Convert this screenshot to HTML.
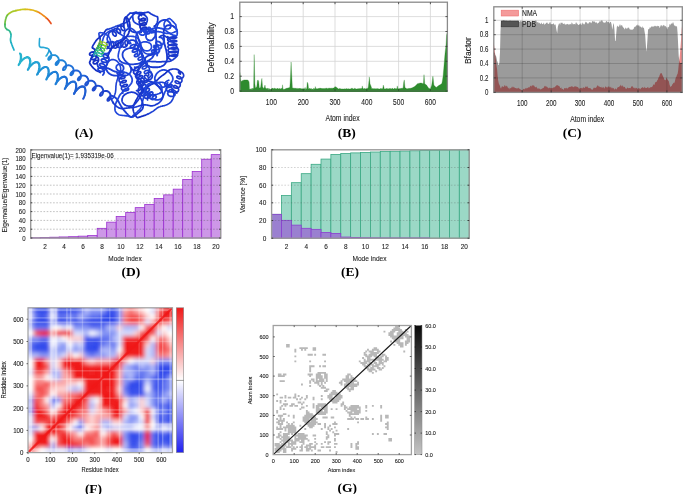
<!DOCTYPE html>
<html><head><meta charset="utf-8"><style>
html,body{margin:0;padding:0;background:#fff;width:685px;height:494px;overflow:hidden}
svg{position:absolute;left:0;top:0;display:block}
</style></head><body>
<svg width="685" height="494" viewBox="0 0 685 494">
<path d="M51.0 23.5 L50.7 23.1 L50.3 22.4 L49.8 21.7 L49.2 20.9 L48.6 20.2 L48.0 19.5 L47.4 18.9 L46.8 18.3 L46.2 17.8" fill="none" stroke="#e8501e" stroke-width="1.7" stroke-linecap="round" stroke-linejoin="round"/>
<path d="M46.2 17.8 L45.5 17.2 L44.8 16.6 L44.0 16.0 L43.1 15.3 L42.2 14.6 L41.2 13.9 L40.1 13.2 L39.1 12.6 L38.0 12.0 L36.9 11.5" fill="none" stroke="#ef8a1c" stroke-width="1.7" stroke-linecap="round" stroke-linejoin="round"/>
<path d="M36.9 11.5 L35.7 11.1 L34.6 10.7 L33.4 10.3 L32.2 10.0 L31.0 9.8 L29.8 9.6 L28.6 9.5 L27.4 9.4 L26.3 9.3 L25.1 9.3" fill="none" stroke="#e2b51a" stroke-width="1.7" stroke-linecap="round" stroke-linejoin="round"/>
<path d="M25.1 9.3 L24.0 9.3 L22.9 9.4 L21.9 9.5 L20.9 9.6 L20.0 9.8 L19.0 10.0 L18.0 10.2 L17.0 10.4 L15.9 10.6" fill="none" stroke="#c8c81e" stroke-width="1.7" stroke-linecap="round" stroke-linejoin="round"/>
<path d="M15.9 10.6 L14.9 10.9 L13.9 11.1 L12.9 11.4 L12.0 11.8 L11.1 12.2 L10.3 12.7 L9.5 13.2 L8.8 13.7 L8.1 14.3 L7.5 15.0" fill="none" stroke="#a8c828" stroke-width="1.7" stroke-linecap="round" stroke-linejoin="round"/>
<path d="M7.5 15.0 L7.0 15.7 L6.6 16.5 L6.2 17.3 L6.0 18.2 L5.7 19.1 L5.5 20.0 L5.3 21.0 L5.1 22.0 L5.0 23.1 L5.0 24.2" fill="none" stroke="#70c040" stroke-width="1.7" stroke-linecap="round" stroke-linejoin="round"/>
<path d="M5.0 24.2 L5.0 25.2 L5.0 26.0 L5.1 26.7 L5.3 27.3 L5.5 27.8 L5.8 28.2 L6.1 28.6 L6.5 29.0 L6.9 29.4" fill="none" stroke="#40b860" stroke-width="1.7" stroke-linecap="round" stroke-linejoin="round"/>
<path d="M6.9 29.4 L7.4 29.7 L8.0 29.9 L8.6 30.2 L9.1 30.6 L9.5 31.0 L9.9 31.5 L10.2 32.1 L10.5 32.8 L10.7 33.5 L10.9 34.3" fill="none" stroke="#30b890" stroke-width="1.7" stroke-linecap="round" stroke-linejoin="round"/>
<path d="M10.9 34.3 L11.0 35.0 L11.0 35.8 L10.9 36.6 L10.8 37.4 L10.6 38.3 L10.5 39.2 L10.5 40.0 L10.6 40.8 L10.8 41.7 L11.1 42.5" fill="none" stroke="#28b8b8" stroke-width="1.7" stroke-linecap="round" stroke-linejoin="round"/>
<path d="M11.1 42.5 L11.4 43.3 L11.7 44.2 L12.0 45.0 L12.3 45.9 L12.7 46.9 L13.1 47.8 L13.5 48.7 L13.8 49.5 L14.0 50.0" fill="none" stroke="#20b0c8" stroke-width="1.7" stroke-linecap="round" stroke-linejoin="round"/>
<path d="M20.0 53.5 L20.6 54.7 L20.8 56.2 L20.8 58.0 L20.6 59.8 L20.1 61.5 L19.6 63.1 L19.1 64.2 L18.8 64.9 L18.6 65.1 L18.6 64.9 L19.0 64.2 L19.7 63.1 L20.6 61.8 L21.8 60.5 L23.2 59.2 L24.6 58.2 L26.0 57.6 L27.3 57.3" fill="none" stroke="#22b0cc" stroke-width="2.0" stroke-linecap="round" stroke-linejoin="round"/>
<path d="M27.3 57.3 L28.4 57.6 L29.3 58.4 L29.8 59.6 L30.1 61.2 L30.0 62.9 L29.7 64.8 L29.3 66.5 L28.8 68.0 L28.3 69.1 L28.0 69.8 L27.8 69.9 L27.9 69.6 L28.3 68.9 L29.0 67.8 L29.9 66.5 L31.1 65.2 L32.5 63.9 L33.9 62.9 L35.3 62.3" fill="none" stroke="#22a2d2" stroke-width="2.0" stroke-linecap="round" stroke-linejoin="round"/>
<path d="M35.3 62.3 L36.6 62.2 L37.7 62.5 L38.5 63.3 L39.1 64.6 L39.3 66.1 L39.2 67.9 L38.9 69.7 L38.5 71.5 L38.0 72.9 L37.5 74.0 L37.2 74.6 L37.0 74.7 L37.1 74.4 L37.5 73.6 L38.3 72.5 L39.3 71.2 L40.5 69.9 L41.9 68.6 L43.3 67.7" fill="none" stroke="#2094d4" stroke-width="2.0" stroke-linecap="round" stroke-linejoin="round"/>
<path d="M43.3 67.7 L44.7 67.1 L46.0 67.0 L47.0 67.4 L47.8 68.2 L48.3 69.5 L48.5 71.1 L48.4 72.9 L48.1 74.7 L47.7 76.4 L47.2 77.8 L46.7 78.9 L46.4 79.5 L46.2 79.5 L46.4 79.1 L46.8 78.3 L47.6 77.2 L48.6 75.9 L49.8 74.6 L51.2 73.4" fill="none" stroke="#2088d8" stroke-width="2.0" stroke-linecap="round" stroke-linejoin="round"/>
<path d="M51.2 73.4 L52.6 72.4 L54.0 71.9 L55.3 71.8 L56.3 72.2 L57.1 73.1 L57.6 74.4 L57.7 76.1 L57.6 77.9 L57.3 79.7 L56.8 81.4 L56.3 82.8 L55.9 83.8 L55.6 84.3 L55.5 84.3 L55.6 83.9 L56.1 83.1 L56.9 81.9 L57.9 80.6" fill="none" stroke="#1f7ad8" stroke-width="2.0" stroke-linecap="round" stroke-linejoin="round"/>
<path d="M57.9 80.6 L59.2 79.3 L60.6 78.1 L62.0 77.2 L63.4 76.7 L64.6 76.6 L65.6 77.1 L66.4 78.0 L66.8 79.4 L67.0 81.0 L66.8 82.8 L66.5 84.7 L66.0 86.3 L65.5 87.7 L65.1 88.6 L64.8 89.1 L64.7 89.1 L64.9 88.7 L65.4 87.8 L66.2 86.6" fill="none" stroke="#1f6cd6" stroke-width="2.0" stroke-linecap="round" stroke-linejoin="round"/>
<path d="M66.2 86.6 L67.2 85.3 L68.5 84.0 L69.9 82.8 L71.3 81.9 L72.7 81.5 L73.9 81.5 L74.9 82.0 L75.6 83.0 L76.1 84.3 L76.2 86.0 L76.0 87.8 L75.7 89.6 L75.2 91.3 L74.7 92.6 L74.2 93.5 L74.0 94.0 L73.9 93.9 L74.1 93.4 L74.7 92.5" fill="none" stroke="#1f60d4" stroke-width="2.0" stroke-linecap="round" stroke-linejoin="round"/>
<path d="M74.7 92.5 L75.5 91.3 L76.6 90.0 L77.8 88.6 L79.2 87.5 L80.7 86.7 L82.0 86.2 L83.2 86.3 L84.2 86.9 L84.9 87.9 L85.3 89.3 L85.4 91.0 L85.2 92.8 L84.9 94.6 L84.4 96.2 L83.9 97.5 L83.4 98.4 L83.2 98.8 L83.1 98.7" fill="none" stroke="#1f55d0" stroke-width="2.0" stroke-linecap="round" stroke-linejoin="round"/>
<path d="M21.0 54.1 L21.3 55.5 L21.4 57.1 L21.2 58.8 L20.9 60.4 L20.4 61.9 L20.0 63.1 L19.6 63.8 L19.3 64.1 L19.3 64.0 L19.6 63.4 L20.2 62.5 L21.0 61.4 L22.1 60.2 L23.4 59.0 L24.7 58.0 L26.1 57.4 L27.4 57.1 L28.6 57.3 L29.5 58.0 L30.1 59.0 L30.5 60.4 L30.6 62.0 L30.4 63.7 L30.0 65.4" fill="none" stroke="#28b4d0" stroke-width="1.6" stroke-linecap="round" stroke-linejoin="round"/>
<path d="M30.0 65.4 L29.6 66.8 L29.1 68.0 L28.7 68.7 L28.5 69.0 L28.5 68.9 L28.8 68.3 L29.3 67.4 L30.2 66.3 L31.3 65.1 L32.6 63.9 L33.9 62.9 L35.3 62.3 L36.6 62.0 L37.8 62.2 L38.7 62.9 L39.3 64.0 L39.7 65.4 L39.7 67.0 L39.5 68.7 L39.2 70.3 L38.7 71.8 L38.3 72.9 L37.9 73.7 L37.7 74.0" fill="none" stroke="#24a4d4" stroke-width="1.6" stroke-linecap="round" stroke-linejoin="round"/>
<path d="M37.7 74.0 L37.7 73.8 L37.9 73.2 L38.5 72.3 L39.4 71.2 L40.5 70.0 L41.7 68.8 L43.1 67.8 L44.5 67.2 L45.8 67.0 L46.9 67.2 L47.8 67.8 L48.5 68.9 L48.8 70.3 L48.9 71.9 L48.7 73.6 L48.3 75.3 L47.9 76.7 L47.4 77.9 L47.0 78.6 L46.8 78.9 L46.8 78.7 L47.1 78.1 L47.7 77.2 L48.5 76.1" fill="none" stroke="#2092d6" stroke-width="1.6" stroke-linecap="round" stroke-linejoin="round"/>
<path d="M48.5 76.1 L49.6 74.9 L50.9 73.7 L52.3 72.8 L53.7 72.1 L55.0 71.9 L56.1 72.1 L57.0 72.8 L57.6 73.9 L58.0 75.3 L58.0 76.9 L57.9 78.6 L57.5 80.2 L57.0 81.7 L56.6 82.8 L56.2 83.5 L56.0 83.8 L56.0 83.6 L56.3 83.0 L56.9 82.1 L57.7 81.0 L58.8 79.8 L60.1 78.6 L61.5 77.7 L62.9 77.0" fill="none" stroke="#1f80d8" stroke-width="1.6" stroke-linecap="round" stroke-linejoin="round"/>
<path d="M62.9 77.0 L64.2 76.8 L65.3 77.0 L66.2 77.7 L66.8 78.8 L67.1 80.2 L67.2 81.8 L67.0 83.6 L66.6 85.2 L66.2 86.6 L65.7 87.8 L65.3 88.5 L65.1 88.7 L65.1 88.6 L65.4 88.0 L66.0 87.0 L66.9 85.9 L68.0 84.7 L69.3 83.5 L70.7 82.6 L72.0 82.0 L73.3 81.7 L74.5 82.0 L75.4 82.7 L76.0 83.7" fill="none" stroke="#1f70d6" stroke-width="1.6" stroke-linecap="round" stroke-linejoin="round"/>
<path d="M76.0 83.7 L76.3 85.2 L76.4 86.8 L76.2 88.5 L75.8 90.1 L75.3 91.6 L74.9 92.7 L74.5 93.4 L74.3 93.7 L74.3 93.5 L74.6 92.9 L75.2 91.9 L76.1 90.8 L77.2 89.6 L78.5 88.4 L79.8 87.5 L81.2 86.9 L82.5 86.7 L83.6 86.9 L84.5 87.6 L85.1 88.7 L85.5 90.1 L85.5 91.8 L85.3 93.5 L84.9 95.1" fill="none" stroke="#1f60d2" stroke-width="1.6" stroke-linecap="round" stroke-linejoin="round"/>
<path d="M39.6 38.5 L39.5 39.7 L39.4 41.5 L39.3 43.4 L39.3 45.2 L39.6 46.5 L40.2 47.1 L41.0 47.4 L42.0 47.4 L43.0 47.3 L44.0 47.5 L45.1 47.8 L46.3 48.1 L47.5 48.4 L48.4 48.9 L49.0 49.5 L49.0 50.4 L48.7 51.7 L48.1 53.0 L47.4 54.1 L47.0 55.0 L46.7 55.5 L46.5 55.8 L46.3 55.9 L46.1 55.9 L46.0 56.0" fill="none" stroke="#28a8d6" stroke-width="1.6" stroke-linecap="round" stroke-linejoin="round"/>
<path d="M49.2 50.8 L50.2 51.7 L50.9 52.9 L51.3 54.2 L51.4 55.6 L51.2 57.0 L50.8 58.1 L50.2 59.0 L49.5 59.6 L48.9 59.9 L48.5 59.8 L48.2 59.3 L48.3 58.7 L48.6 57.8 L49.3 57.0 L50.2 56.1 L51.4 55.5 L52.8 55.1 L54.2 55.1 L55.5 55.3 L56.7 56.0 L57.7 56.9 L58.4 58.1 L58.8 59.5 L58.8 60.9 L58.6 62.2" fill="none" stroke="#2290d8" stroke-width="1.9" stroke-linecap="round" stroke-linejoin="round"/>
<path d="M58.6 62.2 L58.1 63.3 L57.5 64.2 L56.9 64.8 L56.3 65.0 L55.8 64.9 L55.6 64.4 L55.7 63.7 L56.0 62.9 L56.7 62.0 L57.7 61.2 L58.9 60.6 L60.3 60.2 L61.7 60.2 L63.0 60.5 L64.2 61.2 L65.2 62.1 L65.8 63.3 L66.2 64.7 L66.2 66.1 L66.0 67.4 L65.5 68.5 L64.9 69.4 L64.2 69.9 L63.7 70.1 L63.2 70.0" fill="none" stroke="#1f80d8" stroke-width="1.9" stroke-linecap="round" stroke-linejoin="round"/>
<path d="M63.2 70.0 L63.0 69.5 L63.1 68.8 L63.5 67.9 L64.2 67.1 L65.2 66.3 L66.4 65.7 L67.8 65.3 L69.2 65.3 L70.5 65.7 L71.7 66.4 L72.6 67.3 L73.3 68.6 L73.6 69.9 L73.6 71.3 L73.3 72.6 L72.9 73.7 L72.2 74.6 L71.6 75.1 L71.0 75.2 L70.6 75.1 L70.4 74.6 L70.5 73.8 L70.9 73.0 L71.7 72.1 L72.7 71.3" fill="none" stroke="#1f70d8" stroke-width="1.9" stroke-linecap="round" stroke-linejoin="round"/>
<path d="M72.7 71.3 L73.9 70.8 L75.3 70.4 L76.7 70.5 L78.0 70.8 L79.2 71.5 L80.1 72.6 L80.7 73.8 L81.0 75.2 L81.0 76.5 L80.7 77.8 L80.2 78.9 L79.6 79.7 L78.9 80.2 L78.4 80.4 L78.0 80.1 L77.8 79.6 L77.9 78.9 L78.4 78.1 L79.1 77.2 L80.2 76.4 L81.4 75.8 L82.8 75.6 L84.2 75.6 L85.5 76.0 L86.6 76.7" fill="none" stroke="#1f62d6" stroke-width="1.9" stroke-linecap="round" stroke-linejoin="round"/>
<path d="M86.6 76.7 L87.5 77.8 L88.1 79.0 L88.4 80.4 L88.4 81.8 L88.1 83.0 L87.6 84.1 L86.9 84.9 L86.3 85.4 L85.7 85.5 L85.3 85.2 L85.2 84.7 L85.3 84.0 L85.8 83.1 L86.6 82.2 L87.7 81.5 L88.9 80.9 L90.3 80.7 L91.7 80.7 L93.0 81.2 L94.1 81.9 L95.0 83.0 L95.6 84.2 L95.8 85.6 L95.8 87.0 L95.4 88.3" fill="none" stroke="#1f55d2" stroke-width="1.9" stroke-linecap="round" stroke-linejoin="round"/>
<path d="M95.4 88.3 L94.9 89.3 L94.3 90.1 L93.6 90.5 L93.1 90.6 L92.7 90.3 L92.6 89.8 L92.8 89.0 L93.3 88.2 L94.1 87.3 L95.2 86.6 L96.4 86.0 L97.8 85.8 L99.2 85.9 L100.5 86.3 L101.6 87.1 L102.4 88.2 L103.0 89.5 L103.2 90.9 L103.2 92.2 L102.8 93.5 L102.3 94.5 L101.6 95.3 L101.0 95.7 L100.5 95.7 L100.1 95.4" fill="none" stroke="#1f4ace" stroke-width="1.9" stroke-linecap="round" stroke-linejoin="round"/>
<path d="M100.1 95.4 L100.0 94.9 L100.2 94.1 L100.7 93.2 L101.6 92.4 L102.6 91.6 L103.9 91.1 L105.3 90.9 L106.7 91.0 L108.0 91.5 L109.1 92.3 L109.9 93.4 L110.4 94.7 L110.6 96.1 L110.5 97.4 L110.2 98.7 L109.6 99.7 L109.0 100.4 L108.4 100.8 L107.8 100.8 L107.5 100.5 L107.4 99.9 L107.6 99.1 L108.2 98.3 L109.0 97.4 L110.1 96.7" fill="none" stroke="#1f42cc" stroke-width="1.9" stroke-linecap="round" stroke-linejoin="round"/>
<path d="M107.0 48.7 L107.9 48.0 L108.7 47.1 L109.2 46.0 L109.4 44.7 L109.3 43.6 L108.9 42.7 L108.4 42.1 L107.8 41.9 L107.3 42.1 L106.8 42.7 L106.6 43.7 L106.7 44.8 L107.0 45.9 L107.6 47.0 L108.5 47.8 L109.5 48.4 L110.6 48.5 L111.7 48.2 L112.6 47.5 L113.3 46.6 L113.8 45.4 L113.9 44.2 L113.8 43.1 L113.5 42.2 L112.9 41.7 L112.3 41.5 L111.8 41.8 L111.4 42.4 L111.2 43.3 L111.3 44.4 L111.6 45.6 L112.3 46.7 L113.2 47.5 L114.2 48.0 L115.3 48.1 L116.3 47.7 L117.3 47.1 L118.0 46.1 L118.4 44.9 L118.5 43.7 L118.4 42.6 L118.0 41.7 L117.5 41.2 L116.9 41.1 L116.3 41.4 L115.9 42.1 L115.8 43.0 L115.9 44.1 L116.3 45.3 L116.9 46.3 L117.8 47.1 L118.9 47.6 L120.0 47.6 L121.0 47.3 L121.9 46.6 L122.6 45.5 L123.0 44.4 L123.1 43.2 L122.9 42.1 L122.5 41.3 L122.0 40.8 L121.4 40.7 L120.9 41.0 L120.5 41.7 L120.3 42.7 L120.5 43.8 L120.9 45.0 L121.6 46.0 L122.5 46.8 L123.6 47.2 L124.7 47.2 L125.7 46.8 L126.6 46.1 L127.2 45.0 L127.6 43.8 L127.7 42.6 L127.5 41.6 L127.1 40.8 L126.5 40.3 L125.9 40.3 L125.4 40.7 L125.1 41.4 L124.9 42.4 L125.1 43.5 L125.5 44.7 L126.2 45.7" fill="none" stroke="#1a38cc" stroke-width="1.7" stroke-linecap="round" stroke-linejoin="round"/>
<path d="M167.6 36.7 L168.4 37.3 L169.6 37.9 L171.1 38.2 L172.7 38.4 L174.2 38.3 L175.5 38.1 L176.3 37.8 L176.7 37.5 L176.4 37.1 L175.7 36.9 L174.5 36.7 L173.0 36.8 L171.4 37.0 L169.9 37.5 L168.7 38.1 L167.9 38.8 L167.6 39.5 L167.8 40.3 L168.6 40.9 L169.8 41.5 L171.3 41.8 L172.9 42.0 L174.4 41.9 L175.7 41.7 L176.5 41.4 L176.8 41.1 L176.6 40.7 L175.8 40.5 L174.7 40.3 L173.2 40.4 L171.6 40.6 L170.1 41.1 L168.8 41.7 L168.0 42.4 L167.7 43.2 L168.0 43.9 L168.8 44.5 L170.0 45.1 L171.5 45.4 L173.1 45.6 L174.6 45.5 L175.8 45.3 L176.7 45.0 L177.0 44.6 L176.8 44.3 L176.0 44.0 L174.8 43.9 L173.3 44.0 L171.7 44.2 L170.2 44.7 L169.0 45.3 L168.2 46.0 L167.9 46.8 L168.2 47.5 L168.9 48.2 L170.2 48.7 L171.7 49.0 L173.3 49.2 L174.8 49.1 L176.0 48.9 L176.9 48.6 L177.2 48.2 L176.9 47.9 L176.1 47.6 L174.9 47.5 L173.4 47.6 L171.9 47.9 L170.4 48.3 L169.1 48.9 L168.3 49.6 L168.0 50.4 L168.3 51.1 L169.1 51.8 L170.3 52.3 L171.9 52.6 L173.5 52.7 L175.0 52.7 L176.2 52.5 L177.0 52.2 L177.3 51.8 L177.1 51.5 L176.3 51.2 L175.1 51.1 L173.6 51.2 L172.0 51.5 L170.5 51.9 L169.3 52.5 L168.5 53.2 L168.2 54.0 L168.5 54.7 L169.3 55.4 L170.5 55.9 L172.0 56.2 L173.7 56.3 L175.2 56.3 L176.4 56.1 L177.2 55.8 L177.5 55.4 L177.2 55.1 L176.4 54.8 L175.2 54.7 L173.7 54.8 L172.1 55.1 L170.6 55.5 L169.4 56.1 L168.6 56.8 L168.4 57.6 L168.7 58.3 L169.5 59.0 L170.7 59.5" fill="none" stroke="#1a38cc" stroke-width="1.7" stroke-linecap="round" stroke-linejoin="round"/>
<path d="M117.1 73.5 L117.8 74.2 L118.9 74.6 L120.1 74.8 L121.3 74.7 L122.4 74.4 L123.2 73.9 L123.7 73.4 L123.8 72.9 L123.5 72.5 L122.9 72.3 L122.0 72.3 L120.9 72.6 L119.8 73.2 L118.9 73.9 L118.2 74.8 L117.8 75.8 L117.9 76.8 L118.3 77.6 L119.1 78.2 L120.2 78.6 L121.4 78.8 L122.6 78.7 L123.7 78.3 L124.5 77.9 L124.9 77.4 L125.0 76.9 L124.7 76.5 L124.0 76.3 L123.1 76.4 L122.0 76.7 L120.9 77.3 L120.0 78.0 L119.3 79.0 L119.0 79.9 L119.1 80.9 L119.6 81.7 L120.4 82.3 L121.5 82.7 L122.7 82.8 L123.9 82.7 L125.0 82.3 L125.7 81.9 L126.2 81.3 L126.2 80.8 L125.8 80.5 L125.1 80.3 L124.2 80.4 L123.1 80.8 L122.0 81.4 L121.1 82.2 L120.5 83.1 L120.2 84.1 L120.4 85.0 L120.9 85.8 L121.7 86.4 L122.8 86.7 L124.0 86.8 L125.2 86.7 L126.3 86.3 L127.0 85.8 L127.4 85.3 L127.4 84.8 L127.0 84.5 L126.2 84.3 L125.3 84.5 L124.2 84.8 L123.1 85.4 L122.3 86.3 L121.7 87.2 L121.4 88.2 L121.6 89.1 L122.1 89.9 L123.0 90.5 L124.2 90.8 L125.4 90.8 L126.5 90.7 L127.6 90.3 L128.3 89.8 L128.6 89.3 L128.6 88.8 L128.1 88.5 L127.4 88.4 L126.4 88.5 L125.3 88.9 L124.3 89.5 L123.4 90.4 L122.8 91.3 L122.6 92.3 L122.8 93.2" fill="none" stroke="#1a38cc" stroke-width="1.7" stroke-linecap="round" stroke-linejoin="round"/>
<path d="M136.5 90.7 L137.5 90.9 L138.5 90.7 L139.6 90.2 L140.5 89.5 L141.2 88.7 L141.6 87.9 L141.7 87.2 L141.5 86.7 L141.0 86.6 L140.4 86.7 L139.7 87.2 L139.0 88.0 L138.4 88.9 L138.1 90.0 L138.0 91.1 L138.3 92.1 L138.8 92.9 L139.6 93.3 L140.6 93.4 L141.7 93.2 L142.7 92.7 L143.6 92.0 L144.3 91.2 L144.7 90.4 L144.7 89.7 L144.5 89.3 L144.0 89.1 L143.4 89.3 L142.7 89.8 L142.0 90.6 L141.5 91.6 L141.1 92.7 L141.1 93.8 L141.4 94.7 L142.0 95.5 L142.8 95.9 L143.8 96.0 L144.8 95.8 L145.9 95.2 L146.7 94.5 L147.4 93.7 L147.8 92.9 L147.8 92.2 L147.6 91.8 L147.1 91.7 L146.4 91.9 L145.7 92.4 L145.0 93.2 L144.5 94.2 L144.2 95.3 L144.2 96.4 L144.5 97.4 L145.1 98.1 L145.9 98.5 L146.9 98.5 L148.0 98.3 L149.0 97.8 L149.9 97.0 L150.5 96.2 L150.8 95.4 L150.9 94.8 L150.6 94.3 L150.1 94.2 L149.4 94.5 L148.7 95.0 L148.1 95.8 L147.5 96.9 L147.3 98.0 L147.3 99.0 L147.6 100.0" fill="none" stroke="#1a38cc" stroke-width="1.7" stroke-linecap="round" stroke-linejoin="round"/>
<path d="M112.0 99.0 L112.6 98.5 L113.1 97.9 L113.6 97.2 L114.0 96.5 L114.3 95.8 L114.6 95.0 L114.9 94.3 L115.1 93.5 L115.3 92.8 L115.5 92.0 L115.6 91.2 L115.7 90.4 L115.8 89.6 L115.8 88.8 L115.9 88.0 L115.9 87.2 L115.9 86.4 L116.0 85.6 L116.1 84.8 L116.2 84.0 L116.3 83.2 L116.5 82.4 L116.7 81.7 L116.9 80.9 L117.1 80.1 L117.4 79.4 L117.7 78.6 L118.0 77.9 L118.3 77.2 L118.7 76.4 L119.0 75.7 L119.3 75.0 L119.6 74.2 L119.9 73.5 L120.2 72.7 L120.4 72.0 L120.6 71.2 L120.7 70.4 L120.7 69.6 L120.7 68.8 L120.6 68.0 L120.5 67.2 L120.3 66.4 L120.1 65.7 L119.8 64.9 L119.5 64.2 L119.1 63.5 L118.6 62.9 L118.1 62.3 L117.5 61.7 L116.9 61.2 L116.3 60.7 L115.6 60.3 L114.8 60.0 L114.1 59.8 L113.3 59.6 L112.5 59.6 L111.7 59.6 L110.9 59.9 L110.2 60.2 L109.6 60.7 L109.0 61.3 L108.4 61.9 L107.9 62.5 L107.5 63.1 L107.0 63.8 L106.7 64.5 L106.4 65.2 L106.2 66.0 L106.2 66.8 L106.2 67.6 L106.2 68.4 L106.4 69.2 L106.6 70.0 L106.9 70.7 L107.3 71.4" fill="none" stroke="#1e42d6" stroke-width="1.6090541791316095" stroke-linecap="round" stroke-linejoin="round"/>
<path d="M107.3 71.4 L107.7 72.1 L108.3 72.7 L108.9 73.2 L109.5 73.7 L110.2 74.1 L110.8 74.6 L111.6 74.9 L112.3 75.2 L113.1 75.4 L113.9 75.5 L114.7 75.6 L115.5 75.6 L116.3 75.6 L117.1 75.6 L117.9 75.6 L118.7 75.6 L119.5 75.6 L120.3 75.5 L121.1 75.5 L121.9 75.5 L122.7 75.5 L123.5 75.5 L124.3 75.5 L125.1 75.5 L125.9 75.5 L126.6 75.3 L127.4 75.0 L128.1 74.7 L128.8 74.2 L129.4 73.7 L129.9 73.1 L130.4 72.5 L130.8 71.8 L131.0 71.0 L131.1 70.2 L131.1 69.4 L131.0 68.6 L130.8 67.8 L130.5 67.1 L130.2 66.4 L129.8 65.7 L129.4 65.0 L128.9 64.4 L128.3 63.8 L127.8 63.2 L127.2 62.7 L126.6 62.1 L126.0 61.6 L125.5 61.0 L124.9 60.4 L124.4 59.7 L124.0 59.1 L123.6 58.4 L123.2 57.7 L122.9 56.9 L122.7 56.2 L122.6 55.4 L122.5 54.6 L122.6 53.8 L122.7 53.0 L123.0 52.3 L123.4 51.6 L123.9 50.9 L124.5 50.4 L125.1 49.8 L125.8 49.4 L126.5 49.1 L127.2 48.8 L128.0 48.5 L128.8 48.3 L129.5 48.2 L130.3 48.1 L131.1 48.0 L131.9 47.9 L132.7 47.9 L133.5 47.9 L134.3 48.1 L135.1 48.2 L135.9 48.4 L136.6 48.7 L137.4 49.0 L138.0 49.4 L138.6 50.0 L139.2 50.5 L139.7 51.2 L140.2 51.8 L140.6 52.5 L141.0 53.2 L141.3 53.9 L141.6 54.6 L141.9 55.4 L142.2 56.1 L142.5 56.9 L142.6 57.7 L142.8 58.5 L142.8 59.3 L142.7 60.1 L142.5 60.8 L142.3 61.6 L142.0 62.3 L141.7 63.1 L141.3 63.8 L140.8 64.4 L140.3 65.0 L139.7 65.6 L139.1 66.1 L138.4 66.5 L137.7 66.9 L136.9 67.1 L136.2 67.3 L135.4 67.3 L134.6 67.2" fill="none" stroke="#1c40d4" stroke-width="1.8001167690603725" stroke-linecap="round" stroke-linejoin="round"/>
<path d="M131.4 67.8 L131.9 69.1 L132.9 70.1 L134.3 70.7 L135.8 70.7 L137.2 70.3 L138.3 69.5 L138.7 68.6 L138.6 67.9 L137.8 67.5 L136.7 67.6 L135.5 68.2 L134.3 69.2 L133.6 70.6 L133.5 72.1 L134.0 73.4 L135.1 74.4 L136.5 74.8 L138.1 74.8 L139.5 74.3 L140.4 73.5 L140.8 72.6 L140.6 71.9 L139.8 71.6 L138.6 71.7 L137.4 72.4 L136.3 73.5 L135.7 74.9 L135.6 76.4 L136.2 77.7 L137.3 78.6 L138.8 79.0 L140.3 78.9 L141.7 78.3 L142.6 77.5 L142.9 76.7 L142.5 76.0 L141.7 75.7 L140.5 75.9 L139.3 76.6 L138.2 77.8 L137.7 79.2 L137.7 80.7 L138.4 81.9 L139.5 82.8" fill="none" stroke="#1838d0" stroke-width="1.8133419444733785" stroke-linecap="round" stroke-linejoin="round"/>
<path d="M142.3 83.2 L142.6 82.2 L142.3 81.3 L141.6 80.9 L140.6 81.0 L139.5 81.6 L138.8 82.8 L138.5 84.3 L138.7 85.8 L139.5 87.2 L140.8 88.1 L142.3 88.5 L143.8 88.3 L145.0 87.7 L145.8 86.7 L146.0 85.7 L145.7 84.9 L144.9 84.5 L143.9 84.7 L142.9 85.4 L142.1 86.6 L141.9 88.1 L142.2 89.6 L143.1 90.9 L144.4 91.8 L145.9 92.2 L147.4 91.9 L148.6 91.3 L149.3 90.3 L149.4 89.3 L149.0 88.5 L148.2 88.2 L147.2 88.4 L146.2 89.2 L145.5 90.4 L145.3 91.9 L145.7 93.5 L146.6 94.7 L148.0 95.6 L149.5 95.8 L151.0 95.5 L152.1 94.8 L152.8 93.8 L152.8 92.8 L152.4 92.1 L151.5 91.8 L150.5 92.1 L149.5 93.0 L148.9 94.2 L148.8 95.8 L149.2 97.3 L150.2 98.5 L151.6 99.3 L153.1 99.5 L154.5 99.1 L155.6 98.4 L156.2 97.4 L156.2 96.4 L155.7 95.7 L154.8 95.5 L153.8 95.8 L152.9 96.7 L152.3 98.1" fill="none" stroke="#1c40d4" stroke-width="1.780728582502297" stroke-linecap="round" stroke-linejoin="round"/>
<path d="M152.3 98.1 L152.9 98.6 L153.5 99.0 L154.3 99.4 L155.0 99.6 L155.8 99.8 L156.6 99.9 L157.4 99.9 L158.2 99.8 L159.0 99.7 L159.7 99.4 L160.5 99.1 L161.1 98.7 L161.8 98.2 L162.3 97.6 L162.7 96.9 L163.1 96.2 L163.5 95.5 L163.8 94.7 L164.1 94.0 L164.4 93.3 L164.7 92.5 L165.0 91.8 L165.4 91.1 L165.7 90.4 L166.1 89.6 L166.4 88.9 L166.8 88.2 L167.2 87.5 L167.6 86.8 L168.1 86.2 L168.6 85.6 L169.1 85.0 L169.7 84.4 L170.2 83.8 L170.7 83.2 L171.3 82.6 L171.7 82.0 L172.2 81.3 L172.5 80.5 L172.7 79.8 L172.9 79.0 L172.8 78.2 L172.7 77.4 L172.5 76.6 L172.1 75.9 L171.7 75.2 L171.3 74.6 L170.8 73.9 L170.3 73.3 L169.7 72.7 L169.2 72.2 L168.6 71.6 L167.9 71.2 L167.2 70.8 L166.5 70.5 L165.7 70.2 L164.9 70.0 L164.1 69.9 L163.3 69.9 L162.5 70.0 L161.8 70.2 L161.0 70.5 L160.3 70.8 L159.6 71.1 L158.9 71.6 L158.2 72.1 L157.7 72.6 L157.1 73.2 L156.6 73.8 L156.2 74.5 L155.8 75.2 L155.5 75.9 L155.2 76.7 L154.9 77.4 L154.8 78.2 L154.8 79.0 L154.9 79.8 L155.1 80.6 L155.3 81.3 L155.7 82.1 L156.0 82.8 L156.3 83.5 L156.7 84.2 L157.2 84.9 L157.7 85.5 L158.3 86.0 L159.0 86.5 L159.7 86.8 L160.5 87.0 L161.2 87.2 L162.0 87.2 L162.8 87.2 L163.6 87.1 L164.4 86.8 L165.1 86.5 L165.8 86.0 L166.3 85.5 L166.8 84.8 L167.2 84.1 L167.5 83.4 L167.7 82.6" fill="none" stroke="#2248dc" stroke-width="1.7702449284441806" stroke-linecap="round" stroke-linejoin="round"/>
<path d="M168.8 80.2 L167.5 80.7 L166.2 81.6 L165.2 82.8 L164.8 84.2 L165.1 85.5 L165.9 86.6 L167.3 87.2 L168.9 87.4 L170.4 87.2 L171.6 86.6 L172.1 85.8 L172.1 85.1 L171.3 84.7 L170.2 84.8 L168.8 85.2 L167.5 86.2 L166.6 87.4 L166.2 88.8 L166.6 90.1 L167.5 91.2 L168.9 91.8 L170.5 91.9 L172.0 91.6 L173.1 91.0 L173.6 90.3 L173.5 89.6 L172.7 89.2 L171.5 89.3 L170.1 89.8 L168.8 90.8 L168.0 92.1 L167.7 93.5 L168.1 94.8 L169.1 95.8 L170.5 96.4 L172.1 96.4 L173.6 96.1 L174.6 95.5 L175.1 94.7 L174.9 94.1 L174.0 93.7" fill="none" stroke="#1c40d4" stroke-width="1.7096612848298942" stroke-linecap="round" stroke-linejoin="round"/>
<path d="M176.8 93.2 L176.1 91.9 L175.0 90.9 L173.8 90.4 L172.6 90.3 L171.9 90.6 L171.7 91.2 L172.2 92.0 L173.2 92.6 L174.5 92.9 L176.0 92.7 L177.3 92.1 L178.3 91.1 L178.7 89.8 L178.4 88.4 L177.7 87.1 L176.5 86.2 L175.3 85.6 L174.2 85.6 L173.6 86.0 L173.4 86.6 L173.9 87.3 L175.0 87.9 L176.3 88.2 L177.8 88.0 L179.1 87.3 L180.0 86.3 L180.3 84.9 L180.1 83.5 L179.3 82.3 L178.1 81.4 L176.9 80.9 L175.8 80.9 L175.2 81.3 L175.1 82.0 L175.7 82.7 L176.8 83.2 L178.2 83.5 L179.7 83.2 L180.9 82.5 L181.8 81.4 L182.0 80.1 L181.7 78.7 L180.8 77.5 L179.7 76.6 L178.4 76.2 L177.4 76.2 L176.8 76.7 L176.9 77.4 L177.5 78.1 L178.6 78.6 L180.0 78.8 L181.5 78.5 L182.7 77.7 L183.5 76.6 L183.7 75.2 L183.3 73.9 L182.4 72.7 L181.2 71.8 L180.0 71.5 L179.0 71.6 L178.5 72.0 L178.6 72.7 L179.3 73.4 L180.4 73.9" fill="none" stroke="#1a3acc" stroke-width="1.6702826637233765" stroke-linecap="round" stroke-linejoin="round"/>
<path d="M180.4 73.9 L180.5 73.1 L180.3 72.3 L180.0 71.6 L179.6 70.9 L179.0 70.4 L178.3 69.9 L177.6 69.6 L176.9 69.3 L176.1 69.1 L175.3 69.0 L174.5 69.0 L173.7 69.0 L172.9 69.0 L172.1 69.2 L171.3 69.3 L170.5 69.5 L169.8 69.8 L169.1 70.2 L168.4 70.6 L167.8 71.1 L167.2 71.6 L166.6 72.2 L166.0 72.7 L165.4 73.3 L164.8 73.8 L164.2 74.2 L163.5 74.7 L162.8 75.2 L162.2 75.6 L161.5 76.1 L160.9 76.6 L160.3 77.1 L159.7 77.6 L159.1 78.1 L158.5 78.7 L158.0 79.3 L157.4 79.8 L156.8 80.4 L156.2 80.9 L155.6 81.4 L154.9 81.9 L154.3 82.4 L153.6 82.8 L153.0 83.3 L152.3 83.8 L151.7 84.2 L151.0 84.6 L150.3 85.0 L149.6 85.5 L149.0 85.9 L148.3 86.3 L147.6 86.8 L147.0 87.2 L146.3 87.7 L145.7 88.2 L145.1 88.8 L144.6 89.4 L144.0 89.9 L143.4 90.5 L142.9 91.0 L142.3 91.6 L141.7 92.2 L141.2 92.8 L140.7 93.4 L140.1 94.0 L139.6 94.6 L139.1 95.2 L138.7 95.9 L138.2 96.5 L137.8 97.2 L137.4 97.9 L137.0 98.6 L136.6 99.3 L136.2 100.0 L135.8 100.7 L135.4 101.4 L135.1 102.1 L134.7 102.8 L134.4 103.5 L134.1 104.3 L133.8 105.0 L133.5 105.8 L133.3 106.5 L133.1 107.3 L133.0 108.1 L133.1 108.9 L133.1 109.7 L133.3 110.5 L133.5 111.3 L133.7 112.0 L134.0 112.8 L134.3 113.5 L134.7 114.2 L135.1 114.9 L135.5 115.6 L136.0 116.3 L136.5 116.9 L137.0 117.4 L137.8 117.6 L138.6 117.4 L139.4 117.2 L140.1 116.9 L140.9 116.6 L141.6 116.3 L142.4 116.1 L143.2 115.9 L143.9 115.6 L144.7 115.4 L145.4 115.1 L146.2 114.8 L146.9 114.5 L147.6 114.2" fill="none" stroke="#1530c4" stroke-width="1.7044389774528388" stroke-linecap="round" stroke-linejoin="round"/>
<path d="M147.6 114.2 L148.4 113.9 L149.1 113.5 L149.8 113.1 L150.5 112.7 L151.2 112.3 L151.9 111.9 L152.6 111.5 L153.2 111.1 L153.9 110.6 L154.5 110.1 L155.1 109.6 L155.8 109.1 L156.4 108.6 L157.0 108.1 L157.7 107.7 L158.4 107.3 L159.1 107.0 L159.9 106.7 L160.6 106.4 L161.4 106.2 L162.2 106.1 L163.0 105.9 L163.8 105.8 L164.5 105.6 L165.3 105.3 L166.1 105.0 L166.8 104.7 L167.5 104.4 L168.2 104.0 L168.9 103.6 L169.6 103.2 L170.2 102.6 L170.8 102.1 L171.3 101.5 L171.8 100.9 L172.2 100.2 L172.6 99.5 L172.9 98.8 L173.2 98.0 L173.5 97.3 L173.7 96.5 L173.8 95.7 L173.9 94.9 L173.9 94.1 L173.8 93.3 L173.7 92.5 L173.6 91.7 L173.4 90.9 L173.1 90.2 L172.8 89.4 L172.4 88.7 L172.0 88.1 L171.5 87.4 L170.9 86.9 L170.3 86.4 L169.7 85.9 L169.0 85.4 L168.3 85.0 L167.7 84.6 L167.0 84.1 L166.3 83.8 L165.6 83.4 L164.8 83.1 L164.1 82.8 L163.3 82.6 L162.5 82.4 L161.7 82.3 L160.9 82.2 L160.1 82.3 L159.4 82.4 L158.6 82.5 L157.8 82.6 L157.0 82.8 L156.2 82.9 L155.4 83.1 L154.6 83.2 L153.9 83.4 L153.1 83.7 L152.3 83.9 L151.6 84.1 L150.8 84.4 L150.1 84.7 L149.3 85.0 L148.6 85.3 L147.9 85.7 L147.3 86.2 L146.7 86.8 L146.3 87.4 L146.0 88.2 L145.8 88.9 L145.8 89.7 L146.0 90.5 L146.3 91.3 L146.7 91.9 L147.3 92.5 L147.9 93.1 L148.5 93.5 L149.2 93.9 L149.9 94.3 L150.7 94.5 L151.5 94.7 L152.3 94.9 L153.1 94.9 L153.9 94.9 L154.7 94.8 L155.4 94.6 L156.2 94.5 L157.0 94.3 L157.8 94.0 L158.5 93.8 L159.3 93.5 L160.0 93.2" fill="none" stroke="#1c40d4" stroke-width="1.6602220334339624" stroke-linecap="round" stroke-linejoin="round"/>
<path d="M160.0 93.2 L160.7 92.7 L161.2 92.1 L161.6 91.4 L161.9 90.7 L162.0 89.9 L162.0 89.1 L161.9 88.3 L161.8 87.5 L161.6 86.7 L161.3 86.0 L160.9 85.3 L160.5 84.6 L160.0 84.0 L159.4 83.5 L158.7 83.0 L158.0 82.7 L157.2 82.4 L156.4 82.2 L155.6 82.2 L154.8 82.1 L154.0 82.1 L153.3 82.2 L152.5 82.3 L151.7 82.5 L150.9 82.7 L150.2 83.0 L149.4 83.3 L148.7 83.7 L148.1 84.2 L147.5 84.7 L146.9 85.3 L146.5 86.0 L146.1 86.7 L145.7 87.4 L145.4 88.1 L145.2 88.9 L144.9 89.6 L144.7 90.4 L144.5 91.2 L144.3 91.9 L144.1 92.7 L144.0 93.5 L143.9 94.3 L143.8 95.1 L143.7 95.9 L143.6 96.7 L143.5 97.5 L143.4 98.3 L143.2 99.1 L143.0 99.8 L142.8 100.6 L142.5 101.4 L142.3 102.1 L142.1 102.9 L141.9 103.7 L141.7 104.5 L141.6 105.2 L141.4 106.0 L141.2 106.8 L140.9 107.5 L140.5 108.3 L140.1 108.9 L139.6 109.6 L139.1 110.2 L138.5 110.7 L137.9 111.2 L137.3 111.8 L136.7 112.3 L136.1 112.8 L135.5 113.4 L134.9 113.9 L134.3 114.5 L133.8 115.0 L133.2 115.5 L132.6 116.1 L132.0 116.6 L131.4 117.2 L130.6 117.1 L129.9 116.8 L129.1 116.5 L128.4 116.2 L127.6 116.0 L126.8 115.9 L126.0 115.8 L125.2 115.7 L124.4 115.6 L123.6 115.5 L122.8 115.5 L122.0 115.4 L121.3 115.3 L120.5 115.2 L119.7 115.0 L118.9 114.7 L118.2 114.3 L117.5 113.9 L116.9 113.4 L116.4 112.8 L115.9 112.2 L115.5 111.5 L115.2 110.8 L115.0 110.0 L114.9 109.2 L114.9 108.4 L114.9 107.6 L115.0 106.8 L115.1 106.0 L115.3 105.2 L115.4 104.4 L115.7 103.7 L116.0 102.9 L116.3 102.2 L116.7 101.5" fill="none" stroke="#2248dc" stroke-width="1.6666880440198832" stroke-linecap="round" stroke-linejoin="round"/>
<path d="M116.7 101.5 L117.0 100.8 L117.4 100.1 L117.7 99.3 L118.1 98.6 L118.4 97.9 L118.8 97.2 L119.1 96.5 L119.5 95.7 L119.9 95.1 L120.4 94.4 L120.9 93.8 L121.5 93.3 L122.1 92.7 L122.6 92.2 L123.2 91.6 L123.9 91.1 L124.5 90.6 L125.1 90.1 L125.7 89.6 L126.3 89.1 L126.9 88.6 L127.5 88.0 L128.0 87.4 L128.5 86.8 L129.0 86.2 L129.6 85.6 L130.1 84.9 L130.6 84.3 L131.1 83.7 L131.5 83.0 L131.8 82.3 L132.0 81.5 L132.2 80.7 L132.2 79.9 L132.1 79.1 L132.0 78.3 L131.7 77.6 L131.4 76.9 L131.0 76.2 L130.5 75.5 L130.0 74.9 L129.4 74.4 L128.7 73.9 L128.0 73.5 L127.3 73.2 L126.6 72.9 L125.8 72.6 L125.0 72.4 L124.3 72.2 L123.5 72.1 L122.7 71.9 L121.9 71.8 L121.1 71.6 L120.4 71.4 L119.6 71.1 L118.9 70.8 L118.1 70.5 L117.5 70.0 L116.9 69.5 L116.5 68.8 L116.2 68.0 L116.2 67.2 L116.4 66.4 L116.7 65.7 L117.2 65.1 L117.9 64.6 L118.6 64.3 L119.4 64.2 L120.2 64.2 L121.0 64.4 L121.7 64.7" fill="none" stroke="#2248dc" stroke-width="1.7552664543685825" stroke-linecap="round" stroke-linejoin="round"/>
<path d="M121.7 64.7 L122.3 65.2 L122.8 65.8 L123.3 66.5 L123.5 67.3 L123.6 68.1 L123.5 68.8 L123.2 69.6 L122.8 70.3 L122.3 70.8 L121.6 71.3 L120.9 71.7 L120.1 72.0 L119.4 72.1 L118.6 72.2 L117.8 72.2 L117.0 72.1 L116.2 71.9 L115.4 71.7 L114.6 71.5 L113.9 71.2 L113.2 70.9 L112.5 70.5 L111.8 70.1 L111.1 69.7 L110.4 69.3 L109.7 69.0 L108.9 68.7 L108.2 68.4 L107.4 68.2 L106.6 68.1 L105.8 68.0 L105.0 68.0 L104.2 68.0 L103.4 68.0 L102.6 68.1 L101.8 68.1 L101.0 68.1 L100.2 68.1 L99.4 68.0 L98.8 67.6 L98.3 66.9 L97.9 66.2 L97.7 65.4 L97.5 64.7 L97.2 63.9 L96.9 63.2" fill="none" stroke="#1c40d4" stroke-width="1.877812008418409" stroke-linecap="round" stroke-linejoin="round"/>
<path d="M97.4 60.4 L95.9 60.4 L94.5 60.9 L93.5 61.7 L93.2 62.6 L93.5 63.4 L94.4 63.9 L95.6 63.8 L96.9 63.2 L98.0 62.0 L98.6 60.6 L98.6 59.0 L98.0 57.6 L96.8 56.6 L95.3 56.2 L93.8 56.2 L92.4 56.8 L91.6 57.7 L91.4 58.6 L91.8 59.3 L92.7 59.7 L94.0 59.5 L95.3 58.8 L96.3 57.6 L96.8 56.1 L96.7 54.6 L96.0 53.2 L94.7 52.3 L93.2 51.9 L91.7 52.1 L90.4 52.7 L89.7 53.6 L89.6 54.5 L90.1 55.2 L91.1 55.5 L92.4 55.2 L93.6 54.4 L94.6 53.1 L95.0 51.6 L94.8 50.1 L94.0 48.8 L92.6 48.0" fill="none" stroke="#1530c4" stroke-width="1.7756216637653055" stroke-linecap="round" stroke-linejoin="round"/>
<path d="M92.6 48.0 L92.3 47.3 L92.5 46.5 L92.8 45.8 L93.2 45.1 L93.6 44.4 L94.1 43.7 L94.5 43.0 L94.9 42.3 L95.4 41.7 L95.8 41.0 L96.3 40.4 L96.8 39.8 L97.4 39.2 L98.0 38.7 L98.6 38.2 L99.2 37.7 L99.8 37.1 L100.4 36.6 L101.0 36.0 L101.6 35.5 L102.2 35.0 L102.8 34.4 L103.3 33.8 L103.8 33.2 L104.2 32.5 L104.7 31.9 L105.1 31.2 L105.6 30.5 L106.0 29.9 L106.7 29.5 L107.5 29.3" fill="none" stroke="#1530c4" stroke-width="1.7079438216712381" stroke-linecap="round" stroke-linejoin="round"/>
<path d="M107.5 29.3 L108.3 29.2 L109.1 29.0 L109.8 28.7 L110.6 28.5 L111.3 28.2 L112.1 27.9 L112.8 27.6 L113.6 27.3 L114.3 27.0 L115.0 26.7 L115.8 26.3 L116.5 26.0 L117.3 25.8 L118.0 25.5 L118.8 25.3 L119.5 25.0 L120.3 24.7 L121.0 24.4 L121.8 24.2 L122.5 23.8 L123.2 23.5 L124.0 23.3 L124.8 23.0 L125.5 22.7 L126.2 22.4 L126.9 22.0 L127.6 21.5 L128.2 21.0 L128.7 20.4 L129.2 19.8 L129.7 19.1 L130.2 18.5 L130.6 17.8 L131.1 17.2 L131.6 16.6 L132.2 16.0 L132.7 15.4 L133.3 14.8 L133.8 14.2 L134.3 13.6 L134.8 13.0 L135.3 12.4 L136.1 12.2 L136.9 12.4 L137.6 12.8 L138.3 13.1 L139.1 13.4 L139.9 13.6 L140.6 13.8 L141.4 14.0 L142.2 14.2 L143.0 14.4 L143.7 14.7 L144.4 15.1 L145.1 15.5 L145.7 16.0 L146.2 16.6 L146.7 17.3 L147.1 18.0 L147.3 18.7 L147.3 19.5 L147.3 20.3 L147.2 21.1 L146.9 21.9 L146.6 22.6 L146.2 23.3 L145.7 23.9 L145.1 24.5 L144.5 24.9 L143.7 25.2 L142.9 25.4 L142.1 25.5 L141.4 25.5 L140.6 25.3 L139.8 25.1 L139.1 24.8 L138.3 24.5 L137.6 24.1 L136.9 23.8 L136.2 23.4 L135.5 23.0 L134.8 22.6 L134.2 22.0 L133.7 21.4 L133.4 20.7 L133.1 19.9 L133.0 19.1 L132.9 18.3 L132.8 17.5 L132.7 16.7 L132.7 15.9 L132.7 15.1 L132.9 14.4 L133.1 13.6 L133.4 12.8 L134.2 12.7 L134.9 12.8 L135.7 13.0 L136.5 13.3 L137.3 13.5 L138.0 13.7 L138.8 14.0 L139.5 14.3 L140.2 14.7 L140.9 15.1 L141.5 15.6" fill="none" stroke="#1c40d4" stroke-width="1.744275986140123" stroke-linecap="round" stroke-linejoin="round"/>
<path d="M144.5 14.2 L143.5 13.9 L142.1 14.0 L140.7 14.5 L139.4 15.5 L138.6 16.7 L138.5 18.1 L139.1 19.3 L140.2 20.3 L141.7 20.8 L143.3 20.8 L144.6 20.5 L145.4 19.8 L145.5 19.1 L145.0 18.6 L143.9 18.3 L142.5 18.5 L141.0 19.2 L139.9 20.3 L139.3 21.6 L139.3 22.9 L140.1 24.1 L141.3 24.9 L142.9 25.3 L144.4 25.2 L145.6 24.7 L146.2 24.1 L146.2 23.4 L145.5 22.9 L144.2 22.8 L142.8 23.1 L141.4 23.9 L140.4 25.0 L140.0 26.4 L140.2 27.7 L141.1 28.8 L142.5 29.5 L144.0 29.7 L145.5 29.5 L146.6 29.0 L147.0 28.3 L146.8 27.7 L145.9 27.3 L144.6 27.3 L143.1 27.7 L141.8 28.6 L140.9 29.8 L140.7 31.2 L141.1 32.4" fill="none" stroke="#1530c4" stroke-width="1.8828686987112984" stroke-linecap="round" stroke-linejoin="round"/>
<path d="M138.7 32.3 L139.4 33.6 L140.5 34.6 L141.8 35.2 L143.3 35.1 L144.5 34.5 L145.5 33.3 L146.0 31.9 L146.0 30.5 L145.5 29.3 L144.9 28.6 L144.1 28.5 L143.5 29.0 L143.3 29.9 L143.5 31.2 L144.2 32.4 L145.3 33.4 L146.7 34.0 L148.1 33.9 L149.4 33.3 L150.3 32.1 L150.8 30.7 L150.7 29.3 L150.3 28.1 L149.6 27.4 L148.9 27.3 L148.3 27.8 L148.1 28.8 L148.3 30.0 L149.0 31.3 L150.1 32.3 L151.5 32.8 L152.9 32.7 L154.2 32.0 L155.1 30.9 L155.6 29.5 L155.5 28.0 L155.1 26.9 L154.4 26.2" fill="none" stroke="#2248dc" stroke-width="1.8391830292007245" stroke-linecap="round" stroke-linejoin="round"/>
<path d="M154.4 26.2 L155.1 25.8 L155.7 25.3 L156.2 24.6 L156.5 23.9 L156.9 23.2 L157.2 22.5 L157.4 21.7 L157.6 20.9 L157.7 20.1 L157.8 19.3 L157.8 18.5 L157.7 17.7 L157.6 16.9 L157.0 16.5 L156.2 16.3 L155.4 16.0 L154.7 15.7 L154.0 15.4 L153.2 15.1 L152.5 14.7 L151.8 14.3 L151.1 13.9 L150.5 13.5 L149.8 13.0 L149.1 12.6 L148.5 12.1 L147.7 12.1 L146.9 12.3 L146.1 12.5 L145.3 12.6 L144.5 12.7 L143.7 12.8 L142.9 12.8 L142.1 12.8 L141.3 12.7 L140.6 12.6 L139.8 12.5 L139.0 12.7 L138.2 12.9 L137.4 13.0 L136.6 13.2 L135.9 13.2 L135.1 13.3 L134.3 13.3 L133.5 13.3 L132.7 13.2 L131.9 13.2 L131.1 13.1 L130.3 13.0 L129.6 13.5 L129.1 14.1 L128.5 14.7 L128.0 15.2 L127.4 15.8 L126.8 16.3 L126.2 16.8 L126.0 17.6 L126.0 18.4 L126.2 19.2 L126.4 20.0 L126.6 20.7 L126.8 21.5 L127.1 22.2 L127.4 23.0 L127.6 23.8 L127.7 24.6 L127.9 25.3" fill="none" stroke="#1838d0" stroke-width="1.7510154742357031" stroke-linecap="round" stroke-linejoin="round"/>
<path d="M127.9 25.3 L128.0 26.1 L128.3 26.9 L128.6 27.6 L129.0 28.3 L129.4 29.0 L129.9 29.6 L130.4 30.2 L131.0 30.8 L131.7 31.3 L132.3 31.7 L133.1 32.0 L133.8 32.2 L134.6 32.4 L135.4 32.4 L136.2 32.4 L137.0 32.4 L137.8 32.2 L138.6 32.0 L139.3 31.8 L140.1 31.5 L140.8 31.1 L141.5 30.8 L142.2 30.4 L143.0 30.1 L143.7 29.9 L144.5 29.7 L145.3 29.5 L146.1 29.4 L146.9 29.3 L147.7 29.2 L148.5 29.2 L149.3 29.1 L150.1 29.2 L150.9 29.3 L151.6 29.5 L152.4 29.8 L153.1 30.2 L153.7 30.6 L154.3 31.2 L154.8 31.9 L155.1 32.6 L155.3 33.4 L155.4 34.2 L155.3 35.0 L155.1 35.7 L154.8 36.5 L154.5 37.2 L154.0 37.9 L153.6 38.5 L153.0 39.1 L152.5 39.7 L151.8 40.1 L151.0 40.4 L150.2 40.5 L149.4 40.5 L148.7 40.3 L148.0 39.9" fill="none" stroke="#1c40d4" stroke-width="1.8490602282878386" stroke-linecap="round" stroke-linejoin="round"/>
<path d="M148.0 39.9 L147.3 39.4 L146.8 38.8 L146.4 38.1 L146.1 37.4 L146.0 36.6 L146.0 35.8 L146.1 35.0 L146.3 34.2 L146.5 33.4 L146.9 32.7 L147.4 32.1 L148.0 31.6 L148.6 31.1 L149.3 30.6 L150.0 30.2 L150.6 29.8 L151.3 29.4 L152.1 29.0 L152.8 28.7 L153.5 28.4 L154.3 28.2 L155.1 28.0 L155.9 27.9 L156.7 27.8 L157.5 27.8 L158.3 27.9 L159.1 28.0 L159.9 28.1 L160.6 28.3 L161.4 28.5 L162.2 28.7 L162.9 29.0 L163.6 29.4 L164.4 29.7 L165.1 30.1 L165.7 30.5 L166.4 31.0 L167.1 31.4 L167.7 31.9 L168.4 32.4 L169.0 32.8 L169.7 33.3 L170.3 33.7 L171.0 34.1 L171.7 34.5 L172.5 34.8 L173.2 35.1 L174.0 35.3 L174.8 35.5 L175.6 35.7 L176.3 35.8 L176.9 35.2 L177.1 34.4 L177.2 33.6 L177.2 32.8 L177.2 32.0 L177.1 31.3 L176.8 30.5 L176.5 29.8 L176.1 29.1 L175.6 28.4 L175.1 27.8 L174.6 27.2 L174.0 26.7" fill="none" stroke="#2248dc" stroke-width="1.8233095202507181" stroke-linecap="round" stroke-linejoin="round"/>
<path d="M174.0 26.7 L173.3 26.2 L172.6 25.9 L171.9 25.6 L171.1 25.4 L170.3 25.2 L169.5 25.2 L168.7 25.2 L167.9 25.3 L167.1 25.5 L166.4 25.9 L165.8 26.4 L165.2 27.0 L164.8 27.6 L164.4 28.3 L164.1 29.1 L163.9 29.8 L163.8 30.6 L163.7 31.4 L163.7 32.2 L163.7 33.0 L163.6 33.8 L163.6 34.6 L163.7 35.4 L163.7 36.2 L163.8 37.0 L163.9 37.8 L164.0 38.6 L164.0 39.4 L164.1 40.2 L164.1 41.0 L164.2 41.8 L164.3 42.6 L164.4 43.4 L164.6 44.2 L164.7 44.9 L165.0 45.7 L165.2 46.5 L165.4 47.3 L165.6 48.0 L165.8 48.8 L166.1 49.6 L166.2 50.3 L166.4 51.1 L166.5 51.9 L166.7 52.7 L166.8 53.5 L166.9 54.3 L167.0 55.1 L167.0 55.9 L167.1 56.7 L167.1 57.5 L167.1 58.3 L167.1 59.1 L166.9 59.9 L166.7 60.6 L166.4 61.4 L166.1 62.1 L165.7 62.8 L165.3 63.5 L164.8 64.2 L164.3 64.7 L163.6 65.2 L163.0 65.6 L162.2 66.0 L161.5 66.4 L160.8 66.6 L160.0 66.8 L159.2 67.0 L158.4 67.1 L157.6 67.2 L156.8 67.2 L156.0 67.3 L155.2 67.3 L154.4 67.3 L153.6 67.3 L152.8 67.2 L152.0 67.1 L151.3 67.0 L150.5 66.8 L149.7 66.5 L149.0 66.2 L148.3 65.9 L147.6 65.5 L146.9 65.0 L146.3 64.5 L145.8 63.9 L145.3 63.3 L144.9 62.6 L144.6 61.8 L144.4 61.0 L144.4 60.2 L144.6 59.5 L144.9 58.7 L145.3 58.0 L145.8 57.4 L146.4 56.9 L147.0 56.4 L147.7 56.0 L148.4 55.7 L149.2 55.4 L150.0 55.2 L150.7 55.0 L151.5 54.8 L152.3 54.6 L153.1 54.5 L153.9 54.3" fill="none" stroke="#1838d0" stroke-width="1.8650079512587556" stroke-linecap="round" stroke-linejoin="round"/>
<path d="M157.1 55.6 L157.3 54.1 L156.9 52.5 L156.0 51.1 L154.7 50.2 L153.4 49.9 L152.3 50.1 L151.7 50.8 L151.8 51.8 L152.5 52.8 L153.8 53.5 L155.4 53.8 L157.1 53.5 L158.4 52.6 L159.3 51.3 L159.5 49.7 L159.0 48.1 L158.0 46.8 L156.7 45.9 L155.4 45.7 L154.4 46.0 L153.9 46.7 L154.0 47.7 L154.8 48.7 L156.2 49.4 L157.8 49.6 L159.4 49.2 L160.7 48.3 L161.5 46.9 L161.6 45.3 L161.1 43.7 L160.1 42.4 L158.7 41.7 L157.4 41.4 L156.4 41.8 L156.0 42.6 L156.2 43.6 L157.1 44.6 L158.5 45.2 L160.1 45.4 L161.7 44.9 L163.0 43.9 L163.7 42.5 L163.8 40.9 L163.2 39.4 L162.1 38.1 L160.8 37.4 L159.5 37.2" fill="none" stroke="#2248dc" stroke-width="1.8976763434697232" stroke-linecap="round" stroke-linejoin="round"/>
<path d="M159.5 37.2 L160.0 36.6 L160.6 36.1 L161.3 35.8 L162.1 35.5 L162.9 35.5 L163.7 35.6 L164.4 35.8 L165.1 36.2 L165.8 36.6 L166.5 37.1 L167.1 37.6 L167.8 38.0 L168.4 38.5 L169.1 38.9 L169.7 39.4 L170.4 39.9 L171.0 40.4 L171.6 40.9 L172.2 41.4 L172.8 41.9 L173.4 42.5 L174.0 43.0 L174.6 43.6 L175.1 44.2 L175.6 44.8 L176.0 45.5 L176.4 46.2 L176.8 46.9 L177.2 47.6 L177.6 48.3 L178.0 49.0 L178.4 49.7 L178.3 50.5 L178.2 51.3 L178.1 52.1 L178.0 52.8 L177.8 53.6 L177.6 54.4 L177.3 55.2 L177.0 55.9 L176.6 56.6 L176.0 57.2 L175.5 57.7 L174.9 58.2 L174.2 58.7 L173.6 59.2 L172.9 59.7 L172.3 60.1 L171.6 60.5 L170.8 60.9 L170.1 61.1 L169.3 61.3 L168.5 61.4 L167.7 61.6 L166.9 61.7 L166.1 61.7 L165.3 61.7 L164.5 61.7 L163.7 61.7 L162.9 61.7 L162.1 61.7 L161.3 61.8 L160.5 61.9 L159.7 61.9 L158.9 61.9 L158.1 61.9 L157.4 61.9 L156.6 61.8 L155.8 61.7 L155.0 61.7 L154.2 61.7 L153.4 61.6 L152.6 61.6 L151.8 61.6 L151.0 61.5 L150.2 61.5 L149.4 61.5 L148.6 61.5 L147.8 61.6 L147.0 61.8 L146.2 62.0 L145.5 62.4 L144.8 62.8 L144.1 63.2 L143.5 63.7 L142.9 64.3 L142.4 64.9 L141.9 65.4 L141.3 66.0 L140.8 66.6 L140.3 67.3 L139.8 67.9 L139.4 68.6 L138.9 69.2 L138.6 70.0 L138.3 70.7 L138.0 71.5 L137.8 72.2 L137.6 73.0 L137.4 73.8 L137.2 74.5 L137.0 75.3 L136.9 76.1 L137.0 76.9 L137.0 77.7 L137.2 78.5 L137.4 79.3 L137.7 80.0 L138.0 80.7 L138.5 81.4 L139.0 82.0 L139.6 82.5" fill="none" stroke="#1a3acc" stroke-width="1.7246593361863165" stroke-linecap="round" stroke-linejoin="round"/>
<path d="M139.6 82.5 L140.2 83.1 L140.6 83.8 L141.0 84.4 L141.4 85.2 L141.7 85.9 L141.9 86.7 L142.1 87.4 L142.2 88.2 L142.3 89.0 L142.3 89.8 L142.2 90.6 L142.2 91.4 L142.1 92.2 L141.9 93.0 L141.7 93.8 L141.5 94.6 L141.2 95.3 L140.9 96.0 L140.4 96.7 L140.0 97.4 L139.5 98.0 L139.1 98.7 L138.6 99.3 L138.2 100.0 L137.7 100.7 L137.2 101.3 L136.7 101.9 L136.2 102.5 L135.7 103.1 L135.2 103.7 L134.6 104.3 L134.0 104.9 L133.4 105.3 L132.7 105.7 L131.9 106.0 L131.1 106.1 L130.3 106.2 L129.5 106.1 L128.7 106.1 L128.0 106.0 L127.2 105.8 L126.4 105.6 L125.7 105.3 L124.9 104.9 L124.3 104.5 L123.7 103.9 L123.2 103.3 L122.7 102.7 L122.4 102.0 L122.1 101.2 L122.0 100.4 L122.0 99.6 L122.1 98.8 L122.4 98.0 L122.6 97.3 L123.0 96.6 L123.4 95.9 L124.0 95.3 L124.6 94.8 L125.2 94.3 L125.9 93.9 L126.6 93.5 L127.3 93.2 L128.1 92.9 L128.8 92.7 L129.6 92.5 L130.4 92.3 L131.2 92.2 L132.0 92.2 L132.8 92.3 L133.6 92.4 L134.3 92.6 L135.1 92.9 L135.8 93.3 L136.5 93.7 L137.1 94.2 L137.7 94.7 L138.3 95.3 L138.8 95.8 L139.4 96.5 L139.9 97.1 L140.3 97.7 L140.8 98.4 L141.2 99.1 L141.5 99.8 L141.8 100.5 L142.1 101.3 L142.4 102.0 L142.6 102.8 L142.8 103.6 L143.0 104.4 L143.1 105.2 L143.2 106.0 L143.1 106.8 L143.0 107.5 L142.8 108.3 L142.4 109.0 L141.9 109.7 L141.4 110.3 L140.8 110.8 L140.2 111.3 L139.6 111.9 L139.0 112.4 L138.4 112.9 L137.8 113.4 L137.2 113.9 L136.6 114.4 L135.9 114.9 L135.2 115.3 L134.6 115.8 L133.9 116.2 L133.2 116.6" fill="none" stroke="#1838d0" stroke-width="1.7626953920884394" stroke-linecap="round" stroke-linejoin="round"/>
<path d="M133.2 116.6 L132.4 116.9 L131.7 117.1 L130.9 116.8 L130.2 116.5 L129.5 116.1 L128.9 115.6 L128.3 115.1 L127.7 114.5 L127.2 113.9 L126.6 113.3 L126.1 112.7 L125.6 112.1 L125.0 111.5 L124.5 110.9 L124.0 110.3 L123.5 109.7 L123.0 109.0 L122.6 108.4 L122.1 107.7 L121.7 107.0 L121.3 106.4 L120.8 105.7 L120.4 105.0 L120.0 104.3 L119.6 103.6 L119.2 102.9 L118.9 102.2 L118.5 101.5 L118.1 100.8 L117.6 100.1 L117.2 99.5 L116.7 98.9 L116.1 98.3 L115.5 97.8 L114.9 97.3 L114.2 96.8 L113.5 96.4 L112.8 96.1 L112.1 95.8 L111.3 95.6 L110.5 95.5 L110.2 96.2 L110.3 97.0 L110.6 97.8 L111.0 98.5 L111.3 99.2 L111.7 99.9 L112.0 100.6 L112.4 101.3 L112.8 102.0 L113.2 102.7" fill="none" stroke="#1c40d4" stroke-width="1.8486919839063827" stroke-linecap="round" stroke-linejoin="round"/>
<path d="M113.2 102.7 L113.7 103.4 L114.1 104.0 L114.7 104.6 L115.2 105.2 L115.8 105.7 L116.4 106.2 L117.1 106.7 L117.7 107.1 L118.4 107.6 L119.1 107.9 L119.9 108.2 L120.7 108.4 L121.4 108.6 L122.2 108.6 L123.0 108.6 L123.8 108.5 L124.6 108.4 L125.4 108.3 L126.2 108.2 L127.0 108.1 L127.8 108.0 L128.6 107.9 L129.4 107.8 L130.2 107.7 L131.0 107.7 L131.8 107.6 L132.6 107.5 L133.4 107.5 L134.2 107.3 L134.9 107.2 L135.7 107.0 L136.5 106.8 L137.3 106.5 L138.0 106.3 L138.8 106.0 L139.5 105.8 L140.3 105.5 L141.1 105.3 L141.8 105.1 L142.6 104.9 L143.4 104.8 L144.2 104.8 L145.0 104.8 L145.8 104.9 L146.6 105.0 L147.4 105.1 L148.2 105.3 L148.9 105.5 L149.7 105.6 L150.5 105.8 L151.3 105.9 L152.1 105.8 L152.9 105.7 L153.7 105.5 L154.4 105.3 L155.2 105.0 L155.9 104.6 L156.6 104.2 L157.3 103.9 L158.0 103.5 L158.7 103.0 L159.3 102.6 L159.9 102.0 L160.4 101.4 L161.0 100.8 L161.4 100.2 L161.9 99.5 L162.2 98.8 L162.6 98.1 L162.8 97.3 L163.0 96.5 L163.1 95.7 L163.1 94.9 L162.9 94.1 L162.7 93.4 L162.4 92.6 L162.1 91.9 L161.8 91.2 L161.4 90.5 L160.9 89.8 L160.5 89.1 L160.0 88.5 L159.5 87.9 L159.0 87.2 L158.5 86.6 L157.9 86.1 L157.3 85.5 L156.7 85.0 L156.1 84.5 L155.5 84.1 L154.8 83.6 L154.1 83.2 L153.4 82.7 L152.7 82.4 L152.0 82.0 L151.3 81.7 L150.5 81.5 L149.7 81.2 L149.0 81.1 L148.2 80.9 L147.4 80.8 L146.6 80.8 L145.8 80.8 L145.0 80.9 L144.2 81.0 L143.4 81.1 L142.6 81.4 L141.9 81.6 L141.2 82.0 L140.5 82.4 L139.9 82.9 L139.3 83.5" fill="none" stroke="#1838d0" stroke-width="1.7191105346518705" stroke-linecap="round" stroke-linejoin="round"/>
<path d="M136.9 81.2 L136.7 82.2 L137.1 83.4 L138.0 84.5 L139.4 85.3 L140.9 85.5 L142.5 85.2 L143.7 84.2 L144.4 82.8 L144.6 81.3 L144.2 79.7 L143.4 78.6 L142.4 77.9 L141.4 77.9 L140.8 78.5 L140.6 79.4 L141.0 80.6 L142.0 81.7 L143.4 82.5 L145.0 82.7 L146.5 82.3 L147.7 81.3 L148.4 79.9 L148.5 78.3 L148.0 76.8 L147.2 75.7 L146.2 75.1 L145.3 75.1 L144.6 75.7 L144.5 76.7 L145.0 77.9 L146.0 78.9 L147.4 79.7 L149.0 79.8 L150.5 79.4 L151.6 78.4 L152.3 76.9 L152.4 75.3 L151.9 73.9 L151.0 72.8 L150.0 72.2 L149.1 72.3 L148.5 72.9 L148.4 73.9 L148.9 75.1" fill="none" stroke="#1a3acc" stroke-width="1.6456731256457784" stroke-linecap="round" stroke-linejoin="round"/>
<path d="M148.9 77.7 L150.1 76.9 L151.1 75.7 L151.6 74.2 L151.4 72.7 L150.6 71.4 L149.3 70.6 L147.8 70.3 L146.3 70.5 L145.0 71.1 L144.3 72.0 L144.3 72.8 L144.8 73.4 L145.9 73.5 L147.1 73.1 L148.3 72.2 L149.2 70.9 L149.5 69.4 L149.2 67.9 L148.3 66.7 L146.9 66.0 L145.3 65.8 L143.9 66.2 L142.8 66.9 L142.2 67.7 L142.3 68.5 L143.0 69.0 L144.1 69.0 L145.4 68.5 L146.5 67.5 L147.3 66.1 L147.5 64.5 L147.0 63.1 L145.9 62.0 L144.5 61.5 L142.9 61.4 L141.5 61.8 L140.5 62.6 L140.1 63.5 L140.3 64.2 L141.2 64.6 L142.3 64.5 L143.6 63.8 L144.7 62.7 L145.3 61.3 L145.3 59.7 L144.7 58.4 L143.6 57.4 L142.1 56.9 L140.5 57.0 L139.2 57.5 L138.3 58.4 L138.0 59.2 L138.4 59.9 L139.3 60.2 L140.6 59.9 L141.8 59.1 L142.8 57.9 L143.3 56.4" fill="none" stroke="#1c40d4" stroke-width="1.639278930492882" stroke-linecap="round" stroke-linejoin="round"/>
<path d="M143.3 56.4 L143.0 55.7 L142.7 55.0 L142.5 54.2 L142.2 53.4 L142.0 52.7 L141.8 51.9 L141.6 51.1 L141.3 50.4 L141.1 49.6 L140.8 48.9 L140.5 48.1 L140.1 47.4 L139.8 46.7 L139.4 46.0 L139.0 45.3 L138.5 44.6 L138.1 43.9 L137.7 43.3 L137.3 42.6 L136.9 41.9 L136.5 41.2 L136.2 40.4" fill="none" stroke="#1c40d4" stroke-width="1.736409612070383" stroke-linecap="round" stroke-linejoin="round"/>
<path d="M136.2 40.4 L136.0 39.7 L135.9 38.9 L135.9 38.1 L135.9 37.3 L135.9 36.5 L136.1 35.7 L136.3 34.9 L136.6 34.2 L137.0 33.5 L137.5 32.8 L138.1 32.3 L138.7 31.8 L139.4 31.4 L140.2 31.2 L140.9 31.0 L141.7 30.9 L142.5 30.9 L143.3 31.0 L144.1 31.1 L144.9 31.2 L145.7 31.3 L146.5 31.4 L147.3 31.5 L148.1 31.5 L148.9 31.6 L149.7 31.7 L150.5 31.7 L151.3 31.7 L152.1 31.8 L152.9 31.8 L153.7 31.8 L154.5 31.9 L155.3 31.8 L156.1 31.8 L156.9 31.7 L157.7 31.7 L158.5 31.7 L159.3 31.8 L160.1 31.9 L160.9 32.0 L161.7 32.2 L162.4 32.5 L163.2 32.7 L164.0 32.9 L164.7 33.1 L165.5 33.2 L166.3 33.4 L167.1 33.4 L167.9 33.4 L168.7 33.4 L169.5 33.4 L170.3 33.3 L171.1 33.2 L171.9 33.0 L172.6 32.8 L173.4 32.5 L174.1 32.2 L174.9 31.9 L175.6 31.5 L176.3 31.2 L177.0 30.8 L177.1 30.0 L176.8 29.2 L176.5 28.5 L176.3 27.7 L176.2 26.9 L176.0 26.1 L175.9 25.3 L175.8 24.6 L175.2 24.0 L174.6 23.4 L174.1 22.8 L173.6 22.2 L173.0 21.6 L172.5 21.1 L171.9 20.5 L171.4 19.9 L170.7 19.4 L170.1 18.9 L169.4 18.5 L168.7 18.8 L168.0 19.1 L167.3 19.5 L166.6 19.9 L166.0 20.4 L165.4 21.0 L164.9 21.6 L164.5 22.3 L164.3 23.1 L164.1 23.9 L164.0 24.7 L164.1 25.5 L164.2 26.2 L164.5 27.0 L164.9 27.7 L165.5 28.3 L166.1 28.7 L166.9 29.0 L167.7 29.0 L168.5 28.9 L169.2 28.6 L169.9 28.2" fill="none" stroke="#2248dc" stroke-width="1.6726911097417974" stroke-linecap="round" stroke-linejoin="round"/>
<path d="M169.9 28.2 L170.4 27.5 L170.7 26.8 L170.9 26.0 L170.9 25.2 L170.7 24.5 L170.4 23.7 L170.0 23.0 L169.5 22.4 L168.9 21.8 L168.3 21.3 L167.7 20.8 L167.0 20.4 L166.3 20.1 L165.5 19.9 L164.7 19.9 L163.9 20.0 L163.1 20.1 L162.3 20.4 L161.6 20.7 L160.9 21.0 L160.2 21.5 L159.6 22.0 L159.0 22.5 L158.5 23.1 L158.1 23.8 L157.7 24.5 L157.4 25.3 L157.1 26.0 L156.9 26.8 L156.6 27.5 L156.4 28.3 L156.2 29.1 L156.1 29.9 L156.0 30.7 L155.9 31.5 L155.9 32.3 L155.9 33.1 L155.9 33.9 L155.9 34.7 L155.9 35.5 L156.0 36.3 L156.0 37.1 L156.1 37.9 L156.1 38.6 L156.2 39.4 L156.2 40.2 L156.3 41.0 L156.3 41.8 L156.3 42.6 L156.3 43.4 L156.3 44.2 L156.3 45.0 L156.2 45.8 L156.1 46.6 L156.0 47.4 L155.9 48.2 L155.7 49.0 L155.6 49.8 L155.4 50.6 L155.2 51.3 L155.0 52.1 L154.7 52.9 L154.4 53.6 L154.1 54.3 L153.8 55.1 L153.4 55.8 L153.0 56.5 L152.6 57.2 L152.1 57.8 L151.5 58.4 L150.9 58.9 L150.3 59.4 L149.6 59.8 L149.0 60.3 L148.3 60.6 L147.5 61.0 L146.8 61.3 L146.0 61.5 L145.3 61.8 L144.5 62.0 L143.7 62.2 L143.0 62.4 L142.2 62.6 L141.4 62.9 L140.7 63.1 L139.9 63.3 L139.1 63.5 L138.3 63.6 L137.5 63.8 L136.7 63.9 L136.0 64.0 L135.2 64.1 L134.4 64.2 L133.6 64.3 L132.8 64.4 L132.0 64.4 L131.2 64.4 L130.4 64.3 L129.6 64.2 L128.8 64.1 L128.0 63.9 L127.2 63.8 L126.4 63.6 L125.7 63.5 L124.9 63.3 L124.1 63.1 L123.3 62.9 L122.6 62.6 L121.9 62.3 L121.2 61.8 L120.6 61.4 L120.0 60.8" fill="none" stroke="#1c40d4" stroke-width="1.8508529401224592" stroke-linecap="round" stroke-linejoin="round"/>
<path d="M120.0 60.8 L119.4 60.2 L119.0 59.5 L118.8 58.8 L118.5 58.0 L118.3 57.2 L118.2 56.4 L118.2 55.6 L118.3 54.8 L118.4 54.1 L118.6 53.3 L118.7 52.5 L118.9 51.7 L119.1 50.9 L119.3 50.2 L119.5 49.4 L119.7 48.6 L119.9 47.8 L120.1 47.1 L120.3 46.3 L120.5 45.5 L120.7 44.7 L121.0 44.0 L121.3 43.2 L121.6 42.5 L121.9 41.8 L122.3 41.1 L122.7 40.4 L123.1 39.7 L123.5 39.0 L124.0 38.4 L124.6 37.9 L125.3 37.4 L126.0 37.0 L126.7 36.7 L127.5 36.5 L128.3 36.4 L129.1 36.3 L129.9 36.3 L130.7 36.2 L131.5 36.3 L132.3 36.3 L133.1 36.4 L133.9 36.6 L134.6 36.8 L135.4 37.0 L136.1 37.3 L136.8 37.7 L137.5 38.2 L138.1 38.7 L138.6 39.3 L139.1 40.0 L139.5 40.7 L139.8 41.4 L140.1 42.1 L140.4 42.9 L140.6 43.7 L140.7 44.5 L140.9 45.2 L141.0 46.0 L141.3 46.8 L141.6 47.5 L142.0 48.2 L142.4 48.9 L143.0 49.4 L143.6 49.9 L144.3 50.3 L145.1 50.6 L145.8 50.8 L146.6 50.9 L147.4 50.9 L148.2 50.8 L149.0 50.6 L149.7 50.2 L150.3 49.7 L150.8 49.1 L151.2 48.4 L151.5 47.7 L151.6 46.9 L151.5 46.1 L151.3 45.3 L151.0 44.6 L150.6 43.9 L150.0 43.4 L149.3 42.9 L148.6 42.6 L147.8 42.3 L147.1 42.1 L146.3 41.9 L145.5 41.8 L144.7 41.8 L143.9 41.8 L143.1 42.0 L142.4 42.3 L141.7 42.6 L141.0 43.0 L140.4 43.5 L139.8 44.1 L139.3 44.8 L138.9 45.4 L138.6 46.2 L138.3 46.9 L138.1 47.7 L137.9 48.5 L137.8 49.3 L137.7 50.0 L137.6 50.8 L137.5 51.6 L137.5 52.4 L137.5 53.2 L137.6 54.0 L137.8 54.8 L138.2 55.5" fill="none" stroke="#2248dc" stroke-width="1.6556590865835195" stroke-linecap="round" stroke-linejoin="round"/>
<path d="M136.5 53.7 L135.2 54.4 L134.5 55.3 L134.5 56.1 L135.1 56.6 L136.2 56.6 L137.6 56.2 L138.9 55.1 L139.8 53.8 L140.2 52.3 L139.9 50.8 L139.0 49.7 L137.5 49.0 L135.8 48.9 L134.3 49.3 L133.0 50.1 L132.4 51.0 L132.5 51.8 L133.2 52.2 L134.3 52.2 L135.7 51.6 L137.0 50.6 L137.9 49.2 L138.2 47.7 L137.8 46.2 L136.8 45.2 L135.3 44.6 L133.6 44.6 L132.0 45.0 L130.9 45.8 L130.3 46.7 L130.5 47.5 L131.3 47.9 L132.5 47.8 L133.9 47.1 L135.1 46.0 L135.9 44.6 L136.1 43.1 L135.6 41.7 L134.5 40.7 L133.0 40.2 L131.3 40.2 L129.8 40.7 L128.7 41.5 L128.3 42.4 L128.5 43.2 L129.4 43.5 L130.6 43.3" fill="none" stroke="#1c40d4" stroke-width="1.7862115700255912" stroke-linecap="round" stroke-linejoin="round"/>
<path d="M130.6 43.3 L130.3 42.6 L129.8 42.0 L129.3 41.3 L128.8 40.7 L128.3 40.1 L127.7 39.5 L127.2 39.0 L126.6 38.4 L125.9 37.9 L125.3 37.4 L124.6 37.0 L124.0 36.5 L123.3 36.1 L122.7 35.6 L122.0 35.2 L121.4 34.7 L120.7 34.3 L120.0 33.8 L119.4 33.3 L118.8 32.8 L118.1 32.4 L117.5 31.9 L116.8 31.5 L116.1 31.0 L115.4 30.6 L114.7 30.3 L114.0 29.9 L113.3 29.6 L112.5 29.9 L111.8 30.1 L111.0 30.5 L110.3 30.8 L109.6 31.1 L108.8 31.5 L108.2 31.9 L107.5 32.4 L106.9 32.9 L106.3 33.4 L105.7 34.0 L105.2 34.6 L104.7 35.2 L104.3 35.9 L103.9 36.6 L103.6 37.3 L103.3 38.1 L103.1 38.8 L102.9 39.6 L102.7 40.4 L102.4 41.1 L102.2 41.9 L102.0 42.7 L101.8 43.5 L101.6 44.2 L101.4 45.0 L101.2 45.8 L101.0 46.5 L100.9 47.3 L100.8 48.1 L100.9 48.9 L101.1 49.7 L101.4 50.5 L101.7 51.2 L102.2 51.8 L102.8 52.4 L103.4 52.9 L104.1 53.2 L104.9 53.5 L105.7 53.6 L106.5 53.5 L107.3 53.4 L108.0 53.1 L108.7 52.7 L109.4 52.2 L109.9 51.7 L110.5 51.0 L110.9 50.4 L111.2 49.6 L111.4 48.9 L111.5 48.1 L111.5 47.3 L111.5 46.5 L111.4 45.7 L111.3 44.9 L111.2 44.1 L111.1 43.3 L110.9 42.5 L110.8 41.7 L110.6 40.9 L110.3 40.2 L110.1 39.4 L109.8 38.7 L109.5 38.0 L109.1 37.2 L108.6 36.6 L108.1 36.0 L107.5 35.5 L106.9 35.0 L106.2 34.6 L105.5 34.2 L104.8 33.8 L104.0 33.5 L103.3 33.2 L102.5 32.9 L101.7 32.8 L101.0 32.7 L100.2 32.6 L99.4 32.7 L98.9 33.4 L98.9 34.2 L99.0 35.0 L99.2 35.7 L99.5 36.5" fill="none" stroke="#2248dc" stroke-width="1.630418226431753" stroke-linecap="round" stroke-linejoin="round"/>
<path d="M99.5 36.5 L99.8 37.2 L100.0 38.0 L100.1 38.8 L100.2 39.6 L100.2 40.4 L100.1 41.2 L100.0 42.0 L99.8 42.7 L99.6 43.5 L99.3 44.2 L99.0 45.0 L98.6 45.7 L98.2 46.4 L97.8 47.1 L97.4 47.7 L96.9 48.4 L96.5 49.1 L96.0 49.7 L95.6 50.4 L95.3 51.1 L94.8 51.8 L94.4 52.5 L94.0 53.2 L93.6 53.9 L93.2 54.6 L92.8 55.3 L92.5 56.0 L92.1 56.7 L91.7 57.4 L91.4 58.1 L91.0 58.8 L90.7 59.6 L90.4 60.3 L90.1 61.1 L89.8 61.8 L89.6 62.6 L89.8 63.3 L90.2 64.0 L90.6 64.7 L91.1 65.3 L91.6 66.0 L92.1 66.6 L92.6 67.2 L93.2 67.8 L93.7 68.4 L94.3 68.9 L94.9 69.4 L95.5 69.9 L96.2 70.4 L96.9 70.8 L97.6 71.1 L98.3 71.4 L99.1 71.8 L99.8 72.2 L100.4 72.6" fill="none" stroke="#1530c4" stroke-width="1.8205231181786743" stroke-linecap="round" stroke-linejoin="round"/>
<path d="M102.9 75.0 L103.8 73.7 L104.2 72.2 L103.8 70.7 L102.8 69.3 L101.4 68.3 L100.0 67.9 L98.8 68.0 L98.1 68.6 L98.0 69.5 L98.7 70.4 L99.9 71.1 L101.5 71.4 L103.2 71.1 L104.6 70.3 L105.5 69.1 L105.8 67.6 L105.3 66.0 L104.3 64.7 L102.9 63.8 L101.4 63.4 L100.3 63.6 L99.6 64.2 L99.7 65.1 L100.4 66.0 L101.7 66.7 L103.4 66.9 L105.0 66.6 L106.4 65.7 L107.2 64.4 L107.4 62.9 L106.9 61.3 L105.8 60.1 L104.3 59.2 L102.9 58.9 L101.8 59.2 L101.3 59.8 L101.4 60.7 L102.2 61.6 L103.6 62.2 L105.2 62.4 L106.9 62.0 L108.2 61.1 L108.9 59.8 L109.0 58.2 L108.4 56.7 L107.2 55.4 L105.8 54.7 L104.4 54.4 L103.3 54.7 L102.9 55.5 L103.1 56.4 L104.0 57.2 L105.4 57.8 L107.1 57.9" fill="none" stroke="#1c40d4" stroke-width="1.7775537160521047" stroke-linecap="round" stroke-linejoin="round"/>
<path d="M107.1 57.9 L107.4 57.2 L107.7 56.4 L108.0 55.7 L108.3 54.9 L108.6 54.2 L108.9 53.5 L109.1 52.7 L109.4 51.9 L109.7 51.2 L110.0 50.5 L110.4 49.8 L110.8 49.1 L111.3 48.4 L111.8 47.9 L112.4 47.3 L113.0 46.8 L113.7 46.4 L114.4 46.0 L115.1 45.5 L115.8 45.1 L116.4 44.7 L117.1 44.3 L117.7 43.8 L118.4 43.3 L119.1 42.9 L119.7 42.4 L120.4 42.0 L121.0 41.5 L121.7 41.1 L122.4 40.6 L123.0 40.1 L123.6 39.6 L124.2 39.1 L124.8 38.5 L125.3 37.9 L125.8 37.3 L126.3 36.7 L126.9 36.1 L127.3 35.4 L127.8 34.8 L128.2 34.1 L128.5 33.3 L128.8 32.6 L129.0 31.8 L129.3 31.1 L129.5 30.3 L129.7 29.5 L129.8 28.7 L129.8 27.9 L129.9 27.1 L129.9 26.3 L129.9 25.5 L129.8 24.7 L129.8 23.9 L129.6 23.2 L129.5 22.4 L129.2 21.6 L128.9 20.9 L128.6 20.1 L128.2 19.4 L127.8 18.7 L127.3 18.1 L126.8 17.6 L126.1 17.1 L125.4 17.4 L124.9 18.1 L124.6 18.8 L124.4 19.6 L124.2 20.4 L124.0 21.1 L123.9 21.9 L123.8 22.7 L123.8 23.5 L123.8 24.3 L123.8 25.1 L123.8 25.9 L123.8 26.7" fill="none" stroke="#1530c4" stroke-width="1.879695353886801" stroke-linecap="round" stroke-linejoin="round"/>
<path d="M120.9 26.2 L121.0 27.9 L121.5 29.3 L122.4 30.2 L123.4 30.6 L124.3 30.4 L124.7 29.5 L124.6 28.4 L123.8 27.2 L122.6 26.2 L121.1 25.8 L119.5 25.9 L118.1 26.6 L117.1 27.9 L116.7 29.5 L116.9 31.1 L117.6 32.4 L118.5 33.2 L119.5 33.4 L120.3 32.9 L120.5 32.0 L120.2 30.8 L119.4 29.6 L118.0 28.8 L116.4 28.5 L114.9 28.8 L113.6 29.7 L112.8 31.1 L112.5 32.7 L112.9 34.2 L113.7 35.4 L114.7 36.1 L115.6 36.1 L116.2 35.4 L116.3 34.4 L115.9 33.2 L114.8 32.1 L113.4 31.4 L111.8 31.3 L110.3 31.8 L109.1 32.8 L108.5 34.3 L108.4 35.9" fill="none" stroke="#1a3acc" stroke-width="1.7153102019281743" stroke-linecap="round" stroke-linejoin="round"/>
<path d="M108.4 35.9 L107.9 36.5 L107.5 37.2 L107.2 38.0 L107.2 38.8 L107.2 39.6 L107.5 40.3 L107.9 41.0 L108.5 41.6 L109.2 42.0 L109.9 42.3 L110.7 42.5 L111.5 42.6 L112.3 42.6 L113.1 42.5 L113.9 42.4 L114.7 42.3 L115.4 42.1 L116.2 41.9 L117.0 41.6 L117.7 41.3 L118.4 41.0 L119.2 40.6 L119.9 40.3 L120.6 39.9 L121.3 39.5 L121.9 39.1 L122.5 38.5 L123.0 37.9 L123.5 37.2 L123.8 36.5 L124.0 35.7 L124.2 34.9 L124.3 34.1 L124.4 33.3" fill="none" stroke="#1e42d6" stroke-width="1.659552680190792" stroke-linecap="round" stroke-linejoin="round"/>
<path d="M124.4 33.3 L124.6 32.6 L124.9 31.8 L125.3 31.2 L125.8 30.5 L126.4 30.0 L127.0 29.5 L127.7 29.0 L128.4 28.7 L129.2 28.5 L130.0 28.4 L130.8 28.4 L131.6 28.6 L132.3 28.9 L133.0 29.4 L133.6 29.9 L134.2 30.4 L134.8 31.0 L135.3 31.6 L135.8 32.2 L136.2 32.9 L136.6 33.5 L137.0 34.2 L137.4 35.0 L137.7 35.7 L138.0 36.5 L138.2 37.2 L138.3 38.0 L138.5 38.8 L138.6 39.6 L138.9 40.3 L139.1 41.1 L139.4 41.9 L139.6 42.6 L139.9 43.4 L140.2 44.1 L140.5 44.9 L140.8 45.6 L141.2 46.3 L141.5 47.0 L141.8 47.8 L142.1 48.5 L142.4 49.3 L142.7 50.0 L143.0 50.7 L143.5 51.4 L143.9 52.0 L144.5 52.6 L145.2 53.1 L145.9 53.5 L146.6 53.8 L147.4 54.0 L148.2 54.1 L149.0 54.1 L149.8 54.1 L150.6 54.0 L151.3 53.7 L152.1 53.4 L152.8 53.0 L153.4 52.5 L153.9 51.9 L154.4 51.2 L154.7 50.5 L155.0 49.8 L155.2 49.0 L155.2 48.2 L155.1 47.4 L154.9 46.6 L154.5 45.9 L154.0 45.3" fill="none" stroke="#1c40d4" stroke-width="1.6609378043459606" stroke-linecap="round" stroke-linejoin="round"/>
<path d="M100.2 40.2 L100.1 41.1 L100.4 42.1 L101.2 43.2 L102.3 44.1 L103.5 44.9 L104.8 45.4 L105.9 45.6 L106.8 45.5 L107.2 45.1 L107.1 44.5 L106.6 43.8 L105.7 43.1 L104.5 42.4 L103.1 42.0 L101.6 41.8" fill="none" stroke="#a8d020" stroke-width="1.2" stroke-linecap="round" stroke-linejoin="round"/>
<path d="M101.6 41.8 L100.4 41.9 L99.4 42.3 L98.9 43.0 L98.8 44.0 L99.2 45.0 L100.0 46.0 L101.1 46.9 L102.4 47.7 L103.7 48.1 L104.8 48.3 L105.6 48.2 L105.9 47.8 L105.8 47.2 L105.3 46.4 L104.3 45.7 L103.0 45.1" fill="none" stroke="#80cc28" stroke-width="1.2" stroke-linecap="round" stroke-linejoin="round"/>
<path d="M103.0 45.1 L101.6 44.7 L100.2 44.5 L99.0 44.7 L98.1 45.1 L97.6 45.9 L97.6 46.8 L98.0 47.8 L98.9 48.8 L100.0 49.8 L101.3 50.5 L102.6 50.9 L103.6 51.0 L104.4 50.9 L104.7 50.4 L104.5 49.8" fill="none" stroke="#50c438" stroke-width="1.2" stroke-linecap="round" stroke-linejoin="round"/>
<path d="M104.5 49.8 L103.9 49.1 L102.9 48.4 L101.6 47.8 L100.2 47.4 L98.8 47.2 L97.6 47.4 L96.7 47.9 L96.3 48.7 L96.3 49.6 L96.8 50.7 L97.7 51.7 L98.9 52.6 L100.2 53.2 L101.4 53.6 L102.5 53.7 L103.2 53.5" fill="none" stroke="#38c050" stroke-width="1.2" stroke-linecap="round" stroke-linejoin="round"/>
<path d="M103.2 53.5 L103.4 53.1 L103.2 52.4 L102.6 51.7 L101.5 51.0 L100.2 50.4 L98.7 50.1 L97.4 50.0 L96.2 50.2 L95.4 50.7 L95.0 51.5 L95.1 52.5 L95.7 53.5 L96.6 54.5 L97.8 55.4 L99.1 56.0" fill="none" stroke="#30bc80" stroke-width="1.2" stroke-linecap="round" stroke-linejoin="round"/>
<path d="M99.1 56.0 L100.3 56.4 L101.3 56.5 L102.0 56.2 L102.2 55.7 L101.9 55.1 L101.2 54.3 L100.1 53.6 L98.7 53.1 L97.3 52.8 L96.0 52.7 L94.8 53.0 L94.1 53.5 L93.7 54.3 L93.9 55.3 L94.5 56.4" fill="none" stroke="#28b4b0" stroke-width="1.2" stroke-linecap="round" stroke-linejoin="round"/>
<text transform="translate(84.00,137.30)" font-family='"Liberation Serif", serif' font-size="13.5" text-anchor="middle" font-weight="bold" fill="#000">(A)</text>
<path d="M271.4 2.2V91.1 M303.2 2.2V91.1 M335.0 2.2V91.1 M366.8 2.2V91.1 M398.6 2.2V91.1 M430.4 2.2V91.1 M239.8 76.2H447.4 M239.8 61.3H447.4 M239.8 46.4H447.4 M239.8 31.5H447.4 M239.8 16.6H447.4" stroke="#d4d4d4" stroke-width="0.8" fill="none"/>
<path d="M239.9 91.1L239.9 72.5L240.2 75.8L240.6 79.2L240.9 80.3L241.2 81.4L241.5 81.2L241.8 80.9L242.1 80.7L242.5 80.6L242.8 80.5L243.1 80.4L243.4 80.2L243.7 80.1L244.1 80.0L244.4 79.9L244.7 79.9L245.0 79.9L245.3 79.9L245.6 79.9L246.0 79.9L246.3 79.9L246.6 79.9L246.9 79.9L247.2 79.9L247.5 80.1L247.9 80.3L248.2 80.5L248.5 80.7L248.8 81.4L249.1 82.2L249.5 89.6L249.8 89.0L250.1 89.4L250.4 88.9L250.7 88.8L251.0 89.6L251.4 89.6L251.7 88.3L252.0 89.6L252.3 89.6L252.6 88.0L253.0 89.2L253.3 88.3L253.6 89.1L253.9 68.8L254.2 54.6L254.5 68.8L254.9 83.6L255.2 85.9L255.5 88.1L255.8 87.7L256.1 87.4L256.5 87.0L256.8 86.6L257.1 83.6L257.4 80.7L257.7 80.3L258.0 79.9L258.4 80.7L258.7 81.4L259.0 84.8L259.3 88.1L259.6 87.9L260.0 87.7L260.3 87.6L260.6 87.4L260.9 85.1L261.2 82.9L261.5 80.7L261.9 78.4L262.2 82.5L262.5 86.6L262.8 87.2L263.1 87.7L263.4 88.3L263.8 88.3L264.1 87.9L264.4 87.0L264.7 86.1L265.0 85.1L265.4 87.4L265.7 88.6L266.0 88.1L266.3 89.3L266.6 88.4L266.9 89.2L267.3 88.1L267.6 88.2L267.9 89.5L268.2 89.5L268.5 89.5L268.9 88.0L269.2 89.2L269.5 88.8L269.8 89.4L270.1 89.1L270.4 89.3L270.8 89.4L271.1 88.9L271.4 88.9L271.7 88.2L272.0 88.7L272.4 88.1L272.7 88.3L273.0 88.0L273.3 88.7L273.6 89.3L273.9 88.3L274.3 88.1L274.6 88.2L274.9 88.9L275.2 88.6L275.5 89.2L275.9 88.3L276.2 88.9L276.5 89.1L276.8 89.1L277.1 88.3L277.4 88.0L277.8 89.1L278.1 88.4L278.4 89.0L278.7 89.0L279.0 89.0L279.4 88.5L279.7 88.3L280.0 89.0L280.3 88.8L280.6 88.9L280.9 88.6L281.3 88.9L281.6 88.2L281.9 88.0L282.2 88.9L282.5 84.8L282.8 87.2L283.2 89.5L283.5 89.5L283.8 88.9L284.1 89.3L284.4 89.2L284.8 89.1L285.1 88.8L285.4 88.9L285.7 88.8L286.0 88.3L286.3 88.5L286.7 88.1L287.0 88.2L287.3 88.2L287.6 88.1L287.9 88.0L288.3 87.9L288.6 87.8L288.9 87.7L289.2 87.6L289.5 87.5L289.8 87.4L290.2 81.8L290.5 76.2L290.8 69.1L291.1 62.0L291.4 69.1L291.8 76.2L292.1 82.2L292.4 88.1L292.7 88.1L293.0 88.2L293.3 88.2L293.7 88.0L294.0 88.2L294.3 88.2L294.6 88.3L294.9 88.3L295.2 88.3L295.6 88.3L295.9 88.3L296.2 88.3L296.5 88.4L296.8 88.4L297.2 88.4L297.5 88.4L297.8 88.4L298.1 88.5L298.4 88.5L298.7 88.5L299.1 88.5L299.4 88.5L299.7 88.1L300.0 88.6L300.3 88.6L300.7 88.6L301.0 88.6L301.3 88.7L301.6 88.7L301.9 88.7L302.2 88.7L302.6 88.7L302.9 88.8L303.2 88.5L303.5 88.8L303.8 88.8L304.2 88.6L304.5 88.8L304.8 88.9L305.1 87.4L305.4 88.5L305.7 89.6L306.1 89.2L306.4 88.6L306.7 88.9L307.0 85.5L307.3 82.2L307.7 82.9L308.0 83.6L308.3 86.3L308.6 88.9L308.9 88.9L309.2 88.3L309.6 89.0L309.9 88.3L310.2 89.1L310.5 89.1L310.8 88.8L311.1 88.2L311.5 89.2L311.8 89.2L312.1 89.3L312.4 89.0L312.7 89.3L313.1 88.4L313.4 88.3L313.7 89.5L314.0 89.5L314.3 88.4L314.6 88.8L315.0 88.4L315.3 86.6L315.6 87.7L315.9 88.9L316.2 88.9L316.6 88.4L316.9 88.8L317.2 88.8L317.5 88.8L317.8 88.8L318.1 88.8L318.5 88.1L318.8 88.7L319.1 88.7L319.4 88.1L319.7 88.2L320.1 88.0L320.4 88.7L320.7 88.1L321.0 88.1L321.3 88.6L321.6 88.5L322.0 88.3L322.3 88.6L322.6 88.6L322.9 88.6L323.2 88.6L323.6 88.5L323.9 88.5L324.2 88.5L324.5 88.5L324.8 88.4L325.1 88.5L325.5 88.2L325.8 88.5L326.1 88.1L326.4 88.2L326.7 88.2L327.1 88.4L327.4 88.4L327.7 88.4L328.0 88.4L328.3 88.3L328.6 88.3L329.0 88.3L329.3 88.3L329.6 88.1L329.9 88.3L330.2 88.3L330.5 88.3L330.9 88.2L331.2 88.2L331.5 88.2L331.8 88.2L332.1 88.2L332.5 88.2L332.8 88.2L333.1 88.1L333.4 88.1L333.7 88.1L334.0 87.7L334.4 87.4L334.7 87.0L335.0 86.6L335.3 86.8L335.6 86.9L336.0 87.1L336.3 87.2L336.6 87.4L336.9 87.6L337.2 87.9L337.5 88.1L337.9 88.4L338.2 88.6L338.5 88.9L338.8 88.9L339.1 88.9L339.5 88.9L339.8 88.0L340.1 88.3L340.4 88.9L340.7 88.9L341.0 88.9L341.4 88.9L341.7 88.9L342.0 88.8L342.3 88.9L342.6 88.9L342.9 88.9L343.3 88.9L343.6 88.9L343.9 88.9L344.2 88.6L344.5 88.9L344.9 88.9L345.2 88.9L345.5 88.9L345.8 88.9L346.1 88.5L346.4 88.9L346.8 88.4L347.1 88.8L347.4 88.9L347.7 88.9L348.0 88.9L348.4 88.6L348.7 88.9L349.0 88.7L349.3 88.9L349.6 88.9L349.9 88.9L350.3 88.7L350.6 88.9L350.9 88.9L351.2 88.9L351.5 88.2L351.9 88.1L352.2 88.9L352.5 88.2L352.8 88.4L353.1 88.9L353.4 88.9L353.8 88.9L354.1 88.4L354.4 88.7L354.7 88.2L355.0 88.4L355.4 88.7L355.7 88.6L356.0 88.9L356.3 88.9L356.6 88.9L356.9 88.9L357.3 88.9L357.6 88.5L357.9 88.9L358.2 88.9L358.5 88.9L358.9 88.2L359.2 88.9L359.5 88.9L359.8 88.3L360.1 88.9L360.4 88.3L360.8 88.7L361.1 88.3L361.4 88.1L361.7 88.9L362.0 88.4L362.3 85.9L362.7 87.7L363.0 88.5L363.3 89.1L363.6 88.6L363.9 89.3L364.3 88.5L364.6 88.1L364.9 89.1L365.2 89.0L365.5 88.9L365.8 88.4L366.2 88.7L366.5 88.6L366.8 88.5L367.1 88.4L367.4 88.3L367.8 88.2L368.1 88.1L368.4 85.9L368.7 83.6L369.0 80.3L369.3 76.9L369.7 80.3L370.0 83.6L370.3 84.4L370.6 85.1L370.9 85.9L371.3 86.9L371.6 87.9L371.9 88.9L372.2 88.9L372.5 88.9L372.8 88.0L373.2 88.9L373.5 88.5L373.8 88.9L374.1 88.7L374.4 88.5L374.8 88.7L375.1 88.9L375.4 88.9L375.7 88.8L376.0 88.2L376.3 88.9L376.7 88.9L377.0 88.5L377.3 88.2L377.6 88.9L377.9 88.9L378.2 88.6L378.6 88.9L378.9 88.9L379.2 88.9L379.5 88.9L379.8 88.9L380.2 88.9L380.5 88.7L380.8 88.1L381.1 88.9L381.4 88.6L381.7 88.9L382.1 88.3L382.4 88.9L382.7 88.9L383.0 87.0L383.3 85.1L383.7 86.4L384.0 87.6L384.3 88.9L384.6 88.9L384.9 88.9L385.2 88.9L385.6 88.9L385.9 88.5L386.2 88.9L386.5 88.0L386.8 88.9L387.2 88.9L387.5 88.9L387.8 88.3L388.1 88.4L388.4 88.9L388.7 88.9L389.1 88.6L389.4 88.3L389.7 88.9L390.0 88.6L390.3 88.1L390.6 88.9L391.0 88.9L391.3 88.9L391.6 88.6L391.9 88.7L392.2 88.1L392.6 88.3L392.9 88.9L393.2 88.9L393.5 88.9L393.8 88.9L394.1 88.6L394.5 88.3L394.8 88.2L395.1 88.9L395.4 88.3L395.7 88.9L396.1 88.9L396.4 88.6L396.7 88.9L397.0 87.4L397.3 85.9L397.6 87.4L398.0 88.9L398.3 88.8L398.6 88.8L398.9 88.7L399.2 88.7L399.6 88.6L399.9 88.6L400.2 88.5L400.5 88.5L400.8 88.4L401.1 88.1L401.5 88.4L401.8 88.3L402.1 88.3L402.4 88.2L402.7 88.2L403.1 88.1L403.4 85.1L403.7 82.2L404.0 81.0L404.3 79.9L404.6 83.6L405.0 87.4L405.3 87.7L405.6 88.1L405.9 88.1L406.2 88.9L406.5 88.5L406.9 88.5L407.2 88.7L407.5 88.7L407.8 88.6L408.1 88.4L408.5 88.5L408.8 88.5L409.1 88.1L409.4 88.4L409.7 88.4L410.0 88.3L410.4 88.3L410.7 88.2L411.0 88.2L411.3 88.1L411.6 88.0L412.0 87.8L412.3 87.7L412.6 87.5L412.9 87.4L413.2 87.2L413.5 87.1L413.9 86.9L414.2 86.8L414.5 86.6L414.8 86.3L415.1 86.0L415.5 85.7L415.8 85.4L416.1 85.1L416.4 84.8L416.7 84.5L417.0 84.2L417.4 83.9L417.7 83.6L418.0 83.6L418.3 83.5L418.6 83.4L419.0 83.4L419.3 83.3L419.6 83.2L419.9 83.1L420.2 83.1L420.5 83.0L420.9 82.9L421.2 83.0L421.5 83.1L421.8 83.2L422.1 83.3L422.4 83.4L422.8 83.5L423.1 83.6L423.4 83.6L423.7 79.2L424.0 74.7L424.4 79.2L424.7 83.6L425.0 83.9L425.3 84.1L425.6 84.4L425.9 84.6L426.3 84.9L426.6 85.1L426.9 85.6L427.2 86.1L427.5 86.6L427.9 87.1L428.2 87.6L428.5 88.1L428.8 88.2L429.1 88.4L429.4 88.5L429.8 88.6L430.1 88.7L430.4 88.9L430.7 87.9L431.0 87.0L431.4 86.1L431.7 85.1L432.0 82.9L432.3 80.7L432.6 78.4L432.9 76.2L433.3 79.2L433.6 82.2L433.9 85.1L434.2 85.5L434.5 85.8L434.9 86.1L435.2 86.4L435.5 86.7L435.8 87.1L436.1 87.4L436.4 87.2L436.8 86.9L437.1 86.7L437.4 86.5L437.7 86.3L438.0 86.0L438.4 85.8L438.7 85.6L439.0 85.4L439.3 85.1L439.6 85.0L439.9 84.8L440.3 84.6L440.6 84.4L440.9 84.2L441.2 84.0L441.5 83.8L441.8 83.6L442.2 81.8L442.5 79.9L442.8 78.1L443.1 76.2L443.4 72.2L443.8 68.3L444.1 64.3L444.4 60.8L444.7 57.3L445.0 53.8L445.3 50.9L445.7 47.9L446.0 44.9L446.3 40.1L446.6 35.2L446.9 34.1L447.3 33.0L447.3 91.1Z" fill="#2e8b2e" stroke="#2e8b2e" stroke-width="0.3"/>
<rect x="239.8" y="2.2" width="207.6" height="88.9" fill="none" stroke="#8a8a8a" stroke-width="1.3"/>
<path d="M271.4 91.1v-2M271.4 2.2v2M303.2 91.1v-2M303.2 2.2v2M335.0 91.1v-2M335.0 2.2v2M366.8 91.1v-2M366.8 2.2v2M398.6 91.1v-2M398.6 2.2v2M430.4 91.1v-2M430.4 2.2v2M239.8 91.1h2M447.4 91.1h-2M239.8 76.2h2M447.4 76.2h-2M239.8 61.3h2M447.4 61.3h-2M239.8 46.4h2M447.4 46.4h-2M239.8 31.5h2M447.4 31.5h-2M239.8 16.6h2M447.4 16.6h-2" stroke="#333" stroke-width="0.8"/>
<path d="M239.8 91.1H447.4" stroke="#1f6a1f" stroke-width="1.3"/>
<text transform="translate(234.00,93.70) scale(0.7,1)" font-family='"Liberation Sans", sans-serif' font-size="9.8" text-anchor="end" font-weight="normal" fill="#222" stroke="#222" stroke-width="0.1">0</text>
<text transform="translate(234.00,78.80) scale(0.7,1)" font-family='"Liberation Sans", sans-serif' font-size="9.8" text-anchor="end" font-weight="normal" fill="#222" stroke="#222" stroke-width="0.1">0.2</text>
<text transform="translate(234.00,63.90) scale(0.7,1)" font-family='"Liberation Sans", sans-serif' font-size="9.8" text-anchor="end" font-weight="normal" fill="#222" stroke="#222" stroke-width="0.1">0.4</text>
<text transform="translate(234.00,49.00) scale(0.7,1)" font-family='"Liberation Sans", sans-serif' font-size="9.8" text-anchor="end" font-weight="normal" fill="#222" stroke="#222" stroke-width="0.1">0.6</text>
<text transform="translate(234.00,34.10) scale(0.7,1)" font-family='"Liberation Sans", sans-serif' font-size="9.8" text-anchor="end" font-weight="normal" fill="#222" stroke="#222" stroke-width="0.1">0.8</text>
<text transform="translate(234.00,19.20) scale(0.7,1)" font-family='"Liberation Sans", sans-serif' font-size="9.8" text-anchor="end" font-weight="normal" fill="#222" stroke="#222" stroke-width="0.1">1</text>
<text transform="translate(271.40,105.20) scale(0.68,1)" font-family='"Liberation Sans", sans-serif' font-size="9.8" text-anchor="middle" font-weight="normal" fill="#222" stroke="#222" stroke-width="0.1">100</text>
<text transform="translate(303.20,105.20) scale(0.68,1)" font-family='"Liberation Sans", sans-serif' font-size="9.8" text-anchor="middle" font-weight="normal" fill="#222" stroke="#222" stroke-width="0.1">200</text>
<text transform="translate(335.00,105.20) scale(0.68,1)" font-family='"Liberation Sans", sans-serif' font-size="9.8" text-anchor="middle" font-weight="normal" fill="#222" stroke="#222" stroke-width="0.1">300</text>
<text transform="translate(366.80,105.20) scale(0.68,1)" font-family='"Liberation Sans", sans-serif' font-size="9.8" text-anchor="middle" font-weight="normal" fill="#222" stroke="#222" stroke-width="0.1">400</text>
<text transform="translate(398.60,105.20) scale(0.68,1)" font-family='"Liberation Sans", sans-serif' font-size="9.8" text-anchor="middle" font-weight="normal" fill="#222" stroke="#222" stroke-width="0.1">500</text>
<text transform="translate(430.40,105.20) scale(0.68,1)" font-family='"Liberation Sans", sans-serif' font-size="9.8" text-anchor="middle" font-weight="normal" fill="#222" stroke="#222" stroke-width="0.1">600</text>
<text transform="translate(342.70,121.40) scale(0.76,1)" font-family='"Liberation Sans", sans-serif' font-size="9" text-anchor="middle" font-weight="normal" fill="#222" stroke="#222" stroke-width="0.1">Atom index</text>
<text transform="translate(213.80,47.50) rotate(-90) scale(0.96,1)" font-family='"Liberation Sans", sans-serif' font-size="9" text-anchor="middle" font-weight="normal" fill="#222" stroke="#222" stroke-width="0.1">Deformability</text>
<text transform="translate(346.80,137.20)" font-family='"Liberation Serif", serif' font-size="13.5" text-anchor="middle" font-weight="bold" fill="#000">(B)</text>
<path d="M493.6 92.4L493.6 51.8L494.2 53.0L494.7 52.3L495.3 55.4L495.9 55.5L496.5 57.8L497.1 61.0L497.6 62.0L498.2 64.8L498.8 65.1L499.4 62.8L500.0 52.1L500.5 32.0L501.1 20.4L501.7 21.7L502.3 21.1L502.8 20.3L503.4 20.3L504.0 20.3L504.6 20.8L505.2 20.3L505.7 21.9L506.3 20.3L506.9 21.3L507.5 21.8L508.1 21.9L508.6 21.4L509.2 20.3L509.8 21.9L510.4 20.8L510.9 20.6L511.5 21.4L512.1 21.0L512.7 22.4L513.3 22.5L513.8 22.1L514.4 20.7L515.0 21.5L515.6 21.9L516.2 21.1L516.7 21.5L517.3 22.0L517.9 20.6L518.5 20.9L519.0 22.3L519.6 21.4L520.2 21.5L520.8 20.6L521.4 21.0L521.9 22.3L522.5 20.4L523.1 22.9L523.7 22.1L524.3 21.2L524.8 23.0L525.4 22.0L526.0 23.4L526.6 21.6L527.1 21.4L527.7 22.0L528.3 21.2L528.9 22.8L529.5 21.8L530.0 22.1L530.6 22.2L531.2 22.4L531.8 21.0L532.4 20.5L532.9 21.5L533.5 20.7L534.1 22.4L534.7 20.7L535.2 21.0L535.8 20.3L536.4 20.7L537.0 22.4L537.6 22.3L538.1 21.6L538.7 23.6L539.3 22.5L539.9 23.5L540.5 23.8L541.0 24.1L541.6 22.2L542.2 24.2L542.8 24.0L543.3 23.7L543.9 22.5L544.5 24.9L545.1 24.0L545.7 23.7L546.2 22.7L546.8 22.8L547.4 22.6L548.0 24.2L548.6 23.7L549.1 23.8L549.7 22.3L550.3 22.0L550.9 24.2L551.4 24.2L552.0 24.1L552.6 24.2L553.2 23.6L553.8 23.4L554.3 24.4L554.9 25.2L555.5 24.1L556.1 27.9L556.7 30.9L557.2 33.4L557.8 27.0L558.4 25.1L559.0 23.5L559.5 23.3L560.1 25.1L560.7 22.6L561.3 22.9L561.9 22.6L562.4 22.8L563.0 23.9L563.6 23.8L564.2 24.6L564.8 23.1L565.3 24.7L565.9 24.6L566.5 24.2L567.1 24.3L567.7 23.7L568.2 24.5L568.8 24.6L569.4 24.2L570.0 24.4L570.5 23.7L571.1 24.7L571.7 22.3L572.3 23.1L572.9 24.5L573.4 24.2L574.0 24.0L574.6 23.9L575.2 24.7L575.8 22.6L576.3 22.2L576.9 23.8L577.5 23.8L578.1 25.0L578.6 25.0L579.2 24.3L579.8 24.6L580.4 22.9L581.0 24.8L581.5 25.1L582.1 22.3L582.7 23.5L583.3 24.5L583.9 23.3L584.4 24.7L585.0 23.2L585.6 21.8L586.2 22.1L586.7 22.5L587.3 23.7L587.9 23.3L588.5 23.8L589.1 22.0L589.6 22.6L590.2 21.8L590.8 23.1L591.4 23.3L592.0 21.5L592.5 21.0L593.1 21.4L593.7 21.5L594.3 21.4L594.8 21.6L595.4 23.0L596.0 22.1L596.6 22.6L597.2 23.5L597.7 23.4L598.3 22.7L598.9 22.7L599.5 21.4L600.1 20.6L600.6 22.1L601.2 20.6L601.8 20.4L602.4 20.5L602.9 22.1L603.5 22.6L604.1 22.6L604.7 22.8L605.3 22.8L605.8 21.7L606.4 21.0L607.0 21.2L607.6 22.3L608.2 21.9L608.7 21.6L609.3 23.7L609.9 22.3L610.5 21.7L611.0 22.3L611.6 24.6L612.2 29.7L612.8 26.7L613.4 23.1L613.9 24.4L614.5 30.2L615.1 40.9L615.7 40.8L616.3 32.8L616.8 26.9L617.4 25.4L618.0 26.8L618.6 26.8L619.1 26.6L619.7 24.4L620.3 24.5L620.9 26.6L621.5 25.0L622.0 25.0L622.6 26.4L623.2 27.7L623.8 27.5L624.4 29.0L624.9 29.6L625.5 27.2L626.1 28.4L626.7 28.8L627.2 27.5L627.8 28.8L628.4 27.4L629.0 27.4L629.6 29.2L630.1 29.4L630.7 29.5L631.3 30.0L631.9 29.3L632.5 30.1L633.0 29.0L633.6 29.3L634.2 26.5L634.8 27.5L635.3 26.8L635.9 26.1L636.5 24.9L637.1 26.0L637.7 24.3L638.2 25.4L638.8 25.5L639.4 25.6L640.0 27.2L640.6 26.2L641.1 27.1L641.7 27.9L642.3 25.9L642.9 28.0L643.4 27.4L644.0 28.3L644.6 31.7L645.2 35.2L645.8 44.2L646.3 51.8L646.9 47.6L647.5 38.7L648.1 28.8L648.7 29.4L649.2 29.0L649.8 27.3L650.4 27.8L651.0 27.3L651.5 26.6L652.1 25.9L652.7 27.1L653.3 26.4L653.9 26.5L654.4 26.3L655.0 25.6L655.6 26.3L656.2 26.3L656.8 26.6L657.3 25.5L657.9 26.4L658.5 26.0L659.1 26.0L659.6 28.2L660.2 26.8L660.8 25.3L661.4 25.1L662.0 26.6L662.5 26.2L663.1 24.8L663.7 25.4L664.3 25.2L664.9 26.6L665.4 25.9L666.0 26.6L666.6 27.3L667.2 29.6L667.7 27.2L668.3 26.7L668.9 27.4L669.5 24.6L670.1 23.8L670.6 25.5L671.2 23.0L671.8 24.1L672.4 23.4L673.0 22.1L673.5 23.1L674.1 25.6L674.7 25.4L675.3 25.7L675.8 26.4L676.4 26.5L677.0 25.9L677.6 33.3L678.2 45.7L678.7 56.1L679.3 60.3L679.9 63.6L680.5 63.0L681.1 62.5L681.6 63.1L682.2 64.8L682.2 63.5L682.2 92.4Z" fill="#9b9b9b"/>
<path d="M493.6 92.4L493.6 41.6L494.2 46.3L494.7 49.9L495.3 55.4L495.9 59.5L496.5 65.4L497.1 69.2L497.6 75.7L498.2 80.5L498.8 83.5L499.4 84.7L500.0 85.9L500.5 88.0L501.1 88.5L501.7 86.5L502.3 86.8L502.8 86.1L503.4 87.0L504.0 86.7L504.6 84.9L505.2 85.5L505.7 86.7L506.3 85.4L506.9 86.5L507.5 86.6L508.1 88.6L508.6 87.5L509.2 89.6L509.8 87.6L510.4 88.2L510.9 88.2L511.5 87.4L512.1 86.3L512.7 87.5L513.3 87.5L513.8 86.6L514.4 87.4L515.0 87.9L515.6 87.9L516.2 88.4L516.7 88.2L517.3 88.2L517.9 88.4L518.5 87.6L519.0 88.8L519.6 88.6L520.2 89.4L520.8 89.3L521.4 90.2L521.9 89.9L522.5 90.4L523.1 88.7L523.7 88.9L524.3 89.6L524.8 88.8L525.4 87.7L526.0 89.3L526.6 87.7L527.1 88.3L527.7 88.1L528.3 87.1L528.9 87.8L529.5 87.2L530.0 86.6L530.6 85.6L531.2 86.7L531.8 85.4L532.4 85.4L532.9 85.2L533.5 85.4L534.1 85.6L534.7 86.7L535.2 87.0L535.8 87.5L536.4 86.5L537.0 88.0L537.6 88.6L538.1 89.2L538.7 88.0L539.3 88.4L539.9 88.9L540.5 89.5L541.0 89.3L541.6 88.9L542.2 88.2L542.8 88.6L543.3 87.7L543.9 87.8L544.5 86.0L545.1 85.7L545.7 86.5L546.2 87.3L546.8 85.9L547.4 87.5L548.0 87.5L548.6 88.4L549.1 87.7L549.7 87.7L550.3 87.8L550.9 88.6L551.4 87.8L552.0 88.6L552.6 87.8L553.2 87.9L553.8 86.9L554.3 87.4L554.9 87.1L555.5 86.2L556.1 86.1L556.7 85.1L557.2 85.3L557.8 85.2L558.4 85.8L559.0 86.1L559.5 86.2L560.1 87.7L560.7 88.3L561.3 87.3L561.9 89.5L562.4 88.7L563.0 89.0L563.6 90.2L564.2 88.3L564.8 88.1L565.3 88.5L565.9 88.1L566.5 87.8L567.1 89.1L567.7 88.1L568.2 88.0L568.8 87.1L569.4 87.0L570.0 86.7L570.5 87.0L571.1 86.2L571.7 86.4L572.3 86.2L572.9 86.9L573.4 87.2L574.0 86.7L574.6 86.3L575.2 87.1L575.8 85.8L576.3 86.7L576.9 86.8L577.5 87.1L578.1 87.3L578.6 88.0L579.2 89.3L579.8 87.9L580.4 88.1L581.0 88.4L581.5 88.1L582.1 87.6L582.7 88.7L583.3 87.0L583.9 87.8L584.4 88.0L585.0 87.4L585.6 86.2L586.2 87.3L586.7 86.5L587.3 86.2L587.9 87.6L588.5 88.1L589.1 88.2L589.6 88.0L590.2 88.1L590.8 88.7L591.4 89.0L592.0 90.2L592.5 89.6L593.1 89.1L593.7 87.6L594.3 88.2L594.8 87.3L595.4 88.1L596.0 87.7L596.6 86.9L597.2 85.6L597.7 85.5L598.3 85.8L598.9 86.8L599.5 86.5L600.1 86.9L600.6 87.1L601.2 88.0L601.8 86.6L602.4 88.3L602.9 86.8L603.5 87.0L604.1 88.8L604.7 87.7L605.3 86.8L605.8 86.3L606.4 87.3L607.0 87.5L607.6 87.5L608.2 85.8L608.7 87.2L609.3 86.5L609.9 87.7L610.5 87.2L611.0 86.6L611.6 88.6L612.2 87.4L612.8 88.4L613.4 87.9L613.9 88.5L614.5 89.9L615.1 88.3L615.7 88.8L616.3 89.4L616.8 89.0L617.4 87.5L618.0 87.2L618.6 87.0L619.1 87.0L619.7 86.1L620.3 85.7L620.9 84.5L621.5 86.7L622.0 85.5L622.6 85.6L623.2 87.5L623.8 86.2L624.4 87.0L624.9 86.9L625.5 88.6L626.1 88.8L626.7 88.8L627.2 87.3L627.8 88.0L628.4 88.2L629.0 87.9L629.6 88.0L630.1 88.3L630.7 87.9L631.3 86.1L631.9 87.1L632.5 85.7L633.0 87.5L633.6 87.8L634.2 87.5L634.8 88.5L635.3 88.4L635.9 87.4L636.5 87.9L637.1 88.3L637.7 89.0L638.2 88.4L638.8 88.1L639.4 88.8L640.0 88.2L640.6 89.4L641.1 87.7L641.7 88.1L642.3 87.3L642.9 87.3L643.4 87.8L644.0 88.3L644.6 86.4L645.2 88.2L645.8 87.6L646.3 87.9L646.9 88.1L647.5 87.2L648.1 86.8L648.7 88.4L649.2 87.6L649.8 88.2L650.4 87.2L651.0 87.1L651.5 87.2L652.1 86.8L652.7 86.2L653.3 84.3L653.9 84.7L654.4 84.9L655.0 83.0L655.6 82.0L656.2 82.0L656.8 81.6L657.3 80.3L657.9 79.4L658.5 77.6L659.1 76.9L659.6 75.3L660.2 74.0L660.8 73.0L661.4 72.9L662.0 73.9L662.5 75.2L663.1 76.6L663.7 77.8L664.3 79.6L664.9 80.1L665.4 80.2L666.0 79.2L666.6 77.2L667.2 79.3L667.7 79.7L668.3 80.6L668.9 81.6L669.5 84.6L670.1 86.2L670.6 86.9L671.2 86.2L671.8 85.8L672.4 84.3L673.0 83.8L673.5 82.6L674.1 83.3L674.7 82.1L675.3 79.5L675.8 77.6L676.4 76.7L677.0 74.7L677.6 74.1L678.2 70.2L678.7 64.7L679.3 60.1L679.9 54.6L680.5 46.9L681.1 38.8L681.6 29.8L682.2 24.6L682.2 23.9L682.2 92.4Z" fill="#f28a8a" style="mix-blend-mode:multiply"/>
<path d="M522.2 6.8V92.4 M551.2 6.8V92.4 M580.1 6.8V92.4 M609.0 6.8V92.4 M638.0 6.8V92.4 M666.9 6.8V92.4 M493.8 77.9H682.3 M493.8 63.5H682.3 M493.8 49.1H682.3 M493.8 34.7H682.3 M493.8 20.3H682.3" stroke="#000" stroke-opacity="0.2" stroke-width="0.8" fill="none"/>
<rect x="493.8" y="6.8" width="188.5" height="85.6" fill="none" stroke="#8a8a8a" stroke-width="1.3"/>
<path d="M522.2 92.4v-2M522.2 6.8v2M551.2 92.4v-2M551.2 6.8v2M580.1 92.4v-2M580.1 6.8v2M609.0 92.4v-2M609.0 6.8v2M638.0 92.4v-2M638.0 6.8v2M666.9 92.4v-2M666.9 6.8v2M493.8 92.3h2M682.3 92.3h-2M493.8 77.9h2M682.3 77.9h-2M493.8 63.5h2M682.3 63.5h-2M493.8 49.1h2M682.3 49.1h-2M493.8 34.7h2M682.3 34.7h-2M493.8 20.3h2M682.3 20.3h-2" stroke="#333" stroke-width="0.8"/>
<rect x="501.2" y="10.2" width="17.4" height="5.8" fill="#f49a9a" stroke="#ee7070" stroke-width="0.6"/>
<rect x="501.2" y="21" width="17.4" height="5.8" fill="#555" stroke="#333" stroke-width="0.6"/>
<text transform="translate(522.00,16.20) scale(0.8,1)" font-family='"Liberation Sans", sans-serif' font-size="8.5" text-anchor="start" font-weight="normal" fill="#222" stroke="#222" stroke-width="0.1">NMA</text>
<text transform="translate(522.00,27.00) scale(0.8,1)" font-family='"Liberation Sans", sans-serif' font-size="8.5" text-anchor="start" font-weight="normal" fill="#222" stroke="#222" stroke-width="0.1">PDB</text>
<text transform="translate(488.30,94.90) scale(0.64,1)" font-family='"Liberation Sans", sans-serif' font-size="9.6" text-anchor="end" font-weight="normal" fill="#222" stroke="#222" stroke-width="0.1">0</text>
<text transform="translate(488.30,80.50) scale(0.64,1)" font-family='"Liberation Sans", sans-serif' font-size="9.6" text-anchor="end" font-weight="normal" fill="#222" stroke="#222" stroke-width="0.1">0.2</text>
<text transform="translate(488.30,66.10) scale(0.64,1)" font-family='"Liberation Sans", sans-serif' font-size="9.6" text-anchor="end" font-weight="normal" fill="#222" stroke="#222" stroke-width="0.1">0.4</text>
<text transform="translate(488.30,51.70) scale(0.64,1)" font-family='"Liberation Sans", sans-serif' font-size="9.6" text-anchor="end" font-weight="normal" fill="#222" stroke="#222" stroke-width="0.1">0.6</text>
<text transform="translate(488.30,37.30) scale(0.64,1)" font-family='"Liberation Sans", sans-serif' font-size="9.6" text-anchor="end" font-weight="normal" fill="#222" stroke="#222" stroke-width="0.1">0.8</text>
<text transform="translate(488.30,22.90) scale(0.64,1)" font-family='"Liberation Sans", sans-serif' font-size="9.6" text-anchor="end" font-weight="normal" fill="#222" stroke="#222" stroke-width="0.1">1</text>
<text transform="translate(522.23,105.60) scale(0.73,1)" font-family='"Liberation Sans", sans-serif' font-size="8.6" text-anchor="middle" font-weight="normal" fill="#222" stroke="#222" stroke-width="0.1">100</text>
<text transform="translate(551.16,105.60) scale(0.73,1)" font-family='"Liberation Sans", sans-serif' font-size="8.6" text-anchor="middle" font-weight="normal" fill="#222" stroke="#222" stroke-width="0.1">200</text>
<text transform="translate(580.09,105.60) scale(0.73,1)" font-family='"Liberation Sans", sans-serif' font-size="8.6" text-anchor="middle" font-weight="normal" fill="#222" stroke="#222" stroke-width="0.1">300</text>
<text transform="translate(609.02,105.60) scale(0.73,1)" font-family='"Liberation Sans", sans-serif' font-size="8.6" text-anchor="middle" font-weight="normal" fill="#222" stroke="#222" stroke-width="0.1">400</text>
<text transform="translate(637.95,105.60) scale(0.73,1)" font-family='"Liberation Sans", sans-serif' font-size="8.6" text-anchor="middle" font-weight="normal" fill="#222" stroke="#222" stroke-width="0.1">500</text>
<text transform="translate(666.88,105.60) scale(0.73,1)" font-family='"Liberation Sans", sans-serif' font-size="8.6" text-anchor="middle" font-weight="normal" fill="#222" stroke="#222" stroke-width="0.1">600</text>
<text transform="translate(587.20,121.60) scale(0.8,1)" font-family='"Liberation Sans", sans-serif' font-size="8.5" text-anchor="middle" font-weight="normal" fill="#222" stroke="#222" stroke-width="0.1">Atom index</text>
<text transform="translate(470.80,50.60) rotate(-90)" font-family='"Liberation Sans", sans-serif' font-size="8.5" text-anchor="middle" font-weight="normal" fill="#222" stroke="#222" stroke-width="0.1">Bfactor</text>
<text transform="translate(572.10,137.00)" font-family='"Liberation Serif", serif' font-size="13.5" text-anchor="middle" font-weight="bold" fill="#000">(C)</text>
<g fill="#c98ee6" fill-opacity="0.92" stroke="#9b30d0" stroke-width="0.8"><rect x="30.70" y="237.74" width="9.50" height="0.26"/><rect x="40.20" y="237.56" width="9.50" height="0.44"/><rect x="49.70" y="237.21" width="9.50" height="0.79"/><rect x="59.20" y="236.94" width="9.50" height="1.06"/><rect x="68.70" y="236.68" width="9.50" height="1.32"/><rect x="78.20" y="236.15" width="9.50" height="1.85"/><rect x="87.70" y="235.58" width="9.50" height="2.42"/><rect x="97.20" y="228.32" width="9.50" height="9.68"/><rect x="106.70" y="222.16" width="9.50" height="15.84"/><rect x="116.20" y="216.44" width="9.50" height="21.56"/><rect x="125.70" y="212.48" width="9.50" height="25.52"/><rect x="135.20" y="207.64" width="9.50" height="30.36"/><rect x="144.70" y="204.56" width="9.50" height="33.44"/><rect x="154.20" y="198.40" width="9.50" height="39.60"/><rect x="163.70" y="194.88" width="9.50" height="43.12"/><rect x="173.20" y="189.16" width="9.50" height="48.84"/><rect x="182.70" y="179.48" width="9.50" height="58.52"/><rect x="192.20" y="171.56" width="9.50" height="66.44"/><rect x="201.70" y="159.24" width="9.50" height="78.76"/><rect x="211.20" y="154.62" width="9.50" height="83.38"/></g>
<path d="M30.7 229.2H220.7M30.7 220.4H220.7M30.7 211.6H220.7M30.7 202.8H220.7M30.7 194.0H220.7M30.7 185.2H220.7M30.7 176.4H220.7M30.7 167.6H220.7M30.7 158.8H220.7" stroke="#444" stroke-opacity="0.55" stroke-width="0.6" stroke-dasharray="1.6,1.6" fill="none"/>
<rect x="30.7" y="149.8" width="190.0" height="88.2" fill="none" stroke="#9a9a9a" stroke-width="1.4"/>
<path d="M30.7 238.0h1.6M220.7 238.0h-1.6M30.7 229.2h1.6M220.7 229.2h-1.6M30.7 220.4h1.6M220.7 220.4h-1.6M30.7 211.6h1.6M220.7 211.6h-1.6M30.7 202.8h1.6M220.7 202.8h-1.6M30.7 194.0h1.6M220.7 194.0h-1.6M30.7 185.2h1.6M220.7 185.2h-1.6M30.7 176.4h1.6M220.7 176.4h-1.6M30.7 167.6h1.6M220.7 167.6h-1.6M30.7 158.8h1.6M220.7 158.8h-1.6M30.7 150.0h1.6M220.7 150.0h-1.6" stroke="#222" stroke-width="0.8"/>
<text transform="translate(25.60,240.50) scale(0.8,1)" font-family='"Liberation Sans", sans-serif' font-size="7.6" text-anchor="end" font-weight="normal" fill="#222" stroke="#222" stroke-width="0.1">0</text>
<text transform="translate(25.60,231.70) scale(0.8,1)" font-family='"Liberation Sans", sans-serif' font-size="7.6" text-anchor="end" font-weight="normal" fill="#222" stroke="#222" stroke-width="0.1">20</text>
<text transform="translate(25.60,222.90) scale(0.8,1)" font-family='"Liberation Sans", sans-serif' font-size="7.6" text-anchor="end" font-weight="normal" fill="#222" stroke="#222" stroke-width="0.1">40</text>
<text transform="translate(25.60,214.10) scale(0.8,1)" font-family='"Liberation Sans", sans-serif' font-size="7.6" text-anchor="end" font-weight="normal" fill="#222" stroke="#222" stroke-width="0.1">60</text>
<text transform="translate(25.60,205.30) scale(0.8,1)" font-family='"Liberation Sans", sans-serif' font-size="7.6" text-anchor="end" font-weight="normal" fill="#222" stroke="#222" stroke-width="0.1">80</text>
<text transform="translate(25.60,196.50) scale(0.8,1)" font-family='"Liberation Sans", sans-serif' font-size="7.6" text-anchor="end" font-weight="normal" fill="#222" stroke="#222" stroke-width="0.1">100</text>
<text transform="translate(25.60,187.70) scale(0.8,1)" font-family='"Liberation Sans", sans-serif' font-size="7.6" text-anchor="end" font-weight="normal" fill="#222" stroke="#222" stroke-width="0.1">120</text>
<text transform="translate(25.60,178.90) scale(0.8,1)" font-family='"Liberation Sans", sans-serif' font-size="7.6" text-anchor="end" font-weight="normal" fill="#222" stroke="#222" stroke-width="0.1">140</text>
<text transform="translate(25.60,170.10) scale(0.8,1)" font-family='"Liberation Sans", sans-serif' font-size="7.6" text-anchor="end" font-weight="normal" fill="#222" stroke="#222" stroke-width="0.1">160</text>
<text transform="translate(25.60,161.30) scale(0.8,1)" font-family='"Liberation Sans", sans-serif' font-size="7.6" text-anchor="end" font-weight="normal" fill="#222" stroke="#222" stroke-width="0.1">180</text>
<text transform="translate(25.60,152.50) scale(0.8,1)" font-family='"Liberation Sans", sans-serif' font-size="7.6" text-anchor="end" font-weight="normal" fill="#222" stroke="#222" stroke-width="0.1">200</text>
<text transform="translate(44.95,249.30) scale(0.85,1)" font-family='"Liberation Sans", sans-serif' font-size="7.6" text-anchor="middle" font-weight="normal" fill="#222" stroke="#222" stroke-width="0.1">2</text>
<text transform="translate(63.95,249.30) scale(0.85,1)" font-family='"Liberation Sans", sans-serif' font-size="7.6" text-anchor="middle" font-weight="normal" fill="#222" stroke="#222" stroke-width="0.1">4</text>
<text transform="translate(82.95,249.30) scale(0.85,1)" font-family='"Liberation Sans", sans-serif' font-size="7.6" text-anchor="middle" font-weight="normal" fill="#222" stroke="#222" stroke-width="0.1">6</text>
<text transform="translate(101.95,249.30) scale(0.85,1)" font-family='"Liberation Sans", sans-serif' font-size="7.6" text-anchor="middle" font-weight="normal" fill="#222" stroke="#222" stroke-width="0.1">8</text>
<text transform="translate(120.95,249.30) scale(0.85,1)" font-family='"Liberation Sans", sans-serif' font-size="7.6" text-anchor="middle" font-weight="normal" fill="#222" stroke="#222" stroke-width="0.1">10</text>
<text transform="translate(139.95,249.30) scale(0.85,1)" font-family='"Liberation Sans", sans-serif' font-size="7.6" text-anchor="middle" font-weight="normal" fill="#222" stroke="#222" stroke-width="0.1">12</text>
<text transform="translate(158.95,249.30) scale(0.85,1)" font-family='"Liberation Sans", sans-serif' font-size="7.6" text-anchor="middle" font-weight="normal" fill="#222" stroke="#222" stroke-width="0.1">14</text>
<text transform="translate(177.95,249.30) scale(0.85,1)" font-family='"Liberation Sans", sans-serif' font-size="7.6" text-anchor="middle" font-weight="normal" fill="#222" stroke="#222" stroke-width="0.1">16</text>
<text transform="translate(196.95,249.30) scale(0.85,1)" font-family='"Liberation Sans", sans-serif' font-size="7.6" text-anchor="middle" font-weight="normal" fill="#222" stroke="#222" stroke-width="0.1">18</text>
<text transform="translate(215.95,249.30) scale(0.85,1)" font-family='"Liberation Sans", sans-serif' font-size="7.6" text-anchor="middle" font-weight="normal" fill="#222" stroke="#222" stroke-width="0.1">20</text>
<text transform="translate(125.00,261.20) scale(0.85,1)" font-family='"Liberation Sans", sans-serif' font-size="7.6" text-anchor="middle" font-weight="normal" fill="#222" stroke="#222" stroke-width="0.1">Mode index</text>
<text transform="translate(6.60,195.00) rotate(-90) scale(0.93,1)" font-family='"Liberation Sans", sans-serif' font-size="7.1" text-anchor="middle" font-weight="normal" fill="#222" stroke="#222" stroke-width="0.1">Eigenvalue/Eigenvalue(1)</text>
<text transform="translate(31.50,158.20) scale(0.79,1)" font-family='"Liberation Sans", sans-serif' font-size="7.9" text-anchor="start" font-weight="normal" fill="#222" stroke="#222" stroke-width="0.1">Eigenvalue(1)= 1.935319e-06</text>
<text transform="translate(130.80,275.60)" font-family='"Liberation Serif", serif' font-size="13.5" text-anchor="middle" font-weight="bold" fill="#000">(D)</text>
<g fill="#9bd8c6" stroke="#3aa883" stroke-width="0.8"><rect x="271.60" y="214.33" width="9.88" height="23.87"/><rect x="281.48" y="195.59" width="9.88" height="42.61"/><rect x="291.36" y="182.68" width="9.88" height="55.52"/><rect x="301.24" y="173.67" width="9.88" height="64.53"/><rect x="311.12" y="164.30" width="9.88" height="73.90"/><rect x="321.00" y="159.08" width="9.88" height="79.12"/><rect x="330.88" y="154.40" width="9.88" height="83.80"/><rect x="340.76" y="153.51" width="9.88" height="84.69"/><rect x="350.64" y="152.89" width="9.88" height="85.31"/><rect x="360.52" y="152.45" width="9.88" height="85.75"/><rect x="370.40" y="152.01" width="9.88" height="86.19"/><rect x="380.28" y="151.57" width="9.88" height="86.63"/><rect x="390.16" y="151.30" width="9.88" height="86.90"/><rect x="400.04" y="151.04" width="9.88" height="87.16"/><rect x="409.92" y="150.77" width="9.88" height="87.43"/><rect x="419.80" y="150.51" width="9.88" height="87.69"/><rect x="429.68" y="150.33" width="9.88" height="87.87"/><rect x="439.56" y="150.15" width="9.88" height="88.05"/><rect x="449.44" y="149.98" width="9.88" height="88.22"/><rect x="459.32" y="149.80" width="9.88" height="88.40"/></g>
<g fill="#9a80d0" stroke="#8a3ed0" stroke-width="0.8"><rect x="271.60" y="214.33" width="9.88" height="23.87"/><rect x="281.48" y="220.34" width="9.88" height="17.86"/><rect x="291.36" y="225.12" width="9.88" height="13.08"/><rect x="301.24" y="228.30" width="9.88" height="9.90"/><rect x="311.12" y="229.36" width="9.88" height="8.84"/><rect x="321.00" y="232.45" width="9.88" height="5.75"/><rect x="330.88" y="233.43" width="9.88" height="4.77"/><rect x="340.76" y="237.05" width="9.88" height="1.15"/><rect x="350.64" y="237.49" width="9.88" height="0.71"/><rect x="360.52" y="237.76" width="9.88" height="0.44"/><rect x="370.40" y="237.85" width="9.88" height="0.35"/><rect x="380.28" y="237.93" width="9.88" height="0.27"/><rect x="390.16" y="237.93" width="9.88" height="0.27"/><rect x="400.04" y="237.93" width="9.88" height="0.27"/><rect x="409.92" y="237.93" width="9.88" height="0.27"/><rect x="419.80" y="237.93" width="9.88" height="0.27"/></g>
<path d="M271.6 220.5H469.2M271.6 202.8H469.2M271.6 185.2H469.2M271.6 167.5H469.2" stroke="#444" stroke-opacity="0.4" stroke-width="0.6" stroke-dasharray="1.6,1.6" fill="none"/>
<rect x="271.6" y="149.8" width="197.6" height="88.4" fill="none" stroke="#9a9a9a" stroke-width="1.4"/>
<path d="M271.6 238.2h1.6M469.2 238.2h-1.6M271.6 220.5h1.6M469.2 220.5h-1.6M271.6 202.8h1.6M469.2 202.8h-1.6M271.6 185.2h1.6M469.2 185.2h-1.6M271.6 167.5h1.6M469.2 167.5h-1.6M271.6 149.8h1.6M469.2 149.8h-1.6" stroke="#222" stroke-width="0.8"/>
<text transform="translate(266.30,240.80) scale(0.85,1)" font-family='"Liberation Sans", sans-serif' font-size="7.6" text-anchor="end" font-weight="normal" fill="#222" stroke="#222" stroke-width="0.1">0</text>
<text transform="translate(266.30,223.12) scale(0.85,1)" font-family='"Liberation Sans", sans-serif' font-size="7.6" text-anchor="end" font-weight="normal" fill="#222" stroke="#222" stroke-width="0.1">20</text>
<text transform="translate(266.30,205.44) scale(0.85,1)" font-family='"Liberation Sans", sans-serif' font-size="7.6" text-anchor="end" font-weight="normal" fill="#222" stroke="#222" stroke-width="0.1">40</text>
<text transform="translate(266.30,187.76) scale(0.85,1)" font-family='"Liberation Sans", sans-serif' font-size="7.6" text-anchor="end" font-weight="normal" fill="#222" stroke="#222" stroke-width="0.1">60</text>
<text transform="translate(266.30,170.08) scale(0.85,1)" font-family='"Liberation Sans", sans-serif' font-size="7.6" text-anchor="end" font-weight="normal" fill="#222" stroke="#222" stroke-width="0.1">80</text>
<text transform="translate(266.30,152.40) scale(0.85,1)" font-family='"Liberation Sans", sans-serif' font-size="7.6" text-anchor="end" font-weight="normal" fill="#222" stroke="#222" stroke-width="0.1">100</text>
<text transform="translate(286.42,249.20) scale(0.85,1)" font-family='"Liberation Sans", sans-serif' font-size="7.6" text-anchor="middle" font-weight="normal" fill="#222" stroke="#222" stroke-width="0.1">2</text>
<text transform="translate(306.18,249.20) scale(0.85,1)" font-family='"Liberation Sans", sans-serif' font-size="7.6" text-anchor="middle" font-weight="normal" fill="#222" stroke="#222" stroke-width="0.1">4</text>
<text transform="translate(325.94,249.20) scale(0.85,1)" font-family='"Liberation Sans", sans-serif' font-size="7.6" text-anchor="middle" font-weight="normal" fill="#222" stroke="#222" stroke-width="0.1">6</text>
<text transform="translate(345.70,249.20) scale(0.85,1)" font-family='"Liberation Sans", sans-serif' font-size="7.6" text-anchor="middle" font-weight="normal" fill="#222" stroke="#222" stroke-width="0.1">8</text>
<text transform="translate(365.46,249.20) scale(0.85,1)" font-family='"Liberation Sans", sans-serif' font-size="7.6" text-anchor="middle" font-weight="normal" fill="#222" stroke="#222" stroke-width="0.1">10</text>
<text transform="translate(385.22,249.20) scale(0.85,1)" font-family='"Liberation Sans", sans-serif' font-size="7.6" text-anchor="middle" font-weight="normal" fill="#222" stroke="#222" stroke-width="0.1">12</text>
<text transform="translate(404.98,249.20) scale(0.85,1)" font-family='"Liberation Sans", sans-serif' font-size="7.6" text-anchor="middle" font-weight="normal" fill="#222" stroke="#222" stroke-width="0.1">14</text>
<text transform="translate(424.74,249.20) scale(0.85,1)" font-family='"Liberation Sans", sans-serif' font-size="7.6" text-anchor="middle" font-weight="normal" fill="#222" stroke="#222" stroke-width="0.1">16</text>
<text transform="translate(444.50,249.20) scale(0.85,1)" font-family='"Liberation Sans", sans-serif' font-size="7.6" text-anchor="middle" font-weight="normal" fill="#222" stroke="#222" stroke-width="0.1">18</text>
<text transform="translate(464.26,249.20) scale(0.85,1)" font-family='"Liberation Sans", sans-serif' font-size="7.6" text-anchor="middle" font-weight="normal" fill="#222" stroke="#222" stroke-width="0.1">20</text>
<text transform="translate(369.50,261.20) scale(0.87,1)" font-family='"Liberation Sans", sans-serif' font-size="7.6" text-anchor="middle" font-weight="normal" fill="#222" stroke="#222" stroke-width="0.1">Mode index</text>
<text transform="translate(245.30,194.50) rotate(-90) scale(0.87,1)" font-family='"Liberation Sans", sans-serif' font-size="7.6" text-anchor="middle" font-weight="normal" fill="#222" stroke="#222" stroke-width="0.1">Variance [%]</text>
<text transform="translate(350.00,276.00)" font-family='"Liberation Serif", serif' font-size="13.5" text-anchor="middle" font-weight="bold" fill="#000">(E)</text>
<defs><clipPath id="fclip"><rect x="28.0" y="307.8" width="144.5" height="144.8"/></clipPath><filter id="fblur" x="-10%" y="-10%" width="120%" height="120%"><feGaussianBlur stdDeviation="2.0"/></filter><filter id="fblur2"><feGaussianBlur stdDeviation="0.6"/></filter></defs>
<g clip-path="url(#fclip)"><g filter="url(#fblur)"><rect x="22.00" y="447.03" width="11.86" height="11.87" fill="#f01616"/><rect x="33.56" y="447.03" width="5.86" height="11.87" fill="#faa5a5"/><rect x="39.12" y="447.03" width="5.86" height="11.87" fill="#ffffff"/><rect x="44.67" y="447.03" width="5.86" height="11.87" fill="#d6dbfc"/><rect x="50.23" y="447.03" width="5.86" height="11.87" fill="#aeb7f8"/><rect x="55.79" y="447.03" width="5.86" height="11.87" fill="#d6dbfc"/><rect x="61.35" y="447.03" width="5.86" height="11.87" fill="#d6dbfc"/><rect x="66.90" y="447.03" width="5.86" height="11.87" fill="#5d70f0"/><rect x="72.46" y="447.03" width="5.86" height="11.87" fill="#aeb7f8"/><rect x="78.02" y="447.03" width="5.86" height="11.87" fill="#8594f4"/><rect x="83.58" y="447.03" width="5.86" height="11.87" fill="#d6dbfc"/><rect x="89.13" y="447.03" width="5.86" height="11.87" fill="#ffffff"/><rect x="94.69" y="447.03" width="5.86" height="11.87" fill="#ffffff"/><rect x="100.25" y="447.03" width="5.86" height="11.87" fill="#ffffff"/><rect x="105.81" y="447.03" width="5.86" height="11.87" fill="#d6dbfc"/><rect x="111.37" y="447.03" width="5.86" height="11.87" fill="#ffffff"/><rect x="116.92" y="447.03" width="5.86" height="11.87" fill="#ffffff"/><rect x="122.48" y="447.03" width="5.86" height="11.87" fill="#aeb7f8"/><rect x="128.04" y="447.03" width="5.86" height="11.87" fill="#5d70f0"/><rect x="133.60" y="447.03" width="5.86" height="11.87" fill="#5d70f0"/><rect x="139.15" y="447.03" width="5.86" height="11.87" fill="#8594f4"/><rect x="144.71" y="447.03" width="5.86" height="11.87" fill="#ffffff"/><rect x="150.27" y="447.03" width="5.86" height="11.87" fill="#aeb7f8"/><rect x="155.83" y="447.03" width="5.86" height="11.87" fill="#8594f4"/><rect x="161.38" y="447.03" width="5.86" height="11.87" fill="#d6dbfc"/><rect x="166.94" y="447.03" width="11.86" height="11.87" fill="#aeb7f8"/><rect x="22.00" y="441.46" width="11.86" height="5.87" fill="#faa5a5"/><rect x="33.56" y="441.46" width="5.86" height="5.87" fill="#f01616"/><rect x="39.12" y="441.46" width="5.86" height="5.87" fill="#f01616"/><rect x="44.67" y="441.46" width="5.86" height="5.87" fill="#f01616"/><rect x="50.23" y="441.46" width="5.86" height="5.87" fill="#aeb7f8"/><rect x="55.79" y="441.46" width="5.86" height="5.87" fill="#f44b4b"/><rect x="61.35" y="441.46" width="5.86" height="5.87" fill="#f01616"/><rect x="66.90" y="441.46" width="5.86" height="5.87" fill="#f11e1e"/><rect x="72.46" y="441.46" width="5.86" height="5.87" fill="#f11e1e"/><rect x="78.02" y="441.46" width="5.86" height="5.87" fill="#f44b4b"/><rect x="83.58" y="441.46" width="5.86" height="5.87" fill="#f77878"/><rect x="89.13" y="441.46" width="5.86" height="5.87" fill="#f44b4b"/><rect x="94.69" y="441.46" width="5.86" height="5.87" fill="#f77878"/><rect x="100.25" y="441.46" width="5.86" height="5.87" fill="#faa5a5"/><rect x="105.81" y="441.46" width="5.86" height="5.87" fill="#f44b4b"/><rect x="111.37" y="441.46" width="5.86" height="5.87" fill="#f01616"/><rect x="116.92" y="441.46" width="5.86" height="5.87" fill="#f01616"/><rect x="122.48" y="441.46" width="5.86" height="5.87" fill="#aeb7f8"/><rect x="128.04" y="441.46" width="5.86" height="5.87" fill="#354dec"/><rect x="133.60" y="441.46" width="5.86" height="5.87" fill="#354dec"/><rect x="139.15" y="441.46" width="5.86" height="5.87" fill="#8594f4"/><rect x="144.71" y="441.46" width="5.86" height="5.87" fill="#f44b4b"/><rect x="150.27" y="441.46" width="5.86" height="5.87" fill="#5d70f0"/><rect x="155.83" y="441.46" width="5.86" height="5.87" fill="#2d46eb"/><rect x="161.38" y="441.46" width="5.86" height="5.87" fill="#5d70f0"/><rect x="166.94" y="441.46" width="11.86" height="5.87" fill="#354dec"/><rect x="22.00" y="435.89" width="11.86" height="5.87" fill="#ffffff"/><rect x="33.56" y="435.89" width="5.86" height="5.87" fill="#f01616"/><rect x="39.12" y="435.89" width="5.86" height="5.87" fill="#f01616"/><rect x="44.67" y="435.89" width="5.86" height="5.87" fill="#f01616"/><rect x="50.23" y="435.89" width="5.86" height="5.87" fill="#ffffff"/><rect x="55.79" y="435.89" width="5.86" height="5.87" fill="#f44b4b"/><rect x="61.35" y="435.89" width="5.86" height="5.87" fill="#f01616"/><rect x="66.90" y="435.89" width="5.86" height="5.87" fill="#f11e1e"/><rect x="72.46" y="435.89" width="5.86" height="5.87" fill="#f77878"/><rect x="78.02" y="435.89" width="5.86" height="5.87" fill="#f77878"/><rect x="83.58" y="435.89" width="5.86" height="5.87" fill="#f44b4b"/><rect x="89.13" y="435.89" width="5.86" height="5.87" fill="#f44b4b"/><rect x="94.69" y="435.89" width="5.86" height="5.87" fill="#f77878"/><rect x="100.25" y="435.89" width="5.86" height="5.87" fill="#faa5a5"/><rect x="105.81" y="435.89" width="5.86" height="5.87" fill="#f44b4b"/><rect x="111.37" y="435.89" width="5.86" height="5.87" fill="#f01616"/><rect x="116.92" y="435.89" width="5.86" height="5.87" fill="#f01616"/><rect x="122.48" y="435.89" width="5.86" height="5.87" fill="#8594f4"/><rect x="128.04" y="435.89" width="5.86" height="5.87" fill="#354dec"/><rect x="133.60" y="435.89" width="5.86" height="5.87" fill="#2d46eb"/><rect x="139.15" y="435.89" width="5.86" height="5.87" fill="#5d70f0"/><rect x="144.71" y="435.89" width="5.86" height="5.87" fill="#f11e1e"/><rect x="150.27" y="435.89" width="5.86" height="5.87" fill="#5d70f0"/><rect x="155.83" y="435.89" width="5.86" height="5.87" fill="#2d46eb"/><rect x="161.38" y="435.89" width="5.86" height="5.87" fill="#354dec"/><rect x="166.94" y="435.89" width="11.86" height="5.87" fill="#2d46eb"/><rect x="22.00" y="430.32" width="11.86" height="5.87" fill="#d6dbfc"/><rect x="33.56" y="430.32" width="5.86" height="5.87" fill="#f01616"/><rect x="39.12" y="430.32" width="5.86" height="5.87" fill="#f01616"/><rect x="44.67" y="430.32" width="5.86" height="5.87" fill="#f01616"/><rect x="50.23" y="430.32" width="5.86" height="5.87" fill="#f11e1e"/><rect x="55.79" y="430.32" width="5.86" height="5.87" fill="#f44b4b"/><rect x="61.35" y="430.32" width="5.86" height="5.87" fill="#f11e1e"/><rect x="66.90" y="430.32" width="5.86" height="5.87" fill="#f77878"/><rect x="72.46" y="430.32" width="5.86" height="5.87" fill="#faa5a5"/><rect x="78.02" y="430.32" width="5.86" height="5.87" fill="#ffffff"/><rect x="83.58" y="430.32" width="5.86" height="5.87" fill="#f77878"/><rect x="89.13" y="430.32" width="5.86" height="5.87" fill="#f77878"/><rect x="94.69" y="430.32" width="5.86" height="5.87" fill="#f44b4b"/><rect x="100.25" y="430.32" width="5.86" height="5.87" fill="#ffffff"/><rect x="105.81" y="430.32" width="5.86" height="5.87" fill="#faa5a5"/><rect x="111.37" y="430.32" width="5.86" height="5.87" fill="#f44b4b"/><rect x="116.92" y="430.32" width="5.86" height="5.87" fill="#faa5a5"/><rect x="122.48" y="430.32" width="5.86" height="5.87" fill="#8594f4"/><rect x="128.04" y="430.32" width="5.86" height="5.87" fill="#354dec"/><rect x="133.60" y="430.32" width="5.86" height="5.87" fill="#354dec"/><rect x="139.15" y="430.32" width="5.86" height="5.87" fill="#5d70f0"/><rect x="144.71" y="430.32" width="5.86" height="5.87" fill="#f11e1e"/><rect x="150.27" y="430.32" width="5.86" height="5.87" fill="#5d70f0"/><rect x="155.83" y="430.32" width="5.86" height="5.87" fill="#2d46eb"/><rect x="161.38" y="430.32" width="5.86" height="5.87" fill="#5d70f0"/><rect x="166.94" y="430.32" width="11.86" height="5.87" fill="#2d46eb"/><rect x="22.00" y="424.75" width="11.86" height="5.87" fill="#aeb7f8"/><rect x="33.56" y="424.75" width="5.86" height="5.87" fill="#aeb7f8"/><rect x="39.12" y="424.75" width="5.86" height="5.87" fill="#ffffff"/><rect x="44.67" y="424.75" width="5.86" height="5.87" fill="#f11e1e"/><rect x="50.23" y="424.75" width="5.86" height="5.87" fill="#f01616"/><rect x="55.79" y="424.75" width="5.86" height="5.87" fill="#f11e1e"/><rect x="61.35" y="424.75" width="5.86" height="5.87" fill="#f77878"/><rect x="66.90" y="424.75" width="5.86" height="5.87" fill="#ffffff"/><rect x="72.46" y="424.75" width="5.86" height="5.87" fill="#aeb7f8"/><rect x="78.02" y="424.75" width="5.86" height="5.87" fill="#5d70f0"/><rect x="83.58" y="424.75" width="5.86" height="5.87" fill="#ffffff"/><rect x="89.13" y="424.75" width="5.86" height="5.87" fill="#fdd2d2"/><rect x="94.69" y="424.75" width="5.86" height="5.87" fill="#faa5a5"/><rect x="100.25" y="424.75" width="5.86" height="5.87" fill="#d6dbfc"/><rect x="105.81" y="424.75" width="5.86" height="5.87" fill="#aeb7f8"/><rect x="111.37" y="424.75" width="5.86" height="5.87" fill="#d6dbfc"/><rect x="116.92" y="424.75" width="5.86" height="5.87" fill="#d6dbfc"/><rect x="122.48" y="424.75" width="5.86" height="5.87" fill="#d6dbfc"/><rect x="128.04" y="424.75" width="5.86" height="5.87" fill="#d6dbfc"/><rect x="133.60" y="424.75" width="5.86" height="5.87" fill="#ffffff"/><rect x="139.15" y="424.75" width="5.86" height="5.87" fill="#ffffff"/><rect x="144.71" y="424.75" width="5.86" height="5.87" fill="#faa5a5"/><rect x="150.27" y="424.75" width="5.86" height="5.87" fill="#ffffff"/><rect x="155.83" y="424.75" width="5.86" height="5.87" fill="#aeb7f8"/><rect x="161.38" y="424.75" width="5.86" height="5.87" fill="#ffffff"/><rect x="166.94" y="424.75" width="11.86" height="5.87" fill="#d6dbfc"/><rect x="22.00" y="419.18" width="11.86" height="5.87" fill="#d6dbfc"/><rect x="33.56" y="419.18" width="5.86" height="5.87" fill="#f44b4b"/><rect x="39.12" y="419.18" width="5.86" height="5.87" fill="#f44b4b"/><rect x="44.67" y="419.18" width="5.86" height="5.87" fill="#f44b4b"/><rect x="50.23" y="419.18" width="5.86" height="5.87" fill="#f11e1e"/><rect x="55.79" y="419.18" width="5.86" height="5.87" fill="#f01616"/><rect x="61.35" y="419.18" width="5.86" height="5.87" fill="#f11e1e"/><rect x="66.90" y="419.18" width="5.86" height="5.87" fill="#f77878"/><rect x="72.46" y="419.18" width="5.86" height="5.87" fill="#ffffff"/><rect x="78.02" y="419.18" width="5.86" height="5.87" fill="#8594f4"/><rect x="83.58" y="419.18" width="5.86" height="5.87" fill="#faa5a5"/><rect x="89.13" y="419.18" width="5.86" height="5.87" fill="#fdd2d2"/><rect x="94.69" y="419.18" width="5.86" height="5.87" fill="#faa5a5"/><rect x="100.25" y="419.18" width="5.86" height="5.87" fill="#aeb7f8"/><rect x="105.81" y="419.18" width="5.86" height="5.87" fill="#aeb7f8"/><rect x="111.37" y="419.18" width="5.86" height="5.87" fill="#fdd2d2"/><rect x="116.92" y="419.18" width="5.86" height="5.87" fill="#fdd2d2"/><rect x="122.48" y="419.18" width="5.86" height="5.87" fill="#aeb7f8"/><rect x="128.04" y="419.18" width="5.86" height="5.87" fill="#8594f4"/><rect x="133.60" y="419.18" width="5.86" height="5.87" fill="#aeb7f8"/><rect x="139.15" y="419.18" width="5.86" height="5.87" fill="#d6dbfc"/><rect x="144.71" y="419.18" width="5.86" height="5.87" fill="#f01616"/><rect x="150.27" y="419.18" width="5.86" height="5.87" fill="#ffffff"/><rect x="155.83" y="419.18" width="5.86" height="5.87" fill="#2d46eb"/><rect x="161.38" y="419.18" width="5.86" height="5.87" fill="#5d70f0"/><rect x="166.94" y="419.18" width="11.86" height="5.87" fill="#2d46eb"/><rect x="22.00" y="413.62" width="11.86" height="5.87" fill="#d6dbfc"/><rect x="33.56" y="413.62" width="5.86" height="5.87" fill="#f01616"/><rect x="39.12" y="413.62" width="5.86" height="5.87" fill="#f01616"/><rect x="44.67" y="413.62" width="5.86" height="5.87" fill="#f11e1e"/><rect x="50.23" y="413.62" width="5.86" height="5.87" fill="#f77878"/><rect x="55.79" y="413.62" width="5.86" height="5.87" fill="#f11e1e"/><rect x="61.35" y="413.62" width="5.86" height="5.87" fill="#f01616"/><rect x="66.90" y="413.62" width="5.86" height="5.87" fill="#f01616"/><rect x="72.46" y="413.62" width="5.86" height="5.87" fill="#f44b4b"/><rect x="78.02" y="413.62" width="5.86" height="5.87" fill="#f77878"/><rect x="83.58" y="413.62" width="5.86" height="5.87" fill="#faa5a5"/><rect x="89.13" y="413.62" width="5.86" height="5.87" fill="#fdd2d2"/><rect x="94.69" y="413.62" width="5.86" height="5.87" fill="#faa5a5"/><rect x="100.25" y="413.62" width="5.86" height="5.87" fill="#faa5a5"/><rect x="105.81" y="413.62" width="5.86" height="5.87" fill="#faa5a5"/><rect x="111.37" y="413.62" width="5.86" height="5.87" fill="#f11e1e"/><rect x="116.92" y="413.62" width="5.86" height="5.87" fill="#f11e1e"/><rect x="122.48" y="413.62" width="5.86" height="5.87" fill="#d6dbfc"/><rect x="128.04" y="413.62" width="5.86" height="5.87" fill="#8594f4"/><rect x="133.60" y="413.62" width="5.86" height="5.87" fill="#8594f4"/><rect x="139.15" y="413.62" width="5.86" height="5.87" fill="#ffffff"/><rect x="144.71" y="413.62" width="5.86" height="5.87" fill="#f01616"/><rect x="150.27" y="413.62" width="5.86" height="5.87" fill="#d6dbfc"/><rect x="155.83" y="413.62" width="5.86" height="5.87" fill="#2d46eb"/><rect x="161.38" y="413.62" width="5.86" height="5.87" fill="#5d70f0"/><rect x="166.94" y="413.62" width="11.86" height="5.87" fill="#354dec"/><rect x="22.00" y="408.05" width="11.86" height="5.87" fill="#5d70f0"/><rect x="33.56" y="408.05" width="5.86" height="5.87" fill="#f11e1e"/><rect x="39.12" y="408.05" width="5.86" height="5.87" fill="#f11e1e"/><rect x="44.67" y="408.05" width="5.86" height="5.87" fill="#f77878"/><rect x="50.23" y="408.05" width="5.86" height="5.87" fill="#ffffff"/><rect x="55.79" y="408.05" width="5.86" height="5.87" fill="#f77878"/><rect x="61.35" y="408.05" width="5.86" height="5.87" fill="#f01616"/><rect x="66.90" y="408.05" width="5.86" height="5.87" fill="#f01616"/><rect x="72.46" y="408.05" width="5.86" height="5.87" fill="#f11e1e"/><rect x="78.02" y="408.05" width="5.86" height="5.87" fill="#f77878"/><rect x="83.58" y="408.05" width="5.86" height="5.87" fill="#f77878"/><rect x="89.13" y="408.05" width="5.86" height="5.87" fill="#d6dbfc"/><rect x="94.69" y="408.05" width="5.86" height="5.87" fill="#fdd2d2"/><rect x="100.25" y="408.05" width="5.86" height="5.87" fill="#faa5a5"/><rect x="105.81" y="408.05" width="5.86" height="5.87" fill="#f77878"/><rect x="111.37" y="408.05" width="5.86" height="5.87" fill="#f11e1e"/><rect x="116.92" y="408.05" width="5.86" height="5.87" fill="#f01616"/><rect x="122.48" y="408.05" width="5.86" height="5.87" fill="#faa5a5"/><rect x="128.04" y="408.05" width="5.86" height="5.87" fill="#d6dbfc"/><rect x="133.60" y="408.05" width="5.86" height="5.87" fill="#ffffff"/><rect x="139.15" y="408.05" width="5.86" height="5.87" fill="#fdd2d2"/><rect x="144.71" y="408.05" width="5.86" height="5.87" fill="#f01616"/><rect x="150.27" y="408.05" width="5.86" height="5.87" fill="#ffffff"/><rect x="155.83" y="408.05" width="5.86" height="5.87" fill="#5d70f0"/><rect x="161.38" y="408.05" width="5.86" height="5.87" fill="#8594f4"/><rect x="166.94" y="408.05" width="11.86" height="5.87" fill="#354dec"/><rect x="22.00" y="402.48" width="11.86" height="5.87" fill="#aeb7f8"/><rect x="33.56" y="402.48" width="5.86" height="5.87" fill="#f11e1e"/><rect x="39.12" y="402.48" width="5.86" height="5.87" fill="#f77878"/><rect x="44.67" y="402.48" width="5.86" height="5.87" fill="#faa5a5"/><rect x="50.23" y="402.48" width="5.86" height="5.87" fill="#aeb7f8"/><rect x="55.79" y="402.48" width="5.86" height="5.87" fill="#ffffff"/><rect x="61.35" y="402.48" width="5.86" height="5.87" fill="#f44b4b"/><rect x="66.90" y="402.48" width="5.86" height="5.87" fill="#f11e1e"/><rect x="72.46" y="402.48" width="5.86" height="5.87" fill="#f01616"/><rect x="78.02" y="402.48" width="5.86" height="5.87" fill="#f01616"/><rect x="83.58" y="402.48" width="5.86" height="5.87" fill="#f77878"/><rect x="89.13" y="402.48" width="5.86" height="5.87" fill="#aeb7f8"/><rect x="94.69" y="402.48" width="5.86" height="5.87" fill="#fdd2d2"/><rect x="100.25" y="402.48" width="5.86" height="5.87" fill="#f01616"/><rect x="105.81" y="402.48" width="5.86" height="5.87" fill="#f01616"/><rect x="111.37" y="402.48" width="5.86" height="5.87" fill="#f01616"/><rect x="116.92" y="402.48" width="5.86" height="5.87" fill="#f01616"/><rect x="122.48" y="402.48" width="5.86" height="5.87" fill="#ffffff"/><rect x="128.04" y="402.48" width="5.86" height="5.87" fill="#8594f4"/><rect x="133.60" y="402.48" width="5.86" height="5.87" fill="#aeb7f8"/><rect x="139.15" y="402.48" width="5.86" height="5.87" fill="#fdd2d2"/><rect x="144.71" y="402.48" width="5.86" height="5.87" fill="#d6dbfc"/><rect x="150.27" y="402.48" width="5.86" height="5.87" fill="#8594f4"/><rect x="155.83" y="402.48" width="5.86" height="5.87" fill="#354dec"/><rect x="161.38" y="402.48" width="5.86" height="5.87" fill="#5d70f0"/><rect x="166.94" y="402.48" width="11.86" height="5.87" fill="#354dec"/><rect x="22.00" y="396.91" width="11.86" height="5.87" fill="#8594f4"/><rect x="33.56" y="396.91" width="5.86" height="5.87" fill="#f44b4b"/><rect x="39.12" y="396.91" width="5.86" height="5.87" fill="#f77878"/><rect x="44.67" y="396.91" width="5.86" height="5.87" fill="#ffffff"/><rect x="50.23" y="396.91" width="5.86" height="5.87" fill="#5d70f0"/><rect x="55.79" y="396.91" width="5.86" height="5.87" fill="#8594f4"/><rect x="61.35" y="396.91" width="5.86" height="5.87" fill="#f77878"/><rect x="66.90" y="396.91" width="5.86" height="5.87" fill="#f77878"/><rect x="72.46" y="396.91" width="5.86" height="5.87" fill="#f01616"/><rect x="78.02" y="396.91" width="5.86" height="5.87" fill="#f01616"/><rect x="83.58" y="396.91" width="5.86" height="5.87" fill="#f44b4b"/><rect x="89.13" y="396.91" width="5.86" height="5.87" fill="#d6dbfc"/><rect x="94.69" y="396.91" width="5.86" height="5.87" fill="#ffffff"/><rect x="100.25" y="396.91" width="5.86" height="5.87" fill="#f01616"/><rect x="105.81" y="396.91" width="5.86" height="5.87" fill="#f01616"/><rect x="111.37" y="396.91" width="5.86" height="5.87" fill="#f01616"/><rect x="116.92" y="396.91" width="5.86" height="5.87" fill="#f01616"/><rect x="122.48" y="396.91" width="5.86" height="5.87" fill="#fdd2d2"/><rect x="128.04" y="396.91" width="5.86" height="5.87" fill="#aeb7f8"/><rect x="133.60" y="396.91" width="5.86" height="5.87" fill="#d6dbfc"/><rect x="139.15" y="396.91" width="5.86" height="5.87" fill="#fdd2d2"/><rect x="144.71" y="396.91" width="5.86" height="5.87" fill="#d6dbfc"/><rect x="150.27" y="396.91" width="5.86" height="5.87" fill="#8594f4"/><rect x="155.83" y="396.91" width="5.86" height="5.87" fill="#5d70f0"/><rect x="161.38" y="396.91" width="5.86" height="5.87" fill="#aeb7f8"/><rect x="166.94" y="396.91" width="11.86" height="5.87" fill="#5d70f0"/><rect x="22.00" y="391.34" width="11.86" height="5.87" fill="#d6dbfc"/><rect x="33.56" y="391.34" width="5.86" height="5.87" fill="#f77878"/><rect x="39.12" y="391.34" width="5.86" height="5.87" fill="#f44b4b"/><rect x="44.67" y="391.34" width="5.86" height="5.87" fill="#f77878"/><rect x="50.23" y="391.34" width="5.86" height="5.87" fill="#ffffff"/><rect x="55.79" y="391.34" width="5.86" height="5.87" fill="#faa5a5"/><rect x="61.35" y="391.34" width="5.86" height="5.87" fill="#faa5a5"/><rect x="66.90" y="391.34" width="5.86" height="5.87" fill="#f77878"/><rect x="72.46" y="391.34" width="5.86" height="5.87" fill="#f77878"/><rect x="78.02" y="391.34" width="5.86" height="5.87" fill="#f44b4b"/><rect x="83.58" y="391.34" width="5.86" height="5.87" fill="#f01616"/><rect x="89.13" y="391.34" width="5.86" height="5.87" fill="#f01616"/><rect x="94.69" y="391.34" width="5.86" height="5.87" fill="#f01616"/><rect x="100.25" y="391.34" width="5.86" height="5.87" fill="#f01616"/><rect x="105.81" y="391.34" width="5.86" height="5.87" fill="#f01616"/><rect x="111.37" y="391.34" width="5.86" height="5.87" fill="#f01616"/><rect x="116.92" y="391.34" width="5.86" height="5.87" fill="#faa5a5"/><rect x="122.48" y="391.34" width="5.86" height="5.87" fill="#8594f4"/><rect x="128.04" y="391.34" width="5.86" height="5.87" fill="#354dec"/><rect x="133.60" y="391.34" width="5.86" height="5.87" fill="#354dec"/><rect x="139.15" y="391.34" width="5.86" height="5.87" fill="#354dec"/><rect x="144.71" y="391.34" width="5.86" height="5.87" fill="#aeb7f8"/><rect x="150.27" y="391.34" width="5.86" height="5.87" fill="#8594f4"/><rect x="155.83" y="391.34" width="5.86" height="5.87" fill="#354dec"/><rect x="161.38" y="391.34" width="5.86" height="5.87" fill="#8594f4"/><rect x="166.94" y="391.34" width="11.86" height="5.87" fill="#aeb7f8"/><rect x="22.00" y="385.77" width="11.86" height="5.87" fill="#ffffff"/><rect x="33.56" y="385.77" width="5.86" height="5.87" fill="#f44b4b"/><rect x="39.12" y="385.77" width="5.86" height="5.87" fill="#f44b4b"/><rect x="44.67" y="385.77" width="5.86" height="5.87" fill="#f77878"/><rect x="50.23" y="385.77" width="5.86" height="5.87" fill="#fdd2d2"/><rect x="55.79" y="385.77" width="5.86" height="5.87" fill="#fdd2d2"/><rect x="61.35" y="385.77" width="5.86" height="5.87" fill="#fdd2d2"/><rect x="66.90" y="385.77" width="5.86" height="5.87" fill="#d6dbfc"/><rect x="72.46" y="385.77" width="5.86" height="5.87" fill="#aeb7f8"/><rect x="78.02" y="385.77" width="5.86" height="5.87" fill="#d6dbfc"/><rect x="83.58" y="385.77" width="5.86" height="5.87" fill="#f01616"/><rect x="89.13" y="385.77" width="5.86" height="5.87" fill="#f01616"/><rect x="94.69" y="385.77" width="5.86" height="5.87" fill="#f01616"/><rect x="100.25" y="385.77" width="5.86" height="5.87" fill="#f01616"/><rect x="105.81" y="385.77" width="5.86" height="5.87" fill="#f11e1e"/><rect x="111.37" y="385.77" width="5.86" height="5.87" fill="#f11e1e"/><rect x="116.92" y="385.77" width="5.86" height="5.87" fill="#fdd2d2"/><rect x="122.48" y="385.77" width="5.86" height="5.87" fill="#5d70f0"/><rect x="128.04" y="385.77" width="5.86" height="5.87" fill="#2d46eb"/><rect x="133.60" y="385.77" width="5.86" height="5.87" fill="#354dec"/><rect x="139.15" y="385.77" width="5.86" height="5.87" fill="#354dec"/><rect x="144.71" y="385.77" width="5.86" height="5.87" fill="#ffffff"/><rect x="150.27" y="385.77" width="5.86" height="5.87" fill="#5d70f0"/><rect x="155.83" y="385.77" width="5.86" height="5.87" fill="#2d46eb"/><rect x="161.38" y="385.77" width="5.86" height="5.87" fill="#5d70f0"/><rect x="166.94" y="385.77" width="11.86" height="5.87" fill="#8594f4"/><rect x="22.00" y="380.20" width="11.86" height="5.87" fill="#ffffff"/><rect x="33.56" y="380.20" width="5.86" height="5.87" fill="#f77878"/><rect x="39.12" y="380.20" width="5.86" height="5.87" fill="#f77878"/><rect x="44.67" y="380.20" width="5.86" height="5.87" fill="#f44b4b"/><rect x="50.23" y="380.20" width="5.86" height="5.87" fill="#faa5a5"/><rect x="55.79" y="380.20" width="5.86" height="5.87" fill="#faa5a5"/><rect x="61.35" y="380.20" width="5.86" height="5.87" fill="#faa5a5"/><rect x="66.90" y="380.20" width="5.86" height="5.87" fill="#fdd2d2"/><rect x="72.46" y="380.20" width="5.86" height="5.87" fill="#fdd2d2"/><rect x="78.02" y="380.20" width="5.86" height="5.87" fill="#ffffff"/><rect x="83.58" y="380.20" width="5.86" height="5.87" fill="#f01616"/><rect x="89.13" y="380.20" width="5.86" height="5.87" fill="#f01616"/><rect x="94.69" y="380.20" width="5.86" height="5.87" fill="#f01616"/><rect x="100.25" y="380.20" width="5.86" height="5.87" fill="#f01616"/><rect x="105.81" y="380.20" width="5.86" height="5.87" fill="#f01616"/><rect x="111.37" y="380.20" width="5.86" height="5.87" fill="#f11e1e"/><rect x="116.92" y="380.20" width="5.86" height="5.87" fill="#faa5a5"/><rect x="122.48" y="380.20" width="5.86" height="5.87" fill="#8594f4"/><rect x="128.04" y="380.20" width="5.86" height="5.87" fill="#2d46eb"/><rect x="133.60" y="380.20" width="5.86" height="5.87" fill="#2d46eb"/><rect x="139.15" y="380.20" width="5.86" height="5.87" fill="#354dec"/><rect x="144.71" y="380.20" width="5.86" height="5.87" fill="#d6dbfc"/><rect x="150.27" y="380.20" width="5.86" height="5.87" fill="#5d70f0"/><rect x="155.83" y="380.20" width="5.86" height="5.87" fill="#2d46eb"/><rect x="161.38" y="380.20" width="5.86" height="5.87" fill="#5d70f0"/><rect x="166.94" y="380.20" width="11.86" height="5.87" fill="#8594f4"/><rect x="22.00" y="374.63" width="11.86" height="5.87" fill="#ffffff"/><rect x="33.56" y="374.63" width="5.86" height="5.87" fill="#faa5a5"/><rect x="39.12" y="374.63" width="5.86" height="5.87" fill="#faa5a5"/><rect x="44.67" y="374.63" width="5.86" height="5.87" fill="#ffffff"/><rect x="50.23" y="374.63" width="5.86" height="5.87" fill="#d6dbfc"/><rect x="55.79" y="374.63" width="5.86" height="5.87" fill="#aeb7f8"/><rect x="61.35" y="374.63" width="5.86" height="5.87" fill="#faa5a5"/><rect x="66.90" y="374.63" width="5.86" height="5.87" fill="#faa5a5"/><rect x="72.46" y="374.63" width="5.86" height="5.87" fill="#f01616"/><rect x="78.02" y="374.63" width="5.86" height="5.87" fill="#f01616"/><rect x="83.58" y="374.63" width="5.86" height="5.87" fill="#f01616"/><rect x="89.13" y="374.63" width="5.86" height="5.87" fill="#f01616"/><rect x="94.69" y="374.63" width="5.86" height="5.87" fill="#f01616"/><rect x="100.25" y="374.63" width="5.86" height="5.87" fill="#f01616"/><rect x="105.81" y="374.63" width="5.86" height="5.87" fill="#f01616"/><rect x="111.37" y="374.63" width="5.86" height="5.87" fill="#f11e1e"/><rect x="116.92" y="374.63" width="5.86" height="5.87" fill="#faa5a5"/><rect x="122.48" y="374.63" width="5.86" height="5.87" fill="#8594f4"/><rect x="128.04" y="374.63" width="5.86" height="5.87" fill="#aeb7f8"/><rect x="133.60" y="374.63" width="5.86" height="5.87" fill="#5d70f0"/><rect x="139.15" y="374.63" width="5.86" height="5.87" fill="#5d70f0"/><rect x="144.71" y="374.63" width="5.86" height="5.87" fill="#8594f4"/><rect x="150.27" y="374.63" width="5.86" height="5.87" fill="#5d70f0"/><rect x="155.83" y="374.63" width="5.86" height="5.87" fill="#354dec"/><rect x="161.38" y="374.63" width="5.86" height="5.87" fill="#354dec"/><rect x="166.94" y="374.63" width="11.86" height="5.87" fill="#8594f4"/><rect x="22.00" y="369.06" width="11.86" height="5.87" fill="#d6dbfc"/><rect x="33.56" y="369.06" width="5.86" height="5.87" fill="#f44b4b"/><rect x="39.12" y="369.06" width="5.86" height="5.87" fill="#f44b4b"/><rect x="44.67" y="369.06" width="5.86" height="5.87" fill="#faa5a5"/><rect x="50.23" y="369.06" width="5.86" height="5.87" fill="#aeb7f8"/><rect x="55.79" y="369.06" width="5.86" height="5.87" fill="#aeb7f8"/><rect x="61.35" y="369.06" width="5.86" height="5.87" fill="#faa5a5"/><rect x="66.90" y="369.06" width="5.86" height="5.87" fill="#f77878"/><rect x="72.46" y="369.06" width="5.86" height="5.87" fill="#f01616"/><rect x="78.02" y="369.06" width="5.86" height="5.87" fill="#f01616"/><rect x="83.58" y="369.06" width="5.86" height="5.87" fill="#f01616"/><rect x="89.13" y="369.06" width="5.86" height="5.87" fill="#f11e1e"/><rect x="94.69" y="369.06" width="5.86" height="5.87" fill="#f01616"/><rect x="100.25" y="369.06" width="5.86" height="5.87" fill="#f01616"/><rect x="105.81" y="369.06" width="5.86" height="5.87" fill="#f01616"/><rect x="111.37" y="369.06" width="5.86" height="5.87" fill="#f01616"/><rect x="116.92" y="369.06" width="5.86" height="5.87" fill="#faa5a5"/><rect x="122.48" y="369.06" width="5.86" height="5.87" fill="#aeb7f8"/><rect x="128.04" y="369.06" width="5.86" height="5.87" fill="#aeb7f8"/><rect x="133.60" y="369.06" width="5.86" height="5.87" fill="#8594f4"/><rect x="139.15" y="369.06" width="5.86" height="5.87" fill="#5d70f0"/><rect x="144.71" y="369.06" width="5.86" height="5.87" fill="#8594f4"/><rect x="150.27" y="369.06" width="5.86" height="5.87" fill="#aeb7f8"/><rect x="155.83" y="369.06" width="5.86" height="5.87" fill="#2d46eb"/><rect x="161.38" y="369.06" width="5.86" height="5.87" fill="#2d46eb"/><rect x="166.94" y="369.06" width="11.86" height="5.87" fill="#354dec"/><rect x="22.00" y="363.49" width="11.86" height="5.87" fill="#ffffff"/><rect x="33.56" y="363.49" width="5.86" height="5.87" fill="#f01616"/><rect x="39.12" y="363.49" width="5.86" height="5.87" fill="#f01616"/><rect x="44.67" y="363.49" width="5.86" height="5.87" fill="#f44b4b"/><rect x="50.23" y="363.49" width="5.86" height="5.87" fill="#d6dbfc"/><rect x="55.79" y="363.49" width="5.86" height="5.87" fill="#fdd2d2"/><rect x="61.35" y="363.49" width="5.86" height="5.87" fill="#f11e1e"/><rect x="66.90" y="363.49" width="5.86" height="5.87" fill="#f11e1e"/><rect x="72.46" y="363.49" width="5.86" height="5.87" fill="#f01616"/><rect x="78.02" y="363.49" width="5.86" height="5.87" fill="#f01616"/><rect x="83.58" y="363.49" width="5.86" height="5.87" fill="#f01616"/><rect x="89.13" y="363.49" width="5.86" height="5.87" fill="#f11e1e"/><rect x="94.69" y="363.49" width="5.86" height="5.87" fill="#f11e1e"/><rect x="100.25" y="363.49" width="5.86" height="5.87" fill="#f11e1e"/><rect x="105.81" y="363.49" width="5.86" height="5.87" fill="#f01616"/><rect x="111.37" y="363.49" width="5.86" height="5.87" fill="#f01616"/><rect x="116.92" y="363.49" width="5.86" height="5.87" fill="#f44b4b"/><rect x="122.48" y="363.49" width="5.86" height="5.87" fill="#aeb7f8"/><rect x="128.04" y="363.49" width="5.86" height="5.87" fill="#8594f4"/><rect x="133.60" y="363.49" width="5.86" height="5.87" fill="#5d70f0"/><rect x="139.15" y="363.49" width="5.86" height="5.87" fill="#aeb7f8"/><rect x="144.71" y="363.49" width="5.86" height="5.87" fill="#8594f4"/><rect x="150.27" y="363.49" width="5.86" height="5.87" fill="#aeb7f8"/><rect x="155.83" y="363.49" width="5.86" height="5.87" fill="#2d46eb"/><rect x="161.38" y="363.49" width="5.86" height="5.87" fill="#2d46eb"/><rect x="166.94" y="363.49" width="11.86" height="5.87" fill="#354dec"/><rect x="22.00" y="357.92" width="11.86" height="5.87" fill="#ffffff"/><rect x="33.56" y="357.92" width="5.86" height="5.87" fill="#f01616"/><rect x="39.12" y="357.92" width="5.86" height="5.87" fill="#f01616"/><rect x="44.67" y="357.92" width="5.86" height="5.87" fill="#faa5a5"/><rect x="50.23" y="357.92" width="5.86" height="5.87" fill="#d6dbfc"/><rect x="55.79" y="357.92" width="5.86" height="5.87" fill="#fdd2d2"/><rect x="61.35" y="357.92" width="5.86" height="5.87" fill="#f11e1e"/><rect x="66.90" y="357.92" width="5.86" height="5.87" fill="#f01616"/><rect x="72.46" y="357.92" width="5.86" height="5.87" fill="#f01616"/><rect x="78.02" y="357.92" width="5.86" height="5.87" fill="#f01616"/><rect x="83.58" y="357.92" width="5.86" height="5.87" fill="#faa5a5"/><rect x="89.13" y="357.92" width="5.86" height="5.87" fill="#fdd2d2"/><rect x="94.69" y="357.92" width="5.86" height="5.87" fill="#faa5a5"/><rect x="100.25" y="357.92" width="5.86" height="5.87" fill="#faa5a5"/><rect x="105.81" y="357.92" width="5.86" height="5.87" fill="#faa5a5"/><rect x="111.37" y="357.92" width="5.86" height="5.87" fill="#f44b4b"/><rect x="116.92" y="357.92" width="5.86" height="5.87" fill="#f01616"/><rect x="122.48" y="357.92" width="5.86" height="5.87" fill="#faa5a5"/><rect x="128.04" y="357.92" width="5.86" height="5.87" fill="#ffffff"/><rect x="133.60" y="357.92" width="5.86" height="5.87" fill="#d6dbfc"/><rect x="139.15" y="357.92" width="5.86" height="5.87" fill="#d6dbfc"/><rect x="144.71" y="357.92" width="5.86" height="5.87" fill="#d6dbfc"/><rect x="150.27" y="357.92" width="5.86" height="5.87" fill="#fdd2d2"/><rect x="155.83" y="357.92" width="5.86" height="5.87" fill="#8594f4"/><rect x="161.38" y="357.92" width="5.86" height="5.87" fill="#8594f4"/><rect x="166.94" y="357.92" width="11.86" height="5.87" fill="#8594f4"/><rect x="22.00" y="352.35" width="11.86" height="5.87" fill="#aeb7f8"/><rect x="33.56" y="352.35" width="5.86" height="5.87" fill="#aeb7f8"/><rect x="39.12" y="352.35" width="5.86" height="5.87" fill="#8594f4"/><rect x="44.67" y="352.35" width="5.86" height="5.87" fill="#8594f4"/><rect x="50.23" y="352.35" width="5.86" height="5.87" fill="#d6dbfc"/><rect x="55.79" y="352.35" width="5.86" height="5.87" fill="#aeb7f8"/><rect x="61.35" y="352.35" width="5.86" height="5.87" fill="#d6dbfc"/><rect x="66.90" y="352.35" width="5.86" height="5.87" fill="#faa5a5"/><rect x="72.46" y="352.35" width="5.86" height="5.87" fill="#ffffff"/><rect x="78.02" y="352.35" width="5.86" height="5.87" fill="#fdd2d2"/><rect x="83.58" y="352.35" width="5.86" height="5.87" fill="#8594f4"/><rect x="89.13" y="352.35" width="5.86" height="5.87" fill="#5d70f0"/><rect x="94.69" y="352.35" width="5.86" height="5.87" fill="#8594f4"/><rect x="100.25" y="352.35" width="5.86" height="5.87" fill="#8594f4"/><rect x="105.81" y="352.35" width="5.86" height="5.87" fill="#aeb7f8"/><rect x="111.37" y="352.35" width="5.86" height="5.87" fill="#aeb7f8"/><rect x="116.92" y="352.35" width="5.86" height="5.87" fill="#faa5a5"/><rect x="122.48" y="352.35" width="5.86" height="5.87" fill="#f01616"/><rect x="128.04" y="352.35" width="5.86" height="5.87" fill="#f01616"/><rect x="133.60" y="352.35" width="5.86" height="5.87" fill="#f01616"/><rect x="139.15" y="352.35" width="5.86" height="5.87" fill="#f11e1e"/><rect x="144.71" y="352.35" width="5.86" height="5.87" fill="#d6dbfc"/><rect x="150.27" y="352.35" width="5.86" height="5.87" fill="#aeb7f8"/><rect x="155.83" y="352.35" width="5.86" height="5.87" fill="#f77878"/><rect x="161.38" y="352.35" width="5.86" height="5.87" fill="#f77878"/><rect x="166.94" y="352.35" width="11.86" height="5.87" fill="#faa5a5"/><rect x="22.00" y="346.78" width="11.86" height="5.87" fill="#5d70f0"/><rect x="33.56" y="346.78" width="5.86" height="5.87" fill="#354dec"/><rect x="39.12" y="346.78" width="5.86" height="5.87" fill="#354dec"/><rect x="44.67" y="346.78" width="5.86" height="5.87" fill="#354dec"/><rect x="50.23" y="346.78" width="5.86" height="5.87" fill="#d6dbfc"/><rect x="55.79" y="346.78" width="5.86" height="5.87" fill="#8594f4"/><rect x="61.35" y="346.78" width="5.86" height="5.87" fill="#8594f4"/><rect x="66.90" y="346.78" width="5.86" height="5.87" fill="#d6dbfc"/><rect x="72.46" y="346.78" width="5.86" height="5.87" fill="#8594f4"/><rect x="78.02" y="346.78" width="5.86" height="5.87" fill="#aeb7f8"/><rect x="83.58" y="346.78" width="5.86" height="5.87" fill="#354dec"/><rect x="89.13" y="346.78" width="5.86" height="5.87" fill="#2d46eb"/><rect x="94.69" y="346.78" width="5.86" height="5.87" fill="#2d46eb"/><rect x="100.25" y="346.78" width="5.86" height="5.87" fill="#aeb7f8"/><rect x="105.81" y="346.78" width="5.86" height="5.87" fill="#aeb7f8"/><rect x="111.37" y="346.78" width="5.86" height="5.87" fill="#8594f4"/><rect x="116.92" y="346.78" width="5.86" height="5.87" fill="#ffffff"/><rect x="122.48" y="346.78" width="5.86" height="5.87" fill="#f01616"/><rect x="128.04" y="346.78" width="5.86" height="5.87" fill="#f01616"/><rect x="133.60" y="346.78" width="5.86" height="5.87" fill="#f01616"/><rect x="139.15" y="346.78" width="5.86" height="5.87" fill="#f01616"/><rect x="144.71" y="346.78" width="5.86" height="5.87" fill="#d6dbfc"/><rect x="150.27" y="346.78" width="5.86" height="5.87" fill="#aeb7f8"/><rect x="155.83" y="346.78" width="5.86" height="5.87" fill="#f44b4b"/><rect x="161.38" y="346.78" width="5.86" height="5.87" fill="#f44b4b"/><rect x="166.94" y="346.78" width="11.86" height="5.87" fill="#f77878"/><rect x="22.00" y="341.22" width="11.86" height="5.87" fill="#5d70f0"/><rect x="33.56" y="341.22" width="5.86" height="5.87" fill="#354dec"/><rect x="39.12" y="341.22" width="5.86" height="5.87" fill="#2d46eb"/><rect x="44.67" y="341.22" width="5.86" height="5.87" fill="#354dec"/><rect x="50.23" y="341.22" width="5.86" height="5.87" fill="#ffffff"/><rect x="55.79" y="341.22" width="5.86" height="5.87" fill="#aeb7f8"/><rect x="61.35" y="341.22" width="5.86" height="5.87" fill="#8594f4"/><rect x="66.90" y="341.22" width="5.86" height="5.87" fill="#ffffff"/><rect x="72.46" y="341.22" width="5.86" height="5.87" fill="#aeb7f8"/><rect x="78.02" y="341.22" width="5.86" height="5.87" fill="#d6dbfc"/><rect x="83.58" y="341.22" width="5.86" height="5.87" fill="#354dec"/><rect x="89.13" y="341.22" width="5.86" height="5.87" fill="#354dec"/><rect x="94.69" y="341.22" width="5.86" height="5.87" fill="#2d46eb"/><rect x="100.25" y="341.22" width="5.86" height="5.87" fill="#5d70f0"/><rect x="105.81" y="341.22" width="5.86" height="5.87" fill="#8594f4"/><rect x="111.37" y="341.22" width="5.86" height="5.87" fill="#5d70f0"/><rect x="116.92" y="341.22" width="5.86" height="5.87" fill="#d6dbfc"/><rect x="122.48" y="341.22" width="5.86" height="5.87" fill="#f01616"/><rect x="128.04" y="341.22" width="5.86" height="5.87" fill="#f01616"/><rect x="133.60" y="341.22" width="5.86" height="5.87" fill="#f01616"/><rect x="139.15" y="341.22" width="5.86" height="5.87" fill="#f01616"/><rect x="144.71" y="341.22" width="5.86" height="5.87" fill="#fdd2d2"/><rect x="150.27" y="341.22" width="5.86" height="5.87" fill="#aeb7f8"/><rect x="155.83" y="341.22" width="5.86" height="5.87" fill="#f44b4b"/><rect x="161.38" y="341.22" width="5.86" height="5.87" fill="#f44b4b"/><rect x="166.94" y="341.22" width="11.86" height="5.87" fill="#faa5a5"/><rect x="22.00" y="335.65" width="11.86" height="5.87" fill="#8594f4"/><rect x="33.56" y="335.65" width="5.86" height="5.87" fill="#8594f4"/><rect x="39.12" y="335.65" width="5.86" height="5.87" fill="#5d70f0"/><rect x="44.67" y="335.65" width="5.86" height="5.87" fill="#5d70f0"/><rect x="50.23" y="335.65" width="5.86" height="5.87" fill="#ffffff"/><rect x="55.79" y="335.65" width="5.86" height="5.87" fill="#d6dbfc"/><rect x="61.35" y="335.65" width="5.86" height="5.87" fill="#ffffff"/><rect x="66.90" y="335.65" width="5.86" height="5.87" fill="#fdd2d2"/><rect x="72.46" y="335.65" width="5.86" height="5.87" fill="#fdd2d2"/><rect x="78.02" y="335.65" width="5.86" height="5.87" fill="#fdd2d2"/><rect x="83.58" y="335.65" width="5.86" height="5.87" fill="#354dec"/><rect x="89.13" y="335.65" width="5.86" height="5.87" fill="#354dec"/><rect x="94.69" y="335.65" width="5.86" height="5.87" fill="#354dec"/><rect x="100.25" y="335.65" width="5.86" height="5.87" fill="#5d70f0"/><rect x="105.81" y="335.65" width="5.86" height="5.87" fill="#5d70f0"/><rect x="111.37" y="335.65" width="5.86" height="5.87" fill="#aeb7f8"/><rect x="116.92" y="335.65" width="5.86" height="5.87" fill="#d6dbfc"/><rect x="122.48" y="335.65" width="5.86" height="5.87" fill="#f11e1e"/><rect x="128.04" y="335.65" width="5.86" height="5.87" fill="#f01616"/><rect x="133.60" y="335.65" width="5.86" height="5.87" fill="#f01616"/><rect x="139.15" y="335.65" width="5.86" height="5.87" fill="#f01616"/><rect x="144.71" y="335.65" width="5.86" height="5.87" fill="#f44b4b"/><rect x="150.27" y="335.65" width="5.86" height="5.87" fill="#ffffff"/><rect x="155.83" y="335.65" width="5.86" height="5.87" fill="#f77878"/><rect x="161.38" y="335.65" width="5.86" height="5.87" fill="#f77878"/><rect x="166.94" y="335.65" width="11.86" height="5.87" fill="#fdd2d2"/><rect x="22.00" y="330.08" width="11.86" height="5.87" fill="#ffffff"/><rect x="33.56" y="330.08" width="5.86" height="5.87" fill="#f44b4b"/><rect x="39.12" y="330.08" width="5.86" height="5.87" fill="#f11e1e"/><rect x="44.67" y="330.08" width="5.86" height="5.87" fill="#f11e1e"/><rect x="50.23" y="330.08" width="5.86" height="5.87" fill="#faa5a5"/><rect x="55.79" y="330.08" width="5.86" height="5.87" fill="#f01616"/><rect x="61.35" y="330.08" width="5.86" height="5.87" fill="#f01616"/><rect x="66.90" y="330.08" width="5.86" height="5.87" fill="#f01616"/><rect x="72.46" y="330.08" width="5.86" height="5.87" fill="#d6dbfc"/><rect x="78.02" y="330.08" width="5.86" height="5.87" fill="#d6dbfc"/><rect x="83.58" y="330.08" width="5.86" height="5.87" fill="#aeb7f8"/><rect x="89.13" y="330.08" width="5.86" height="5.87" fill="#ffffff"/><rect x="94.69" y="330.08" width="5.86" height="5.87" fill="#d6dbfc"/><rect x="100.25" y="330.08" width="5.86" height="5.87" fill="#8594f4"/><rect x="105.81" y="330.08" width="5.86" height="5.87" fill="#8594f4"/><rect x="111.37" y="330.08" width="5.86" height="5.87" fill="#8594f4"/><rect x="116.92" y="330.08" width="5.86" height="5.87" fill="#d6dbfc"/><rect x="122.48" y="330.08" width="5.86" height="5.87" fill="#d6dbfc"/><rect x="128.04" y="330.08" width="5.86" height="5.87" fill="#d6dbfc"/><rect x="133.60" y="330.08" width="5.86" height="5.87" fill="#fdd2d2"/><rect x="139.15" y="330.08" width="5.86" height="5.87" fill="#f44b4b"/><rect x="144.71" y="330.08" width="5.86" height="5.87" fill="#f01616"/><rect x="150.27" y="330.08" width="5.86" height="5.87" fill="#f44b4b"/><rect x="155.83" y="330.08" width="5.86" height="5.87" fill="#d6dbfc"/><rect x="161.38" y="330.08" width="5.86" height="5.87" fill="#fdd2d2"/><rect x="166.94" y="330.08" width="11.86" height="5.87" fill="#ffffff"/><rect x="22.00" y="324.51" width="11.86" height="5.87" fill="#aeb7f8"/><rect x="33.56" y="324.51" width="5.86" height="5.87" fill="#5d70f0"/><rect x="39.12" y="324.51" width="5.86" height="5.87" fill="#5d70f0"/><rect x="44.67" y="324.51" width="5.86" height="5.87" fill="#5d70f0"/><rect x="50.23" y="324.51" width="5.86" height="5.87" fill="#ffffff"/><rect x="55.79" y="324.51" width="5.86" height="5.87" fill="#ffffff"/><rect x="61.35" y="324.51" width="5.86" height="5.87" fill="#d6dbfc"/><rect x="66.90" y="324.51" width="5.86" height="5.87" fill="#ffffff"/><rect x="72.46" y="324.51" width="5.86" height="5.87" fill="#8594f4"/><rect x="78.02" y="324.51" width="5.86" height="5.87" fill="#8594f4"/><rect x="83.58" y="324.51" width="5.86" height="5.87" fill="#8594f4"/><rect x="89.13" y="324.51" width="5.86" height="5.87" fill="#5d70f0"/><rect x="94.69" y="324.51" width="5.86" height="5.87" fill="#5d70f0"/><rect x="100.25" y="324.51" width="5.86" height="5.87" fill="#5d70f0"/><rect x="105.81" y="324.51" width="5.86" height="5.87" fill="#aeb7f8"/><rect x="111.37" y="324.51" width="5.86" height="5.87" fill="#aeb7f8"/><rect x="116.92" y="324.51" width="5.86" height="5.87" fill="#fdd2d2"/><rect x="122.48" y="324.51" width="5.86" height="5.87" fill="#aeb7f8"/><rect x="128.04" y="324.51" width="5.86" height="5.87" fill="#aeb7f8"/><rect x="133.60" y="324.51" width="5.86" height="5.87" fill="#aeb7f8"/><rect x="139.15" y="324.51" width="5.86" height="5.87" fill="#ffffff"/><rect x="144.71" y="324.51" width="5.86" height="5.87" fill="#f44b4b"/><rect x="150.27" y="324.51" width="5.86" height="5.87" fill="#f01616"/><rect x="155.83" y="324.51" width="5.86" height="5.87" fill="#faa5a5"/><rect x="161.38" y="324.51" width="5.86" height="5.87" fill="#ffffff"/><rect x="166.94" y="324.51" width="11.86" height="5.87" fill="#d6dbfc"/><rect x="22.00" y="318.94" width="11.86" height="5.87" fill="#8594f4"/><rect x="33.56" y="318.94" width="5.86" height="5.87" fill="#2d46eb"/><rect x="39.12" y="318.94" width="5.86" height="5.87" fill="#2d46eb"/><rect x="44.67" y="318.94" width="5.86" height="5.87" fill="#2d46eb"/><rect x="50.23" y="318.94" width="5.86" height="5.87" fill="#aeb7f8"/><rect x="55.79" y="318.94" width="5.86" height="5.87" fill="#2d46eb"/><rect x="61.35" y="318.94" width="5.86" height="5.87" fill="#2d46eb"/><rect x="66.90" y="318.94" width="5.86" height="5.87" fill="#5d70f0"/><rect x="72.46" y="318.94" width="5.86" height="5.87" fill="#354dec"/><rect x="78.02" y="318.94" width="5.86" height="5.87" fill="#5d70f0"/><rect x="83.58" y="318.94" width="5.86" height="5.87" fill="#354dec"/><rect x="89.13" y="318.94" width="5.86" height="5.87" fill="#2d46eb"/><rect x="94.69" y="318.94" width="5.86" height="5.87" fill="#2d46eb"/><rect x="100.25" y="318.94" width="5.86" height="5.87" fill="#354dec"/><rect x="105.81" y="318.94" width="5.86" height="5.87" fill="#2d46eb"/><rect x="111.37" y="318.94" width="5.86" height="5.87" fill="#2d46eb"/><rect x="116.92" y="318.94" width="5.86" height="5.87" fill="#8594f4"/><rect x="122.48" y="318.94" width="5.86" height="5.87" fill="#f77878"/><rect x="128.04" y="318.94" width="5.86" height="5.87" fill="#f44b4b"/><rect x="133.60" y="318.94" width="5.86" height="5.87" fill="#f44b4b"/><rect x="139.15" y="318.94" width="5.86" height="5.87" fill="#f77878"/><rect x="144.71" y="318.94" width="5.86" height="5.87" fill="#d6dbfc"/><rect x="150.27" y="318.94" width="5.86" height="5.87" fill="#faa5a5"/><rect x="155.83" y="318.94" width="5.86" height="5.87" fill="#f01616"/><rect x="161.38" y="318.94" width="5.86" height="5.87" fill="#f44b4b"/><rect x="166.94" y="318.94" width="11.86" height="5.87" fill="#f77878"/><rect x="22.00" y="313.37" width="11.86" height="5.87" fill="#d6dbfc"/><rect x="33.56" y="313.37" width="5.86" height="5.87" fill="#5d70f0"/><rect x="39.12" y="313.37" width="5.86" height="5.87" fill="#354dec"/><rect x="44.67" y="313.37" width="5.86" height="5.87" fill="#5d70f0"/><rect x="50.23" y="313.37" width="5.86" height="5.87" fill="#ffffff"/><rect x="55.79" y="313.37" width="5.86" height="5.87" fill="#5d70f0"/><rect x="61.35" y="313.37" width="5.86" height="5.87" fill="#5d70f0"/><rect x="66.90" y="313.37" width="5.86" height="5.87" fill="#8594f4"/><rect x="72.46" y="313.37" width="5.86" height="5.87" fill="#5d70f0"/><rect x="78.02" y="313.37" width="5.86" height="5.87" fill="#aeb7f8"/><rect x="83.58" y="313.37" width="5.86" height="5.87" fill="#8594f4"/><rect x="89.13" y="313.37" width="5.86" height="5.87" fill="#5d70f0"/><rect x="94.69" y="313.37" width="5.86" height="5.87" fill="#5d70f0"/><rect x="100.25" y="313.37" width="5.86" height="5.87" fill="#354dec"/><rect x="105.81" y="313.37" width="5.86" height="5.87" fill="#2d46eb"/><rect x="111.37" y="313.37" width="5.86" height="5.87" fill="#2d46eb"/><rect x="116.92" y="313.37" width="5.86" height="5.87" fill="#8594f4"/><rect x="122.48" y="313.37" width="5.86" height="5.87" fill="#f77878"/><rect x="128.04" y="313.37" width="5.86" height="5.87" fill="#f44b4b"/><rect x="133.60" y="313.37" width="5.86" height="5.87" fill="#f44b4b"/><rect x="139.15" y="313.37" width="5.86" height="5.87" fill="#f77878"/><rect x="144.71" y="313.37" width="5.86" height="5.87" fill="#fdd2d2"/><rect x="150.27" y="313.37" width="5.86" height="5.87" fill="#ffffff"/><rect x="155.83" y="313.37" width="5.86" height="5.87" fill="#f44b4b"/><rect x="161.38" y="313.37" width="5.86" height="5.87" fill="#f01616"/><rect x="166.94" y="313.37" width="11.86" height="5.87" fill="#f11e1e"/><rect x="22.00" y="301.80" width="11.86" height="11.87" fill="#aeb7f8"/><rect x="33.56" y="301.80" width="5.86" height="11.87" fill="#354dec"/><rect x="39.12" y="301.80" width="5.86" height="11.87" fill="#2d46eb"/><rect x="44.67" y="301.80" width="5.86" height="11.87" fill="#2d46eb"/><rect x="50.23" y="301.80" width="5.86" height="11.87" fill="#d6dbfc"/><rect x="55.79" y="301.80" width="5.86" height="11.87" fill="#2d46eb"/><rect x="61.35" y="301.80" width="5.86" height="11.87" fill="#354dec"/><rect x="66.90" y="301.80" width="5.86" height="11.87" fill="#354dec"/><rect x="72.46" y="301.80" width="5.86" height="11.87" fill="#354dec"/><rect x="78.02" y="301.80" width="5.86" height="11.87" fill="#5d70f0"/><rect x="83.58" y="301.80" width="5.86" height="11.87" fill="#aeb7f8"/><rect x="89.13" y="301.80" width="5.86" height="11.87" fill="#8594f4"/><rect x="94.69" y="301.80" width="5.86" height="11.87" fill="#8594f4"/><rect x="100.25" y="301.80" width="5.86" height="11.87" fill="#8594f4"/><rect x="105.81" y="301.80" width="5.86" height="11.87" fill="#354dec"/><rect x="111.37" y="301.80" width="5.86" height="11.87" fill="#354dec"/><rect x="116.92" y="301.80" width="5.86" height="11.87" fill="#8594f4"/><rect x="122.48" y="301.80" width="5.86" height="11.87" fill="#faa5a5"/><rect x="128.04" y="301.80" width="5.86" height="11.87" fill="#f77878"/><rect x="133.60" y="301.80" width="5.86" height="11.87" fill="#faa5a5"/><rect x="139.15" y="301.80" width="5.86" height="11.87" fill="#fdd2d2"/><rect x="144.71" y="301.80" width="5.86" height="11.87" fill="#ffffff"/><rect x="150.27" y="301.80" width="5.86" height="11.87" fill="#d6dbfc"/><rect x="155.83" y="301.80" width="5.86" height="11.87" fill="#f77878"/><rect x="161.38" y="301.80" width="5.86" height="11.87" fill="#f11e1e"/><rect x="166.94" y="301.80" width="11.86" height="11.87" fill="#f01616"/></g><g filter="url(#fblur2)"><rect x="28.22" y="307.8" width="4.00" height="144.8" fill="#fff" fill-opacity="0.41"/><rect x="28.0" y="448.38" width="144.5" height="4.00" fill="#fff" fill-opacity="0.41"/><rect x="50.23" y="307.8" width="2.22" height="144.8" fill="#fff" fill-opacity="0.28"/><rect x="28.0" y="428.15" width="144.5" height="2.22" fill="#fff" fill-opacity="0.28"/><rect x="55.12" y="307.8" width="2.22" height="144.8" fill="#fff" fill-opacity="0.28"/><rect x="28.0" y="423.26" width="144.5" height="2.22" fill="#fff" fill-opacity="0.28"/><rect x="66.24" y="307.8" width="1.33" height="144.8" fill="#fff" fill-opacity="0.28"/><rect x="28.0" y="413.03" width="144.5" height="1.33" fill="#fff" fill-opacity="0.28"/><rect x="70.01" y="307.8" width="1.33" height="144.8" fill="#fff" fill-opacity="0.25"/><rect x="28.0" y="409.25" width="144.5" height="1.33" fill="#fff" fill-opacity="0.25"/><rect x="81.80" y="307.8" width="1.33" height="144.8" fill="#fff" fill-opacity="0.22"/><rect x="28.0" y="397.47" width="144.5" height="1.33" fill="#fff" fill-opacity="0.22"/><rect x="100.47" y="307.8" width="1.78" height="144.8" fill="#fff" fill-opacity="0.28"/><rect x="28.0" y="378.35" width="144.5" height="1.78" fill="#fff" fill-opacity="0.28"/><rect x="109.14" y="307.8" width="1.33" height="144.8" fill="#fff" fill-opacity="0.22"/><rect x="28.0" y="370.13" width="144.5" height="1.33" fill="#fff" fill-opacity="0.22"/><rect x="118.70" y="307.8" width="1.78" height="144.8" fill="#fff" fill-opacity="0.28"/><rect x="28.0" y="360.12" width="144.5" height="1.78" fill="#fff" fill-opacity="0.28"/><rect x="138.48" y="307.8" width="1.33" height="144.8" fill="#fff" fill-opacity="0.19"/><rect x="28.0" y="340.78" width="144.5" height="1.33" fill="#fff" fill-opacity="0.19"/><rect x="157.38" y="307.8" width="1.78" height="144.8" fill="#fff" fill-opacity="0.28"/><rect x="28.0" y="321.44" width="144.5" height="1.78" fill="#fff" fill-opacity="0.28"/><rect x="162.05" y="307.8" width="1.33" height="144.8" fill="#fff" fill-opacity="0.28"/><rect x="28.0" y="317.22" width="144.5" height="1.33" fill="#fff" fill-opacity="0.28"/><rect x="169.38" y="307.8" width="2.22" height="144.8" fill="#fff" fill-opacity="0.33"/><rect x="28.0" y="308.99" width="144.5" height="2.22" fill="#fff" fill-opacity="0.33"/></g><path d="M28.0 452.6L172.5 307.8" stroke="#f01818" stroke-width="2.2" opacity="0.85"/></g>
<rect x="28.0" y="307.8" width="144.5" height="144.8" fill="none" stroke="#a0a0a0" stroke-width="1.2"/>
<defs><linearGradient id="fcb" x1="0" y1="0" x2="0" y2="1"><stop offset="0" stop-color="#f01818"/><stop offset="0.5" stop-color="#ffffff"/><stop offset="1" stop-color="#2020f0"/></linearGradient></defs>
<rect x="176.3" y="307.8" width="7.4" height="144.8" fill="url(#fcb)" stroke="#888" stroke-width="0.6"/>
<path d="M176.3 380.4h7.4" stroke="#555" stroke-width="0.6"/>
<path d="M28.0 452.6h-1.5M28.0 452.6v1.5M28.0 430.4h-1.5M50.2 452.6v1.5M28.0 408.1h-1.5M72.5 452.6v1.5M28.0 385.9h-1.5M94.7 452.6v1.5M28.0 363.7h-1.5M116.9 452.6v1.5M28.0 341.5h-1.5M139.2 452.6v1.5M28.0 319.2h-1.5M161.4 452.6v1.5" stroke="#333" stroke-width="0.7"/>
<text transform="translate(23.40,455.00) scale(0.88,1)" font-family='"Liberation Sans", sans-serif' font-size="7" text-anchor="end" font-weight="normal" fill="#222" stroke="#222" stroke-width="0.1">0</text>
<text transform="translate(28.00,461.90) scale(0.88,1)" font-family='"Liberation Sans", sans-serif' font-size="7" text-anchor="middle" font-weight="normal" fill="#222" stroke="#222" stroke-width="0.1">0</text>
<text transform="translate(23.40,432.77) scale(0.88,1)" font-family='"Liberation Sans", sans-serif' font-size="7" text-anchor="end" font-weight="normal" fill="#222" stroke="#222" stroke-width="0.1">100</text>
<text transform="translate(50.23,461.90) scale(0.88,1)" font-family='"Liberation Sans", sans-serif' font-size="7" text-anchor="middle" font-weight="normal" fill="#222" stroke="#222" stroke-width="0.1">100</text>
<text transform="translate(23.40,410.54) scale(0.88,1)" font-family='"Liberation Sans", sans-serif' font-size="7" text-anchor="end" font-weight="normal" fill="#222" stroke="#222" stroke-width="0.1">200</text>
<text transform="translate(72.46,461.90) scale(0.88,1)" font-family='"Liberation Sans", sans-serif' font-size="7" text-anchor="middle" font-weight="normal" fill="#222" stroke="#222" stroke-width="0.1">200</text>
<text transform="translate(23.40,388.31) scale(0.88,1)" font-family='"Liberation Sans", sans-serif' font-size="7" text-anchor="end" font-weight="normal" fill="#222" stroke="#222" stroke-width="0.1">300</text>
<text transform="translate(94.69,461.90) scale(0.88,1)" font-family='"Liberation Sans", sans-serif' font-size="7" text-anchor="middle" font-weight="normal" fill="#222" stroke="#222" stroke-width="0.1">300</text>
<text transform="translate(23.40,366.08) scale(0.88,1)" font-family='"Liberation Sans", sans-serif' font-size="7" text-anchor="end" font-weight="normal" fill="#222" stroke="#222" stroke-width="0.1">400</text>
<text transform="translate(116.92,461.90) scale(0.88,1)" font-family='"Liberation Sans", sans-serif' font-size="7" text-anchor="middle" font-weight="normal" fill="#222" stroke="#222" stroke-width="0.1">400</text>
<text transform="translate(23.40,343.85) scale(0.88,1)" font-family='"Liberation Sans", sans-serif' font-size="7" text-anchor="end" font-weight="normal" fill="#222" stroke="#222" stroke-width="0.1">500</text>
<text transform="translate(139.15,461.90) scale(0.88,1)" font-family='"Liberation Sans", sans-serif' font-size="7" text-anchor="middle" font-weight="normal" fill="#222" stroke="#222" stroke-width="0.1">500</text>
<text transform="translate(23.40,321.62) scale(0.88,1)" font-family='"Liberation Sans", sans-serif' font-size="7" text-anchor="end" font-weight="normal" fill="#222" stroke="#222" stroke-width="0.1">600</text>
<text transform="translate(161.38,461.90) scale(0.88,1)" font-family='"Liberation Sans", sans-serif' font-size="7" text-anchor="middle" font-weight="normal" fill="#222" stroke="#222" stroke-width="0.1">600</text>
<text transform="translate(100.00,472.30) scale(0.88,1)" font-family='"Liberation Sans", sans-serif' font-size="6.6" text-anchor="middle" font-weight="normal" fill="#222" stroke="#222" stroke-width="0.1">Residue Index</text>
<text transform="translate(5.60,380.00) rotate(-90) scale(0.88,1)" font-family='"Liberation Sans", sans-serif' font-size="6.6" text-anchor="middle" font-weight="normal" fill="#222" stroke="#222" stroke-width="0.1">Residue Index</text>
<text transform="translate(93.50,492.60)" font-family='"Liberation Serif", serif' font-size="13.5" text-anchor="middle" font-weight="bold" fill="#000">(F)</text>
<path d="M274.6 442.9h1.9v1.9h-1.9zM274.6 444.6h1.9v1.9h-1.9zM274.6 447.8h1.9v1.9h-1.9zM274.6 449.5h1.9v1.9h-1.9zM276.2 393.4h1.9v1.9h-1.9zM276.2 400.0h1.9v1.9h-1.9zM276.2 409.9h1.9v1.9h-1.9zM276.2 411.6h1.9v1.9h-1.9zM276.2 418.1h1.9v1.9h-1.9zM276.2 421.4h1.9v1.9h-1.9zM276.2 426.4h1.9v1.9h-1.9zM276.2 428.1h1.9v1.9h-1.9zM276.2 436.3h1.9v1.9h-1.9zM276.2 442.9h1.9v1.9h-1.9zM276.2 444.6h1.9v1.9h-1.9zM276.2 446.2h1.9v1.9h-1.9zM276.2 447.8h1.9v1.9h-1.9zM276.2 449.5h1.9v1.9h-1.9zM276.2 451.1h1.9v1.9h-1.9zM277.9 373.6h1.9v1.9h-1.9zM277.9 375.2h1.9v1.9h-1.9zM277.9 414.8h1.9v1.9h-1.9zM277.9 419.8h1.9v1.9h-1.9zM277.9 421.4h1.9v1.9h-1.9zM277.9 423.1h1.9v1.9h-1.9zM277.9 428.1h1.9v1.9h-1.9zM277.9 433.0h1.9v1.9h-1.9zM277.9 434.6h1.9v1.9h-1.9zM277.9 436.3h1.9v1.9h-1.9zM277.9 442.9h1.9v1.9h-1.9zM277.9 444.6h1.9v1.9h-1.9zM277.9 446.2h1.9v1.9h-1.9zM277.9 447.8h1.9v1.9h-1.9zM277.9 449.5h1.9v1.9h-1.9zM277.9 451.1h1.9v1.9h-1.9zM279.6 373.6h1.9v1.9h-1.9zM279.6 375.2h1.9v1.9h-1.9zM279.6 380.2h1.9v1.9h-1.9zM279.6 396.7h1.9v1.9h-1.9zM279.6 400.0h1.9v1.9h-1.9zM279.6 401.6h1.9v1.9h-1.9zM279.6 406.6h1.9v1.9h-1.9zM279.6 408.2h1.9v1.9h-1.9zM279.6 414.8h1.9v1.9h-1.9zM279.6 416.5h1.9v1.9h-1.9zM279.6 418.1h1.9v1.9h-1.9zM279.6 419.8h1.9v1.9h-1.9zM279.6 423.1h1.9v1.9h-1.9zM279.6 424.8h1.9v1.9h-1.9zM279.6 426.4h1.9v1.9h-1.9zM279.6 428.1h1.9v1.9h-1.9zM279.6 431.3h1.9v1.9h-1.9zM279.6 434.6h1.9v1.9h-1.9zM279.6 437.9h1.9v1.9h-1.9zM279.6 441.2h1.9v1.9h-1.9zM279.6 444.6h1.9v1.9h-1.9zM279.6 446.2h1.9v1.9h-1.9zM279.6 447.8h1.9v1.9h-1.9zM279.6 449.5h1.9v1.9h-1.9zM281.2 375.2h1.9v1.9h-1.9zM281.2 380.2h1.9v1.9h-1.9zM281.2 396.7h1.9v1.9h-1.9zM281.2 404.9h1.9v1.9h-1.9zM281.2 414.8h1.9v1.9h-1.9zM281.2 419.8h1.9v1.9h-1.9zM281.2 421.4h1.9v1.9h-1.9zM281.2 423.1h1.9v1.9h-1.9zM281.2 428.1h1.9v1.9h-1.9zM281.2 436.3h1.9v1.9h-1.9zM281.2 439.6h1.9v1.9h-1.9zM281.2 442.9h1.9v1.9h-1.9zM281.2 444.6h1.9v1.9h-1.9zM281.2 446.2h1.9v1.9h-1.9zM281.2 447.8h1.9v1.9h-1.9zM282.9 373.6h1.9v1.9h-1.9zM282.9 375.2h1.9v1.9h-1.9zM282.9 380.2h1.9v1.9h-1.9zM282.9 403.3h1.9v1.9h-1.9zM282.9 408.2h1.9v1.9h-1.9zM282.9 413.2h1.9v1.9h-1.9zM282.9 418.1h1.9v1.9h-1.9zM282.9 419.8h1.9v1.9h-1.9zM282.9 426.4h1.9v1.9h-1.9zM282.9 433.0h1.9v1.9h-1.9zM282.9 434.6h1.9v1.9h-1.9zM282.9 436.3h1.9v1.9h-1.9zM282.9 437.9h1.9v1.9h-1.9zM282.9 439.6h1.9v1.9h-1.9zM282.9 441.2h1.9v1.9h-1.9zM282.9 442.9h1.9v1.9h-1.9zM282.9 444.6h1.9v1.9h-1.9zM282.9 446.2h1.9v1.9h-1.9zM282.9 447.8h1.9v1.9h-1.9zM282.9 449.5h1.9v1.9h-1.9zM282.9 451.1h1.9v1.9h-1.9zM284.5 373.6h1.9v1.9h-1.9zM284.5 395.1h1.9v1.9h-1.9zM284.5 396.7h1.9v1.9h-1.9zM284.5 400.0h1.9v1.9h-1.9zM284.5 403.3h1.9v1.9h-1.9zM284.5 404.9h1.9v1.9h-1.9zM284.5 413.2h1.9v1.9h-1.9zM284.5 426.4h1.9v1.9h-1.9zM284.5 428.1h1.9v1.9h-1.9zM284.5 429.7h1.9v1.9h-1.9zM284.5 433.0h1.9v1.9h-1.9zM284.5 434.6h1.9v1.9h-1.9zM284.5 436.3h1.9v1.9h-1.9zM284.5 437.9h1.9v1.9h-1.9zM284.5 439.6h1.9v1.9h-1.9zM284.5 441.2h1.9v1.9h-1.9zM284.5 442.9h1.9v1.9h-1.9zM284.5 444.6h1.9v1.9h-1.9zM284.5 447.8h1.9v1.9h-1.9zM284.5 449.5h1.9v1.9h-1.9zM284.5 451.1h1.9v1.9h-1.9zM286.1 343.9h1.9v1.9h-1.9zM286.1 345.6h1.9v1.9h-1.9zM286.1 403.3h1.9v1.9h-1.9zM286.1 421.4h1.9v1.9h-1.9zM286.1 424.8h1.9v1.9h-1.9zM286.1 426.4h1.9v1.9h-1.9zM286.1 433.0h1.9v1.9h-1.9zM286.1 434.6h1.9v1.9h-1.9zM286.1 436.3h1.9v1.9h-1.9zM286.1 437.9h1.9v1.9h-1.9zM286.1 439.6h1.9v1.9h-1.9zM286.1 441.2h1.9v1.9h-1.9zM286.1 446.2h1.9v1.9h-1.9zM287.8 343.9h1.9v1.9h-1.9zM287.8 345.6h1.9v1.9h-1.9zM287.8 396.7h1.9v1.9h-1.9zM287.8 414.8h1.9v1.9h-1.9zM287.8 423.1h1.9v1.9h-1.9zM287.8 424.8h1.9v1.9h-1.9zM287.8 426.4h1.9v1.9h-1.9zM287.8 428.1h1.9v1.9h-1.9zM287.8 429.7h1.9v1.9h-1.9zM287.8 431.3h1.9v1.9h-1.9zM287.8 433.0h1.9v1.9h-1.9zM287.8 436.3h1.9v1.9h-1.9zM287.8 437.9h1.9v1.9h-1.9zM287.8 439.6h1.9v1.9h-1.9zM287.8 441.2h1.9v1.9h-1.9zM287.8 442.9h1.9v1.9h-1.9zM287.8 444.6h1.9v1.9h-1.9zM287.8 446.2h1.9v1.9h-1.9zM289.4 396.7h1.9v1.9h-1.9zM289.4 404.9h1.9v1.9h-1.9zM289.4 424.8h1.9v1.9h-1.9zM289.4 426.4h1.9v1.9h-1.9zM289.4 428.1h1.9v1.9h-1.9zM289.4 429.7h1.9v1.9h-1.9zM289.4 431.3h1.9v1.9h-1.9zM289.4 439.6h1.9v1.9h-1.9zM289.4 442.9h1.9v1.9h-1.9zM289.4 446.2h1.9v1.9h-1.9zM291.1 403.3h1.9v1.9h-1.9zM291.1 404.9h1.9v1.9h-1.9zM291.1 423.1h1.9v1.9h-1.9zM291.1 424.8h1.9v1.9h-1.9zM291.1 426.4h1.9v1.9h-1.9zM291.1 428.1h1.9v1.9h-1.9zM291.1 429.7h1.9v1.9h-1.9zM291.1 431.3h1.9v1.9h-1.9zM291.1 433.0h1.9v1.9h-1.9zM291.1 439.6h1.9v1.9h-1.9zM291.1 441.2h1.9v1.9h-1.9zM291.1 442.9h1.9v1.9h-1.9zM291.1 444.6h1.9v1.9h-1.9zM291.1 447.8h1.9v1.9h-1.9zM291.1 449.5h1.9v1.9h-1.9zM292.8 396.7h1.9v1.9h-1.9zM292.8 403.3h1.9v1.9h-1.9zM292.8 414.8h1.9v1.9h-1.9zM292.8 416.5h1.9v1.9h-1.9zM292.8 421.4h1.9v1.9h-1.9zM292.8 424.8h1.9v1.9h-1.9zM292.8 426.4h1.9v1.9h-1.9zM292.8 428.1h1.9v1.9h-1.9zM292.8 429.7h1.9v1.9h-1.9zM292.8 431.3h1.9v1.9h-1.9zM292.8 441.2h1.9v1.9h-1.9zM292.8 442.9h1.9v1.9h-1.9zM292.8 446.2h1.9v1.9h-1.9zM292.8 447.8h1.9v1.9h-1.9zM294.4 348.8h1.9v1.9h-1.9zM294.4 350.5h1.9v1.9h-1.9zM294.4 355.4h1.9v1.9h-1.9zM294.4 360.4h1.9v1.9h-1.9zM294.4 393.4h1.9v1.9h-1.9zM294.4 395.1h1.9v1.9h-1.9zM294.4 396.7h1.9v1.9h-1.9zM294.4 404.9h1.9v1.9h-1.9zM294.4 426.4h1.9v1.9h-1.9zM294.4 428.1h1.9v1.9h-1.9zM294.4 429.7h1.9v1.9h-1.9zM294.4 431.3h1.9v1.9h-1.9zM294.4 433.0h1.9v1.9h-1.9zM294.4 434.6h1.9v1.9h-1.9zM294.4 436.3h1.9v1.9h-1.9zM294.4 437.9h1.9v1.9h-1.9zM294.4 439.6h1.9v1.9h-1.9zM294.4 441.2h1.9v1.9h-1.9zM294.4 442.9h1.9v1.9h-1.9zM294.4 447.8h1.9v1.9h-1.9zM296.1 398.3h1.9v1.9h-1.9zM296.1 404.9h1.9v1.9h-1.9zM296.1 434.6h1.9v1.9h-1.9zM296.1 437.9h1.9v1.9h-1.9zM296.1 439.6h1.9v1.9h-1.9zM296.1 446.2h1.9v1.9h-1.9zM297.7 395.1h1.9v1.9h-1.9zM297.7 401.6h1.9v1.9h-1.9zM297.7 433.0h1.9v1.9h-1.9zM297.7 434.6h1.9v1.9h-1.9zM297.7 436.3h1.9v1.9h-1.9zM297.7 437.9h1.9v1.9h-1.9zM297.7 439.6h1.9v1.9h-1.9zM299.4 347.2h1.9v1.9h-1.9zM299.4 398.3h1.9v1.9h-1.9zM299.4 401.6h1.9v1.9h-1.9zM299.4 408.2h1.9v1.9h-1.9zM299.4 424.8h1.9v1.9h-1.9zM299.4 433.0h1.9v1.9h-1.9zM299.4 434.6h1.9v1.9h-1.9zM299.4 436.3h1.9v1.9h-1.9zM299.4 437.9h1.9v1.9h-1.9zM299.4 441.2h1.9v1.9h-1.9zM299.4 446.2h1.9v1.9h-1.9zM299.4 449.5h1.9v1.9h-1.9zM301.0 347.2h1.9v1.9h-1.9zM301.0 348.8h1.9v1.9h-1.9zM301.0 383.5h1.9v1.9h-1.9zM301.0 396.7h1.9v1.9h-1.9zM301.0 403.3h1.9v1.9h-1.9zM301.0 406.6h1.9v1.9h-1.9zM301.0 433.0h1.9v1.9h-1.9zM301.0 434.6h1.9v1.9h-1.9zM301.0 436.3h1.9v1.9h-1.9zM301.0 437.9h1.9v1.9h-1.9zM301.0 439.6h1.9v1.9h-1.9zM301.0 441.2h1.9v1.9h-1.9zM301.0 444.6h1.9v1.9h-1.9zM301.0 446.2h1.9v1.9h-1.9zM301.0 447.8h1.9v1.9h-1.9zM301.0 449.5h1.9v1.9h-1.9zM302.6 347.2h1.9v1.9h-1.9zM302.6 401.6h1.9v1.9h-1.9zM302.6 406.6h1.9v1.9h-1.9zM302.6 416.5h1.9v1.9h-1.9zM302.6 418.1h1.9v1.9h-1.9zM302.6 419.8h1.9v1.9h-1.9zM302.6 433.0h1.9v1.9h-1.9zM302.6 434.6h1.9v1.9h-1.9zM302.6 436.3h1.9v1.9h-1.9zM302.6 437.9h1.9v1.9h-1.9zM302.6 439.6h1.9v1.9h-1.9zM302.6 441.2h1.9v1.9h-1.9zM302.6 442.9h1.9v1.9h-1.9zM304.3 347.2h1.9v1.9h-1.9zM304.3 348.8h1.9v1.9h-1.9zM304.3 398.3h1.9v1.9h-1.9zM304.3 414.8h1.9v1.9h-1.9zM304.3 416.5h1.9v1.9h-1.9zM304.3 418.1h1.9v1.9h-1.9zM304.3 419.8h1.9v1.9h-1.9zM304.3 421.4h1.9v1.9h-1.9zM304.3 428.1h1.9v1.9h-1.9zM304.3 434.6h1.9v1.9h-1.9zM304.3 436.3h1.9v1.9h-1.9zM304.3 437.9h1.9v1.9h-1.9zM304.3 446.2h1.9v1.9h-1.9zM305.9 347.2h1.9v1.9h-1.9zM305.9 395.1h1.9v1.9h-1.9zM305.9 396.7h1.9v1.9h-1.9zM305.9 404.9h1.9v1.9h-1.9zM305.9 409.9h1.9v1.9h-1.9zM305.9 411.6h1.9v1.9h-1.9zM305.9 413.2h1.9v1.9h-1.9zM305.9 414.8h1.9v1.9h-1.9zM305.9 416.5h1.9v1.9h-1.9zM305.9 418.1h1.9v1.9h-1.9zM305.9 419.8h1.9v1.9h-1.9zM305.9 421.4h1.9v1.9h-1.9zM305.9 423.1h1.9v1.9h-1.9zM305.9 434.6h1.9v1.9h-1.9zM305.9 437.9h1.9v1.9h-1.9zM305.9 444.6h1.9v1.9h-1.9zM305.9 446.2h1.9v1.9h-1.9zM305.9 447.8h1.9v1.9h-1.9zM305.9 449.5h1.9v1.9h-1.9zM307.6 353.8h1.9v1.9h-1.9zM307.6 373.6h1.9v1.9h-1.9zM307.6 411.6h1.9v1.9h-1.9zM307.6 413.2h1.9v1.9h-1.9zM307.6 414.8h1.9v1.9h-1.9zM307.6 416.5h1.9v1.9h-1.9zM307.6 418.1h1.9v1.9h-1.9zM307.6 419.8h1.9v1.9h-1.9zM307.6 421.4h1.9v1.9h-1.9zM307.6 423.1h1.9v1.9h-1.9zM307.6 424.8h1.9v1.9h-1.9zM307.6 439.6h1.9v1.9h-1.9zM307.6 444.6h1.9v1.9h-1.9zM307.6 447.8h1.9v1.9h-1.9zM307.6 449.5h1.9v1.9h-1.9zM309.2 353.8h1.9v1.9h-1.9zM309.2 360.4h1.9v1.9h-1.9zM309.2 365.3h1.9v1.9h-1.9zM309.2 367.0h1.9v1.9h-1.9zM309.2 368.6h1.9v1.9h-1.9zM309.2 370.3h1.9v1.9h-1.9zM309.2 373.6h1.9v1.9h-1.9zM309.2 375.2h1.9v1.9h-1.9zM309.2 380.2h1.9v1.9h-1.9zM309.2 381.8h1.9v1.9h-1.9zM309.2 385.1h1.9v1.9h-1.9zM309.2 413.2h1.9v1.9h-1.9zM309.2 414.8h1.9v1.9h-1.9zM309.2 416.5h1.9v1.9h-1.9zM309.2 421.4h1.9v1.9h-1.9zM309.2 423.1h1.9v1.9h-1.9zM309.2 424.8h1.9v1.9h-1.9zM309.2 426.4h1.9v1.9h-1.9zM309.2 442.9h1.9v1.9h-1.9zM309.2 444.6h1.9v1.9h-1.9zM309.2 446.2h1.9v1.9h-1.9zM309.2 447.8h1.9v1.9h-1.9zM310.9 353.8h1.9v1.9h-1.9zM310.9 365.3h1.9v1.9h-1.9zM310.9 373.6h1.9v1.9h-1.9zM310.9 378.6h1.9v1.9h-1.9zM310.9 413.2h1.9v1.9h-1.9zM310.9 414.8h1.9v1.9h-1.9zM310.9 416.5h1.9v1.9h-1.9zM310.9 418.1h1.9v1.9h-1.9zM310.9 419.8h1.9v1.9h-1.9zM310.9 421.4h1.9v1.9h-1.9zM310.9 423.1h1.9v1.9h-1.9zM310.9 424.8h1.9v1.9h-1.9zM310.9 426.4h1.9v1.9h-1.9zM310.9 442.9h1.9v1.9h-1.9zM310.9 446.2h1.9v1.9h-1.9zM310.9 449.5h1.9v1.9h-1.9zM312.6 347.2h1.9v1.9h-1.9zM312.6 348.8h1.9v1.9h-1.9zM312.6 365.3h1.9v1.9h-1.9zM312.6 378.6h1.9v1.9h-1.9zM312.6 380.2h1.9v1.9h-1.9zM312.6 396.7h1.9v1.9h-1.9zM312.6 398.3h1.9v1.9h-1.9zM312.6 403.3h1.9v1.9h-1.9zM312.6 404.9h1.9v1.9h-1.9zM312.6 406.6h1.9v1.9h-1.9zM312.6 414.8h1.9v1.9h-1.9zM312.6 416.5h1.9v1.9h-1.9zM312.6 418.1h1.9v1.9h-1.9zM312.6 419.8h1.9v1.9h-1.9zM312.6 421.4h1.9v1.9h-1.9zM312.6 423.1h1.9v1.9h-1.9zM312.6 424.8h1.9v1.9h-1.9zM312.6 434.6h1.9v1.9h-1.9zM312.6 446.2h1.9v1.9h-1.9zM314.2 347.2h1.9v1.9h-1.9zM314.2 348.8h1.9v1.9h-1.9zM314.2 353.8h1.9v1.9h-1.9zM314.2 381.8h1.9v1.9h-1.9zM314.2 416.5h1.9v1.9h-1.9zM314.2 418.1h1.9v1.9h-1.9zM314.2 419.8h1.9v1.9h-1.9zM314.2 421.4h1.9v1.9h-1.9zM314.2 423.1h1.9v1.9h-1.9zM314.2 434.6h1.9v1.9h-1.9zM314.2 437.9h1.9v1.9h-1.9zM314.2 441.2h1.9v1.9h-1.9zM314.2 444.6h1.9v1.9h-1.9zM314.2 446.2h1.9v1.9h-1.9zM314.2 447.8h1.9v1.9h-1.9zM315.8 373.6h1.9v1.9h-1.9zM315.8 375.2h1.9v1.9h-1.9zM315.8 376.9h1.9v1.9h-1.9zM315.8 378.6h1.9v1.9h-1.9zM315.8 380.2h1.9v1.9h-1.9zM315.8 381.8h1.9v1.9h-1.9zM315.8 404.9h1.9v1.9h-1.9zM315.8 406.6h1.9v1.9h-1.9zM315.8 408.2h1.9v1.9h-1.9zM315.8 409.9h1.9v1.9h-1.9zM315.8 411.6h1.9v1.9h-1.9zM315.8 418.1h1.9v1.9h-1.9zM315.8 421.4h1.9v1.9h-1.9zM315.8 442.9h1.9v1.9h-1.9zM317.5 371.9h1.9v1.9h-1.9zM317.5 373.6h1.9v1.9h-1.9zM317.5 375.2h1.9v1.9h-1.9zM317.5 376.9h1.9v1.9h-1.9zM317.5 380.2h1.9v1.9h-1.9zM317.5 381.8h1.9v1.9h-1.9zM317.5 383.5h1.9v1.9h-1.9zM317.5 403.3h1.9v1.9h-1.9zM317.5 404.9h1.9v1.9h-1.9zM317.5 406.6h1.9v1.9h-1.9zM317.5 408.2h1.9v1.9h-1.9zM317.5 409.9h1.9v1.9h-1.9zM317.5 411.6h1.9v1.9h-1.9zM317.5 413.2h1.9v1.9h-1.9zM317.5 423.1h1.9v1.9h-1.9zM317.5 449.5h1.9v1.9h-1.9zM319.1 365.3h1.9v1.9h-1.9zM319.1 371.9h1.9v1.9h-1.9zM319.1 373.6h1.9v1.9h-1.9zM319.1 375.2h1.9v1.9h-1.9zM319.1 376.9h1.9v1.9h-1.9zM319.1 378.6h1.9v1.9h-1.9zM319.1 380.2h1.9v1.9h-1.9zM319.1 385.1h1.9v1.9h-1.9zM319.1 403.3h1.9v1.9h-1.9zM319.1 404.9h1.9v1.9h-1.9zM319.1 408.2h1.9v1.9h-1.9zM319.1 409.9h1.9v1.9h-1.9zM319.1 411.6h1.9v1.9h-1.9zM319.1 413.2h1.9v1.9h-1.9zM319.1 423.1h1.9v1.9h-1.9zM319.1 449.5h1.9v1.9h-1.9zM320.8 371.9h1.9v1.9h-1.9zM320.8 375.2h1.9v1.9h-1.9zM320.8 376.9h1.9v1.9h-1.9zM320.8 378.6h1.9v1.9h-1.9zM320.8 380.2h1.9v1.9h-1.9zM320.8 381.8h1.9v1.9h-1.9zM320.8 383.5h1.9v1.9h-1.9zM320.8 386.8h1.9v1.9h-1.9zM320.8 395.1h1.9v1.9h-1.9zM320.8 398.3h1.9v1.9h-1.9zM320.8 403.3h1.9v1.9h-1.9zM320.8 404.9h1.9v1.9h-1.9zM320.8 406.6h1.9v1.9h-1.9zM320.8 409.9h1.9v1.9h-1.9zM320.8 411.6h1.9v1.9h-1.9zM320.8 413.2h1.9v1.9h-1.9zM320.8 428.1h1.9v1.9h-1.9zM320.8 442.9h1.9v1.9h-1.9zM320.8 446.2h1.9v1.9h-1.9zM322.4 353.8h1.9v1.9h-1.9zM322.4 365.3h1.9v1.9h-1.9zM322.4 371.9h1.9v1.9h-1.9zM322.4 378.6h1.9v1.9h-1.9zM322.4 380.2h1.9v1.9h-1.9zM322.4 385.1h1.9v1.9h-1.9zM322.4 386.8h1.9v1.9h-1.9zM322.4 403.3h1.9v1.9h-1.9zM322.4 404.9h1.9v1.9h-1.9zM322.4 406.6h1.9v1.9h-1.9zM322.4 408.2h1.9v1.9h-1.9zM322.4 411.6h1.9v1.9h-1.9zM322.4 413.2h1.9v1.9h-1.9zM322.4 416.5h1.9v1.9h-1.9zM322.4 446.2h1.9v1.9h-1.9zM324.1 353.8h1.9v1.9h-1.9zM324.1 360.4h1.9v1.9h-1.9zM324.1 365.3h1.9v1.9h-1.9zM324.1 371.9h1.9v1.9h-1.9zM324.1 373.6h1.9v1.9h-1.9zM324.1 375.2h1.9v1.9h-1.9zM324.1 376.9h1.9v1.9h-1.9zM324.1 381.8h1.9v1.9h-1.9zM324.1 386.8h1.9v1.9h-1.9zM324.1 390.1h1.9v1.9h-1.9zM324.1 403.3h1.9v1.9h-1.9zM324.1 404.9h1.9v1.9h-1.9zM324.1 406.6h1.9v1.9h-1.9zM324.1 408.2h1.9v1.9h-1.9zM324.1 409.9h1.9v1.9h-1.9zM324.1 411.6h1.9v1.9h-1.9zM324.1 413.2h1.9v1.9h-1.9zM324.1 416.5h1.9v1.9h-1.9zM324.1 423.1h1.9v1.9h-1.9zM324.1 424.8h1.9v1.9h-1.9zM324.1 426.4h1.9v1.9h-1.9zM324.1 441.2h1.9v1.9h-1.9zM325.8 373.6h1.9v1.9h-1.9zM325.8 375.2h1.9v1.9h-1.9zM325.8 376.9h1.9v1.9h-1.9zM325.8 378.6h1.9v1.9h-1.9zM325.8 380.2h1.9v1.9h-1.9zM325.8 388.4h1.9v1.9h-1.9zM325.8 390.1h1.9v1.9h-1.9zM325.8 404.9h1.9v1.9h-1.9zM325.8 406.6h1.9v1.9h-1.9zM325.8 408.2h1.9v1.9h-1.9zM325.8 409.9h1.9v1.9h-1.9zM325.8 411.6h1.9v1.9h-1.9zM325.8 416.5h1.9v1.9h-1.9zM325.8 431.3h1.9v1.9h-1.9zM325.8 433.0h1.9v1.9h-1.9zM325.8 436.3h1.9v1.9h-1.9zM325.8 437.9h1.9v1.9h-1.9zM325.8 446.2h1.9v1.9h-1.9zM327.4 388.4h1.9v1.9h-1.9zM327.4 395.1h1.9v1.9h-1.9zM327.4 396.7h1.9v1.9h-1.9zM327.4 426.4h1.9v1.9h-1.9zM327.4 428.1h1.9v1.9h-1.9zM327.4 434.6h1.9v1.9h-1.9zM327.4 436.3h1.9v1.9h-1.9zM327.4 441.2h1.9v1.9h-1.9zM327.4 442.9h1.9v1.9h-1.9zM327.4 446.2h1.9v1.9h-1.9zM329.1 393.4h1.9v1.9h-1.9zM329.1 395.1h1.9v1.9h-1.9zM329.1 396.7h1.9v1.9h-1.9zM329.1 398.3h1.9v1.9h-1.9zM329.1 424.8h1.9v1.9h-1.9zM329.1 429.7h1.9v1.9h-1.9zM329.1 441.2h1.9v1.9h-1.9zM329.1 446.2h1.9v1.9h-1.9zM329.1 449.5h1.9v1.9h-1.9zM330.7 391.8h1.9v1.9h-1.9zM330.7 393.4h1.9v1.9h-1.9zM330.7 395.1h1.9v1.9h-1.9zM330.7 396.7h1.9v1.9h-1.9zM330.7 398.3h1.9v1.9h-1.9zM330.7 400.0h1.9v1.9h-1.9zM330.7 408.2h1.9v1.9h-1.9zM330.7 416.5h1.9v1.9h-1.9zM330.7 428.1h1.9v1.9h-1.9zM332.3 390.1h1.9v1.9h-1.9zM332.3 391.8h1.9v1.9h-1.9zM332.3 393.4h1.9v1.9h-1.9zM332.3 398.3h1.9v1.9h-1.9zM332.3 400.0h1.9v1.9h-1.9zM332.3 401.6h1.9v1.9h-1.9zM332.3 416.5h1.9v1.9h-1.9zM332.3 423.1h1.9v1.9h-1.9zM332.3 431.3h1.9v1.9h-1.9zM334.0 390.1h1.9v1.9h-1.9zM334.0 391.8h1.9v1.9h-1.9zM334.0 393.4h1.9v1.9h-1.9zM334.0 398.3h1.9v1.9h-1.9zM334.0 400.0h1.9v1.9h-1.9zM334.0 401.6h1.9v1.9h-1.9zM334.0 421.4h1.9v1.9h-1.9zM334.0 423.1h1.9v1.9h-1.9zM334.0 426.4h1.9v1.9h-1.9zM334.0 433.0h1.9v1.9h-1.9zM334.0 434.6h1.9v1.9h-1.9zM334.0 437.9h1.9v1.9h-1.9zM334.0 439.6h1.9v1.9h-1.9zM334.0 442.9h1.9v1.9h-1.9zM334.0 446.2h1.9v1.9h-1.9zM335.6 391.8h1.9v1.9h-1.9zM335.6 393.4h1.9v1.9h-1.9zM335.6 395.1h1.9v1.9h-1.9zM335.6 396.7h1.9v1.9h-1.9zM335.6 398.3h1.9v1.9h-1.9zM335.6 400.0h1.9v1.9h-1.9zM335.6 401.6h1.9v1.9h-1.9zM335.6 408.2h1.9v1.9h-1.9zM335.6 423.1h1.9v1.9h-1.9zM335.6 429.7h1.9v1.9h-1.9zM335.6 433.0h1.9v1.9h-1.9zM335.6 442.9h1.9v1.9h-1.9zM335.6 451.1h1.9v1.9h-1.9zM337.3 393.4h1.9v1.9h-1.9zM337.3 395.1h1.9v1.9h-1.9zM337.3 396.7h1.9v1.9h-1.9zM337.3 398.3h1.9v1.9h-1.9zM337.3 400.0h1.9v1.9h-1.9zM337.3 433.0h1.9v1.9h-1.9zM338.9 381.8h1.9v1.9h-1.9zM338.9 393.4h1.9v1.9h-1.9zM338.9 395.1h1.9v1.9h-1.9zM338.9 396.7h1.9v1.9h-1.9zM338.9 398.3h1.9v1.9h-1.9zM340.6 380.2h1.9v1.9h-1.9zM340.6 381.8h1.9v1.9h-1.9zM340.6 383.5h1.9v1.9h-1.9zM340.6 395.1h1.9v1.9h-1.9zM340.6 396.7h1.9v1.9h-1.9zM340.6 403.3h1.9v1.9h-1.9zM340.6 404.9h1.9v1.9h-1.9zM342.2 378.6h1.9v1.9h-1.9zM342.2 401.6h1.9v1.9h-1.9zM342.2 403.3h1.9v1.9h-1.9zM343.9 378.6h1.9v1.9h-1.9zM343.9 380.2h1.9v1.9h-1.9zM343.9 383.5h1.9v1.9h-1.9zM343.9 385.1h1.9v1.9h-1.9zM343.9 404.9h1.9v1.9h-1.9zM343.9 406.6h1.9v1.9h-1.9zM343.9 408.2h1.9v1.9h-1.9zM345.6 375.2h1.9v1.9h-1.9zM345.6 376.9h1.9v1.9h-1.9zM345.6 378.6h1.9v1.9h-1.9zM345.6 380.2h1.9v1.9h-1.9zM345.6 381.8h1.9v1.9h-1.9zM345.6 383.5h1.9v1.9h-1.9zM345.6 385.1h1.9v1.9h-1.9zM345.6 386.8h1.9v1.9h-1.9zM345.6 406.6h1.9v1.9h-1.9zM345.6 409.9h1.9v1.9h-1.9zM347.2 373.6h1.9v1.9h-1.9zM347.2 375.2h1.9v1.9h-1.9zM347.2 376.9h1.9v1.9h-1.9zM347.2 378.6h1.9v1.9h-1.9zM347.2 380.2h1.9v1.9h-1.9zM347.2 381.8h1.9v1.9h-1.9zM347.2 383.5h1.9v1.9h-1.9zM347.2 385.1h1.9v1.9h-1.9zM347.2 386.8h1.9v1.9h-1.9zM347.2 388.4h1.9v1.9h-1.9zM347.2 408.2h1.9v1.9h-1.9zM347.2 411.6h1.9v1.9h-1.9zM347.2 418.1h1.9v1.9h-1.9zM347.2 428.1h1.9v1.9h-1.9zM348.8 373.6h1.9v1.9h-1.9zM348.8 378.6h1.9v1.9h-1.9zM348.8 380.2h1.9v1.9h-1.9zM348.8 383.5h1.9v1.9h-1.9zM348.8 385.1h1.9v1.9h-1.9zM348.8 388.4h1.9v1.9h-1.9zM348.8 390.1h1.9v1.9h-1.9zM348.8 406.6h1.9v1.9h-1.9zM348.8 408.2h1.9v1.9h-1.9zM348.8 411.6h1.9v1.9h-1.9zM348.8 413.2h1.9v1.9h-1.9zM348.8 414.8h1.9v1.9h-1.9zM348.8 418.1h1.9v1.9h-1.9zM350.5 375.2h1.9v1.9h-1.9zM350.5 376.9h1.9v1.9h-1.9zM350.5 378.6h1.9v1.9h-1.9zM350.5 380.2h1.9v1.9h-1.9zM350.5 381.8h1.9v1.9h-1.9zM350.5 383.5h1.9v1.9h-1.9zM350.5 385.1h1.9v1.9h-1.9zM350.5 386.8h1.9v1.9h-1.9zM350.5 388.4h1.9v1.9h-1.9zM350.5 404.9h1.9v1.9h-1.9zM350.5 406.6h1.9v1.9h-1.9zM350.5 408.2h1.9v1.9h-1.9zM350.5 409.9h1.9v1.9h-1.9zM350.5 411.6h1.9v1.9h-1.9zM350.5 413.2h1.9v1.9h-1.9zM350.5 416.5h1.9v1.9h-1.9zM350.5 418.1h1.9v1.9h-1.9zM350.5 442.9h1.9v1.9h-1.9zM350.5 444.6h1.9v1.9h-1.9zM350.5 446.2h1.9v1.9h-1.9zM352.1 376.9h1.9v1.9h-1.9zM352.1 378.6h1.9v1.9h-1.9zM352.1 380.2h1.9v1.9h-1.9zM352.1 381.8h1.9v1.9h-1.9zM352.1 383.5h1.9v1.9h-1.9zM352.1 385.1h1.9v1.9h-1.9zM352.1 386.8h1.9v1.9h-1.9zM352.1 388.4h1.9v1.9h-1.9zM352.1 404.9h1.9v1.9h-1.9zM352.1 406.6h1.9v1.9h-1.9zM352.1 408.2h1.9v1.9h-1.9zM352.1 409.9h1.9v1.9h-1.9zM352.1 413.2h1.9v1.9h-1.9zM352.1 418.1h1.9v1.9h-1.9zM353.8 378.6h1.9v1.9h-1.9zM353.8 380.2h1.9v1.9h-1.9zM353.8 383.5h1.9v1.9h-1.9zM353.8 385.1h1.9v1.9h-1.9zM353.8 404.9h1.9v1.9h-1.9zM353.8 406.6h1.9v1.9h-1.9zM353.8 408.2h1.9v1.9h-1.9zM353.8 409.9h1.9v1.9h-1.9zM353.8 411.6h1.9v1.9h-1.9zM353.8 413.2h1.9v1.9h-1.9zM353.8 416.5h1.9v1.9h-1.9zM355.4 380.2h1.9v1.9h-1.9zM355.4 383.5h1.9v1.9h-1.9zM355.4 385.1h1.9v1.9h-1.9zM355.4 404.9h1.9v1.9h-1.9zM355.4 406.6h1.9v1.9h-1.9zM355.4 408.2h1.9v1.9h-1.9zM355.4 409.9h1.9v1.9h-1.9zM355.4 411.6h1.9v1.9h-1.9zM355.4 413.2h1.9v1.9h-1.9zM355.4 418.1h1.9v1.9h-1.9zM355.4 442.9h1.9v1.9h-1.9zM355.4 444.6h1.9v1.9h-1.9zM355.4 446.2h1.9v1.9h-1.9zM355.4 447.8h1.9v1.9h-1.9zM357.1 381.8h1.9v1.9h-1.9zM357.1 383.5h1.9v1.9h-1.9zM357.1 404.9h1.9v1.9h-1.9zM357.1 406.6h1.9v1.9h-1.9zM357.1 409.9h1.9v1.9h-1.9zM357.1 411.6h1.9v1.9h-1.9zM357.1 413.2h1.9v1.9h-1.9zM357.1 418.1h1.9v1.9h-1.9zM357.1 421.4h1.9v1.9h-1.9zM357.1 441.2h1.9v1.9h-1.9zM357.1 442.9h1.9v1.9h-1.9zM357.1 446.2h1.9v1.9h-1.9zM357.1 447.8h1.9v1.9h-1.9zM358.8 360.4h1.9v1.9h-1.9zM358.8 406.6h1.9v1.9h-1.9zM358.8 408.2h1.9v1.9h-1.9zM358.8 409.9h1.9v1.9h-1.9zM358.8 411.6h1.9v1.9h-1.9zM360.4 362.1h1.9v1.9h-1.9zM360.4 418.1h1.9v1.9h-1.9zM362.1 357.1h1.9v1.9h-1.9zM362.1 362.1h1.9v1.9h-1.9zM362.1 363.7h1.9v1.9h-1.9zM362.1 418.1h1.9v1.9h-1.9zM363.7 352.1h1.9v1.9h-1.9zM363.7 353.8h1.9v1.9h-1.9zM363.7 358.8h1.9v1.9h-1.9zM363.7 360.4h1.9v1.9h-1.9zM363.7 362.1h1.9v1.9h-1.9zM363.7 363.7h1.9v1.9h-1.9zM363.7 365.3h1.9v1.9h-1.9zM365.3 350.5h1.9v1.9h-1.9zM365.3 353.8h1.9v1.9h-1.9zM365.3 355.4h1.9v1.9h-1.9zM365.3 360.4h1.9v1.9h-1.9zM365.3 362.1h1.9v1.9h-1.9zM365.3 365.3h1.9v1.9h-1.9zM365.3 367.0h1.9v1.9h-1.9zM365.3 404.9h1.9v1.9h-1.9zM365.3 406.6h1.9v1.9h-1.9zM365.3 409.9h1.9v1.9h-1.9zM365.3 416.5h1.9v1.9h-1.9zM365.3 418.1h1.9v1.9h-1.9zM367.0 348.8h1.9v1.9h-1.9zM367.0 355.4h1.9v1.9h-1.9zM367.0 357.1h1.9v1.9h-1.9zM367.0 358.8h1.9v1.9h-1.9zM367.0 360.4h1.9v1.9h-1.9zM367.0 363.7h1.9v1.9h-1.9zM367.0 367.0h1.9v1.9h-1.9zM367.0 368.6h1.9v1.9h-1.9zM367.0 418.1h1.9v1.9h-1.9zM368.6 350.5h1.9v1.9h-1.9zM368.6 353.8h1.9v1.9h-1.9zM368.6 355.4h1.9v1.9h-1.9zM368.6 357.1h1.9v1.9h-1.9zM368.6 358.8h1.9v1.9h-1.9zM368.6 360.4h1.9v1.9h-1.9zM368.6 362.1h1.9v1.9h-1.9zM368.6 365.3h1.9v1.9h-1.9zM368.6 368.6h1.9v1.9h-1.9zM368.6 370.3h1.9v1.9h-1.9zM370.3 350.5h1.9v1.9h-1.9zM370.3 352.1h1.9v1.9h-1.9zM370.3 353.8h1.9v1.9h-1.9zM370.3 355.4h1.9v1.9h-1.9zM370.3 358.8h1.9v1.9h-1.9zM370.3 362.1h1.9v1.9h-1.9zM370.3 363.7h1.9v1.9h-1.9zM370.3 367.0h1.9v1.9h-1.9zM370.3 368.6h1.9v1.9h-1.9zM370.3 370.3h1.9v1.9h-1.9zM371.9 348.8h1.9v1.9h-1.9zM371.9 350.5h1.9v1.9h-1.9zM371.9 352.1h1.9v1.9h-1.9zM371.9 353.8h1.9v1.9h-1.9zM371.9 358.8h1.9v1.9h-1.9zM371.9 363.7h1.9v1.9h-1.9zM371.9 365.3h1.9v1.9h-1.9zM371.9 367.0h1.9v1.9h-1.9zM371.9 368.6h1.9v1.9h-1.9zM371.9 371.9h1.9v1.9h-1.9zM371.9 404.9h1.9v1.9h-1.9zM371.9 418.1h1.9v1.9h-1.9zM371.9 433.0h1.9v1.9h-1.9zM373.6 347.2h1.9v1.9h-1.9zM373.6 348.8h1.9v1.9h-1.9zM373.6 352.1h1.9v1.9h-1.9zM373.6 353.8h1.9v1.9h-1.9zM373.6 355.4h1.9v1.9h-1.9zM373.6 358.8h1.9v1.9h-1.9zM373.6 360.4h1.9v1.9h-1.9zM373.6 362.1h1.9v1.9h-1.9zM373.6 365.3h1.9v1.9h-1.9zM373.6 368.6h1.9v1.9h-1.9zM375.2 347.2h1.9v1.9h-1.9zM375.2 348.8h1.9v1.9h-1.9zM375.2 352.1h1.9v1.9h-1.9zM375.2 353.8h1.9v1.9h-1.9zM375.2 355.4h1.9v1.9h-1.9zM375.2 357.1h1.9v1.9h-1.9zM375.2 358.8h1.9v1.9h-1.9zM375.2 362.1h1.9v1.9h-1.9zM375.2 363.7h1.9v1.9h-1.9zM375.2 365.3h1.9v1.9h-1.9zM375.2 370.3h1.9v1.9h-1.9zM376.9 348.8h1.9v1.9h-1.9zM376.9 350.5h1.9v1.9h-1.9zM376.9 352.1h1.9v1.9h-1.9zM376.9 357.1h1.9v1.9h-1.9zM376.9 358.8h1.9v1.9h-1.9zM376.9 363.7h1.9v1.9h-1.9zM376.9 365.3h1.9v1.9h-1.9zM376.9 367.0h1.9v1.9h-1.9zM376.9 433.0h1.9v1.9h-1.9zM378.6 350.5h1.9v1.9h-1.9zM378.6 357.1h1.9v1.9h-1.9zM378.6 358.8h1.9v1.9h-1.9zM378.6 360.4h1.9v1.9h-1.9zM378.6 362.1h1.9v1.9h-1.9zM378.6 363.7h1.9v1.9h-1.9zM378.6 367.0h1.9v1.9h-1.9zM378.6 368.6h1.9v1.9h-1.9zM380.2 355.4h1.9v1.9h-1.9zM380.2 357.1h1.9v1.9h-1.9zM380.2 358.8h1.9v1.9h-1.9zM380.2 360.4h1.9v1.9h-1.9zM380.2 362.1h1.9v1.9h-1.9zM380.2 368.6h1.9v1.9h-1.9zM380.2 404.9h1.9v1.9h-1.9zM380.2 406.6h1.9v1.9h-1.9zM380.2 414.8h1.9v1.9h-1.9zM380.2 416.5h1.9v1.9h-1.9zM380.2 418.1h1.9v1.9h-1.9zM380.2 419.8h1.9v1.9h-1.9zM381.8 353.8h1.9v1.9h-1.9zM381.8 355.4h1.9v1.9h-1.9zM381.8 358.8h1.9v1.9h-1.9zM381.8 362.1h1.9v1.9h-1.9zM381.8 363.7h1.9v1.9h-1.9zM381.8 367.0h1.9v1.9h-1.9zM383.5 330.7h1.9v1.9h-1.9zM383.5 353.8h1.9v1.9h-1.9zM383.5 360.4h1.9v1.9h-1.9zM383.5 365.3h1.9v1.9h-1.9zM383.5 433.0h1.9v1.9h-1.9zM385.1 355.4h1.9v1.9h-1.9zM385.1 357.1h1.9v1.9h-1.9zM385.1 358.8h1.9v1.9h-1.9zM385.1 360.4h1.9v1.9h-1.9zM385.1 414.8h1.9v1.9h-1.9zM385.1 416.5h1.9v1.9h-1.9zM385.1 423.1h1.9v1.9h-1.9zM385.1 426.4h1.9v1.9h-1.9zM385.1 433.0h1.9v1.9h-1.9zM386.8 357.1h1.9v1.9h-1.9zM386.8 358.8h1.9v1.9h-1.9zM386.8 414.8h1.9v1.9h-1.9zM386.8 416.5h1.9v1.9h-1.9zM386.8 421.4h1.9v1.9h-1.9zM386.8 423.1h1.9v1.9h-1.9zM386.8 424.8h1.9v1.9h-1.9zM386.8 426.4h1.9v1.9h-1.9zM386.8 428.1h1.9v1.9h-1.9zM388.4 332.3h1.9v1.9h-1.9zM388.4 334.0h1.9v1.9h-1.9zM388.4 437.9h1.9v1.9h-1.9zM388.4 439.6h1.9v1.9h-1.9zM390.1 330.7h1.9v1.9h-1.9zM390.1 332.3h1.9v1.9h-1.9zM390.1 334.0h1.9v1.9h-1.9zM390.1 335.6h1.9v1.9h-1.9zM390.1 340.6h1.9v1.9h-1.9zM390.1 437.9h1.9v1.9h-1.9zM390.1 439.6h1.9v1.9h-1.9zM391.8 329.1h1.9v1.9h-1.9zM391.8 330.7h1.9v1.9h-1.9zM391.8 332.3h1.9v1.9h-1.9zM391.8 334.0h1.9v1.9h-1.9zM391.8 335.6h1.9v1.9h-1.9zM391.8 337.3h1.9v1.9h-1.9zM393.4 327.4h1.9v1.9h-1.9zM393.4 329.1h1.9v1.9h-1.9zM393.4 330.7h1.9v1.9h-1.9zM393.4 335.6h1.9v1.9h-1.9zM393.4 337.3h1.9v1.9h-1.9zM393.4 338.9h1.9v1.9h-1.9zM393.4 343.9h1.9v1.9h-1.9zM395.1 325.8h1.9v1.9h-1.9zM395.1 327.4h1.9v1.9h-1.9zM395.1 329.1h1.9v1.9h-1.9zM395.1 335.6h1.9v1.9h-1.9zM395.1 337.3h1.9v1.9h-1.9zM395.1 338.9h1.9v1.9h-1.9zM395.1 340.6h1.9v1.9h-1.9zM396.7 325.8h1.9v1.9h-1.9zM396.7 327.4h1.9v1.9h-1.9zM396.7 329.1h1.9v1.9h-1.9zM396.7 332.3h1.9v1.9h-1.9zM396.7 334.0h1.9v1.9h-1.9zM396.7 335.6h1.9v1.9h-1.9zM396.7 337.3h1.9v1.9h-1.9zM396.7 338.9h1.9v1.9h-1.9zM396.7 340.6h1.9v1.9h-1.9zM396.7 342.2h1.9v1.9h-1.9zM398.3 327.4h1.9v1.9h-1.9zM398.3 329.1h1.9v1.9h-1.9zM398.3 330.7h1.9v1.9h-1.9zM398.3 332.3h1.9v1.9h-1.9zM398.3 334.0h1.9v1.9h-1.9zM398.3 335.6h1.9v1.9h-1.9zM398.3 337.3h1.9v1.9h-1.9zM398.3 338.9h1.9v1.9h-1.9zM398.3 340.6h1.9v1.9h-1.9zM398.3 342.2h1.9v1.9h-1.9zM398.3 343.9h1.9v1.9h-1.9zM400.0 329.1h1.9v1.9h-1.9zM400.0 330.7h1.9v1.9h-1.9zM400.0 332.3h1.9v1.9h-1.9zM400.0 334.0h1.9v1.9h-1.9zM400.0 335.6h1.9v1.9h-1.9zM400.0 337.3h1.9v1.9h-1.9zM400.0 342.2h1.9v1.9h-1.9zM400.0 343.9h1.9v1.9h-1.9zM400.0 345.6h1.9v1.9h-1.9zM401.6 330.7h1.9v1.9h-1.9zM401.6 332.3h1.9v1.9h-1.9zM401.6 334.0h1.9v1.9h-1.9zM401.6 335.6h1.9v1.9h-1.9zM401.6 337.3h1.9v1.9h-1.9zM401.6 342.2h1.9v1.9h-1.9zM401.6 343.9h1.9v1.9h-1.9zM401.6 345.6h1.9v1.9h-1.9zM403.3 332.3h1.9v1.9h-1.9zM403.3 334.0h1.9v1.9h-1.9zM403.3 350.5h1.9v1.9h-1.9zM404.9 329.1h1.9v1.9h-1.9zM404.9 332.3h1.9v1.9h-1.9zM404.9 334.0h1.9v1.9h-1.9zM404.9 335.6h1.9v1.9h-1.9zM404.9 340.6h1.9v1.9h-1.9zM404.9 342.2h1.9v1.9h-1.9zM404.9 343.9h1.9v1.9h-1.9zM406.6 330.7h1.9v1.9h-1.9zM406.6 334.0h1.9v1.9h-1.9zM406.6 335.6h1.9v1.9h-1.9zM406.6 337.3h1.9v1.9h-1.9zM406.6 338.9h1.9v1.9h-1.9zM406.6 340.6h1.9v1.9h-1.9zM406.6 342.2h1.9v1.9h-1.9zM408.2 335.6h1.9v1.9h-1.9zM408.2 337.3h1.9v1.9h-1.9zM408.2 338.9h1.9v1.9h-1.9zM408.2 340.6h1.9v1.9h-1.9z" fill="#b8b8b8"/>
<path d="M273.2 454.6L411.4 325.5" stroke="#1a1a1a" stroke-width="1.2"/>
<rect x="273.2" y="325.5" width="138.2" height="129.1" fill="none" stroke="#a0a0a0" stroke-width="1.3"/>
<path d="M273.2 435.0h1.6M294.2 454.6v-1.6M411.4 435.0h-1.6M294.2 325.5v1.6M273.2 415.4h1.6M315.2 454.6v-1.6M411.4 415.4h-1.6M315.2 325.5v1.6M273.2 395.7h1.6M336.2 454.6v-1.6M411.4 395.7h-1.6M336.2 325.5v1.6M273.2 376.1h1.6M357.2 454.6v-1.6M411.4 376.1h-1.6M357.2 325.5v1.6M273.2 356.5h1.6M378.2 454.6v-1.6M411.4 356.5h-1.6M378.2 325.5v1.6M273.2 336.9h1.6M399.2 454.6v-1.6M411.4 336.9h-1.6M399.2 325.5v1.6" stroke="#222" stroke-width="0.7"/>
<defs><linearGradient id="gcb" x1="0" y1="0" x2="0" y2="1"><stop offset="0" stop-color="#0a0a0a"/><stop offset="1" stop-color="#c4c4c4"/></linearGradient></defs>
<rect x="414.6" y="325.5" width="7.4" height="129.1" fill="url(#gcb)" stroke="#888" stroke-width="0.5"/>
<text transform="translate(425.20,456.60) scale(0.95,1)" font-family='"Liberation Sans", sans-serif' font-size="5.8" text-anchor="start" font-weight="normal" fill="#222" stroke="#222" stroke-width="0.1">0.0</text>
<text transform="translate(425.20,435.08) scale(0.95,1)" font-family='"Liberation Sans", sans-serif' font-size="5.8" text-anchor="start" font-weight="normal" fill="#222" stroke="#222" stroke-width="0.1">10.0</text>
<text transform="translate(425.20,413.57) scale(0.95,1)" font-family='"Liberation Sans", sans-serif' font-size="5.8" text-anchor="start" font-weight="normal" fill="#222" stroke="#222" stroke-width="0.1">20.0</text>
<text transform="translate(425.20,392.05) scale(0.95,1)" font-family='"Liberation Sans", sans-serif' font-size="5.8" text-anchor="start" font-weight="normal" fill="#222" stroke="#222" stroke-width="0.1">30.0</text>
<text transform="translate(425.20,370.53) scale(0.95,1)" font-family='"Liberation Sans", sans-serif' font-size="5.8" text-anchor="start" font-weight="normal" fill="#222" stroke="#222" stroke-width="0.1">40.0</text>
<text transform="translate(425.20,349.02) scale(0.95,1)" font-family='"Liberation Sans", sans-serif' font-size="5.8" text-anchor="start" font-weight="normal" fill="#222" stroke="#222" stroke-width="0.1">50.0</text>
<text transform="translate(425.20,327.50) scale(0.95,1)" font-family='"Liberation Sans", sans-serif' font-size="5.8" text-anchor="start" font-weight="normal" fill="#222" stroke="#222" stroke-width="0.1">60.0</text>
<path d="M414.6 454.6h1.4M422 454.6h-1.4M414.6 433.1h1.4M422 433.1h-1.4M414.6 411.6h1.4M422 411.6h-1.4M414.6 390.1h1.4M422 390.1h-1.4M414.6 368.5h1.4M422 368.5h-1.4M414.6 347.0h1.4M422 347.0h-1.4M414.6 325.5h1.4M422 325.5h-1.4" stroke="#111" stroke-width="0.6"/>
<text transform="translate(268.60,456.60) scale(0.95,1)" font-family='"Liberation Sans", sans-serif' font-size="5.8" text-anchor="end" font-weight="normal" fill="#222" stroke="#222" stroke-width="0.1">0</text>
<text transform="translate(273.20,463.20) scale(0.95,1)" font-family='"Liberation Sans", sans-serif' font-size="5.8" text-anchor="middle" font-weight="normal" fill="#222" stroke="#222" stroke-width="0.1">0</text>
<text transform="translate(268.60,436.98) scale(0.95,1)" font-family='"Liberation Sans", sans-serif' font-size="5.8" text-anchor="end" font-weight="normal" fill="#222" stroke="#222" stroke-width="0.1">100</text>
<text transform="translate(294.20,463.20) scale(0.95,1)" font-family='"Liberation Sans", sans-serif' font-size="5.8" text-anchor="middle" font-weight="normal" fill="#222" stroke="#222" stroke-width="0.1">100</text>
<text transform="translate(268.60,417.36) scale(0.95,1)" font-family='"Liberation Sans", sans-serif' font-size="5.8" text-anchor="end" font-weight="normal" fill="#222" stroke="#222" stroke-width="0.1">200</text>
<text transform="translate(315.21,463.20) scale(0.95,1)" font-family='"Liberation Sans", sans-serif' font-size="5.8" text-anchor="middle" font-weight="normal" fill="#222" stroke="#222" stroke-width="0.1">200</text>
<text transform="translate(268.60,397.74) scale(0.95,1)" font-family='"Liberation Sans", sans-serif' font-size="5.8" text-anchor="end" font-weight="normal" fill="#222" stroke="#222" stroke-width="0.1">300</text>
<text transform="translate(336.21,463.20) scale(0.95,1)" font-family='"Liberation Sans", sans-serif' font-size="5.8" text-anchor="middle" font-weight="normal" fill="#222" stroke="#222" stroke-width="0.1">300</text>
<text transform="translate(268.60,378.12) scale(0.95,1)" font-family='"Liberation Sans", sans-serif' font-size="5.8" text-anchor="end" font-weight="normal" fill="#222" stroke="#222" stroke-width="0.1">400</text>
<text transform="translate(357.21,463.20) scale(0.95,1)" font-family='"Liberation Sans", sans-serif' font-size="5.8" text-anchor="middle" font-weight="normal" fill="#222" stroke="#222" stroke-width="0.1">400</text>
<text transform="translate(268.60,358.50) scale(0.95,1)" font-family='"Liberation Sans", sans-serif' font-size="5.8" text-anchor="end" font-weight="normal" fill="#222" stroke="#222" stroke-width="0.1">500</text>
<text transform="translate(378.22,463.20) scale(0.95,1)" font-family='"Liberation Sans", sans-serif' font-size="5.8" text-anchor="middle" font-weight="normal" fill="#222" stroke="#222" stroke-width="0.1">500</text>
<text transform="translate(268.60,338.88) scale(0.95,1)" font-family='"Liberation Sans", sans-serif' font-size="5.8" text-anchor="end" font-weight="normal" fill="#222" stroke="#222" stroke-width="0.1">600</text>
<text transform="translate(399.22,463.20) scale(0.95,1)" font-family='"Liberation Sans", sans-serif' font-size="5.8" text-anchor="middle" font-weight="normal" fill="#222" stroke="#222" stroke-width="0.1">600</text>
<text transform="translate(341.50,472.30) scale(0.95,1)" font-family='"Liberation Sans", sans-serif' font-size="5.8" text-anchor="middle" font-weight="normal" fill="#222" stroke="#222" stroke-width="0.1">Atom index</text>
<text transform="translate(252.20,390.50) rotate(-90) scale(0.95,1)" font-family='"Liberation Sans", sans-serif' font-size="5.8" text-anchor="middle" font-weight="normal" fill="#222" stroke="#222" stroke-width="0.1">Atom index</text>
<text transform="translate(347.20,492.00)" font-family='"Liberation Serif", serif' font-size="13.5" text-anchor="middle" font-weight="bold" fill="#000">(G)</text>
</svg>
</body></html>
